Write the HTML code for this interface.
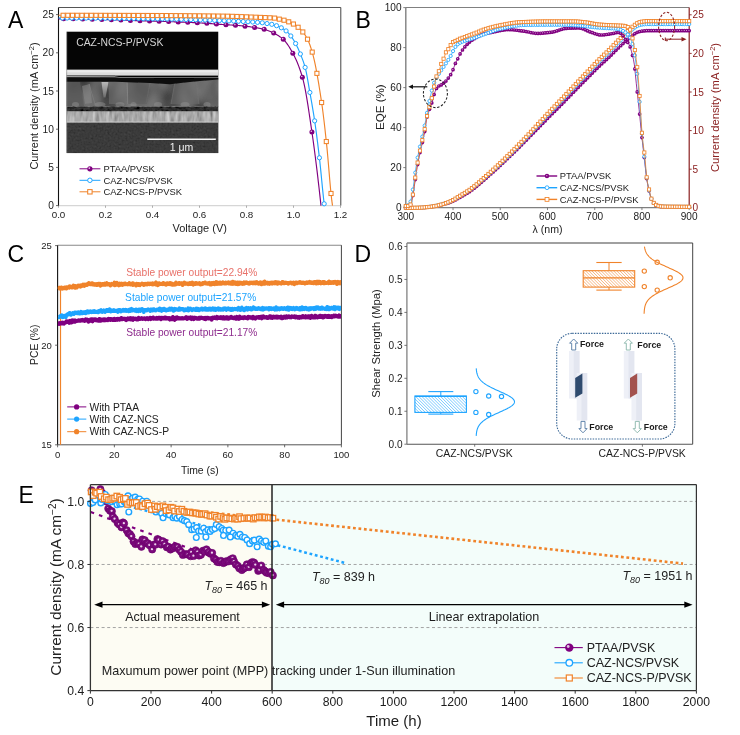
<!DOCTYPE html><html><head><meta charset="utf-8"><style>html,body{margin:0;padding:0;background:#fff;} svg{display:block;} text{font-family:'Liberation Sans', Arial, sans-serif;}</style></head><body>
<svg width="740" height="735" viewBox="0 0 740 735">
<rect width="740" height="735" fill="#fff"/>
<text x="8" y="27.7" font-size="23" text-anchor="start" fill="#000" >A</text>
<text x="355.5" y="27.7" font-size="23" text-anchor="start" fill="#000" >B</text>
<text x="7.5" y="261.5" font-size="23" text-anchor="start" fill="#000" >C</text>
<text x="354.5" y="261.5" font-size="23" text-anchor="start" fill="#000" >D</text>
<text x="18.5" y="503" font-size="23" text-anchor="start" fill="#000" >E</text>
<defs><filter id="semn" x="0" y="0" width="100%" height="100%">
 <feTurbulence type="fractalNoise" baseFrequency="0.5 0.5" numOctaves="2" seed="3" result="t"/>
 <feColorMatrix type="matrix" values="0.2667 0.2667 0.2667 0 0.1000  0.2667 0.2667 0.2667 0 0.1000  0.2667 0.2667 0.2667 0 0.1000  0 0 0 0 1" in="t" result="g"/>
 <feBlend in="g" in2="SourceGraphic" mode="overlay" result="o"/>
 <feComposite in="o" in2="SourceGraphic" operator="in"/>
</filter>
<filter id="semv" x="0" y="0" width="100%" height="100%">
 <feTurbulence type="fractalNoise" baseFrequency="0.3 0.08" numOctaves="2" seed="9" result="t"/>
 <feColorMatrix type="matrix" values="0.3333 0.3333 0.3333 0 0.0000  0.3333 0.3333 0.3333 0 0.0000  0.3333 0.3333 0.3333 0 0.0000  0 0 0 0 1" in="t" result="g"/>
 <feBlend in="g" in2="SourceGraphic" mode="overlay" result="o"/>
 <feComposite in="o" in2="SourceGraphic" operator="in"/>
</filter>
<filter id="semg" x="0" y="0" width="100%" height="100%">
 <feTurbulence type="fractalNoise" baseFrequency="0.05 0.03" numOctaves="2" seed="4" result="t"/>
 <feColorMatrix type="matrix" values="0.6000 0.6000 0.6000 0 -0.4000  0.6000 0.6000 0.6000 0 -0.4000  0.6000 0.6000 0.6000 0 -0.4000  0 0 0 0 1" in="t" result="g"/>
 <feBlend in="g" in2="SourceGraphic" mode="overlay" result="o"/>
 <feComposite in="o" in2="SourceGraphic" operator="in"/>
</filter>
<filter id="semd" x="0" y="0" width="100%" height="100%">
 <feTurbulence type="fractalNoise" baseFrequency="0.25 0.4" numOctaves="2" seed="6" result="t"/>
 <feColorMatrix type="matrix" values="0.8333 0.8333 0.8333 0 -0.7500  0.8333 0.8333 0.8333 0 -0.7500  0.8333 0.8333 0.8333 0 -0.7500  0 0 0 0 1" in="t" result="g"/>
 <feBlend in="g" in2="SourceGraphic" mode="overlay" result="o"/>
 <feComposite in="o" in2="SourceGraphic" operator="in"/>
</filter>

<filter id="blur05"><feGaussianBlur stdDeviation="0.6"/></filter>
<linearGradient id="wedge" x1="0" y1="0" x2="0" y2="1"><stop offset="0" stop-color="#b8b8b8"/><stop offset="1" stop-color="#6a6a6a"/></linearGradient>
<clipPath id="semclip"><rect x="66.4" y="31.4" width="152.1" height="121.8"/></clipPath>
</defs>
<g clip-path="url(#semclip)">
<rect x="66.4" y="31.4" width="152.1" height="121.8" fill="#050505"/>
<rect x="66.4" y="79" width="152.1" height="28" fill="#626262" filter="url(#semg)"/>
<g filter="url(#blur05)">
<path d="M66.4,82 L80,82 L84,106 L66.4,106 Z" fill="#5a5a5a" opacity="0.7"/>
<path d="M82,86 L90,84 L92,103 L85,104 Z" fill="#8a8a8a" opacity="0.55"/>
<path d="M101.5,82 L108.5,82 L105.5,97.5 L103.5,97.5 Z" fill="url(#wedge)"/>
<path d="M108.5,82 L127,82 L126,104 L109,104 Z" fill="#6e6e6e" opacity="0.6"/>
<path d="M127,82.5 L128,104" stroke="#8a8a8a" stroke-width="0.7" fill="none"/>
<path d="M89,84 L95,104" stroke="#7e7e7e" stroke-width="0.7" fill="none"/>
<path d="M150,82 L146,104" stroke="#7a7a7a" stroke-width="0.6" fill="none"/>
<path d="M175,82 L171,104" stroke="#777" stroke-width="0.6" fill="none"/>
<path d="M196,82 L199,104" stroke="#777" stroke-width="0.6" fill="none"/>
<path d="M128,82 L150,82 L147,104 L128,104 Z" fill="#5c5c5c" opacity="0.5"/>
<path d="M175,82 L196,82 L199,104 L171,104 Z" fill="#6c6c6c" opacity="0.5"/>
<ellipse cx="75.5" cy="104.5" rx="3.5" ry="2.6" fill="#9a9a9a" opacity="0.4"/>
<ellipse cx="100" cy="104.5" rx="5.5" ry="2.6" fill="#9a9a9a" opacity="0.4"/>
<ellipse cx="120" cy="104.5" rx="4.5" ry="2.6" fill="#9a9a9a" opacity="0.4"/>
<ellipse cx="133.5" cy="104.5" rx="3" ry="2.6" fill="#9a9a9a" opacity="0.4"/>
<ellipse cx="158" cy="104.5" rx="4" ry="2.6" fill="#9a9a9a" opacity="0.4"/>
<ellipse cx="185" cy="104.5" rx="4.5" ry="2.6" fill="#9a9a9a" opacity="0.4"/>
<ellipse cx="207" cy="104.5" rx="3.5" ry="2.6" fill="#9a9a9a" opacity="0.4"/>
</g>
<rect x="66.4" y="69.6" width="152.1" height="6" fill="#dcdcdc"/>
<rect x="66.4" y="70.2" width="152.1" height="2.2" fill="#efefef" opacity="0.8"/>
<path d="M66.4,75.3 L115,75.3 L115,76.6 L66.4,76.6 Z" fill="#6a6a6a"/>
<path d="M66.4,76.2 L115,76.4 L119,77.0 L218.5,77.2 L218.5,77.8 L66.4,77.4 Z" fill="#c8c8c8"/>
<path d="M66.4,77.2 L115,77.4 L120,78.0 L160,78.4 L172,79.0 L190,78.6 L218.5,78.0 L218.5,79.6 L200,81 L185,82.6 L170,84.2 L150,83 L129,82.2 L115,81.8 L66.4,81.8 Z" fill="#0c0c0c" filter="url(#blur05)"/>
<rect x="66.4" y="106.2" width="152.1" height="5.3" fill="#2c2c2c" filter="url(#semd)"/>
<rect x="66.4" y="111.3" width="152.1" height="11" fill="#a9a9a9" filter="url(#semv)"/>
<rect x="66.4" y="121.6" width="152.1" height="1" fill="#cfcfcf"/>
<rect x="66.4" y="122.6" width="152.1" height="30.6" fill="#3a3a3a" filter="url(#semn)"/>
<rect x="66.4" y="31.4" width="0.8" height="121.8" fill="#9a9a9a" opacity="0.6"/>
</g>
<line x1="147.3" y1="139.2" x2="215.8" y2="139.2" stroke="#f4f4f4" stroke-width="1.4" />
<text x="181.6" y="151.4" font-size="10.5" text-anchor="middle" fill="#f0f0f0" >1 &#956;m</text>
<text x="76.2" y="46" font-size="10.4" text-anchor="start" fill="#d4d4d4" >CAZ-NCS-P/PVSK</text>
<line x1="58.5" y1="205.6" x2="340.8" y2="205.6" stroke="#d6d6d6" stroke-width="1.1" />
<line x1="58.5" y1="7.5" x2="340.8" y2="7.5" stroke="#555" stroke-width="1" />
<line x1="340.8" y1="7.5" x2="340.8" y2="205.6" stroke="#444" stroke-width="1" />
<line x1="58.5" y1="7.5" x2="58.5" y2="206.2" stroke="#111" stroke-width="1.1" />
<line x1="56" y1="205.6" x2="58.5" y2="205.6" stroke="#444" stroke-width="0.8" />
<text x="53.9" y="209.2" font-size="10.2" text-anchor="end" fill="#1c1c1c" >0</text>
<line x1="56" y1="167.4" x2="58.5" y2="167.4" stroke="#444" stroke-width="0.8" />
<text x="53.9" y="171" font-size="10.2" text-anchor="end" fill="#1c1c1c" >5</text>
<line x1="56" y1="129.2" x2="58.5" y2="129.2" stroke="#444" stroke-width="0.8" />
<text x="53.9" y="132.8" font-size="10.2" text-anchor="end" fill="#1c1c1c" >10</text>
<line x1="56" y1="91" x2="58.5" y2="91" stroke="#444" stroke-width="0.8" />
<text x="53.9" y="94.6" font-size="10.2" text-anchor="end" fill="#1c1c1c" >15</text>
<line x1="56" y1="52.8" x2="58.5" y2="52.8" stroke="#444" stroke-width="0.8" />
<text x="53.9" y="56.4" font-size="10.2" text-anchor="end" fill="#1c1c1c" >20</text>
<line x1="56" y1="14.6" x2="58.5" y2="14.6" stroke="#444" stroke-width="0.8" />
<text x="53.9" y="18.2" font-size="10.2" text-anchor="end" fill="#1c1c1c" >25</text>
<line x1="58.5" y1="205.6" x2="58.5" y2="207.8" stroke="#999" stroke-width="0.8" />
<text x="58.5" y="218.3" font-size="9.8" text-anchor="middle" fill="#1c1c1c" >0.0</text>
<line x1="105.5" y1="205.6" x2="105.5" y2="207.8" stroke="#999" stroke-width="0.8" />
<text x="105.5" y="218.3" font-size="9.8" text-anchor="middle" fill="#1c1c1c" >0.2</text>
<line x1="152.5" y1="205.6" x2="152.5" y2="207.8" stroke="#999" stroke-width="0.8" />
<text x="152.5" y="218.3" font-size="9.8" text-anchor="middle" fill="#1c1c1c" >0.4</text>
<line x1="199.5" y1="205.6" x2="199.5" y2="207.8" stroke="#999" stroke-width="0.8" />
<text x="199.5" y="218.3" font-size="9.8" text-anchor="middle" fill="#1c1c1c" >0.6</text>
<line x1="246.5" y1="205.6" x2="246.5" y2="207.8" stroke="#999" stroke-width="0.8" />
<text x="246.5" y="218.3" font-size="9.8" text-anchor="middle" fill="#1c1c1c" >0.8</text>
<line x1="293.5" y1="205.6" x2="293.5" y2="207.8" stroke="#999" stroke-width="0.8" />
<text x="293.5" y="218.3" font-size="9.8" text-anchor="middle" fill="#1c1c1c" >1.0</text>
<line x1="340.5" y1="205.6" x2="340.5" y2="207.8" stroke="#999" stroke-width="0.8" />
<text x="340.5" y="218.3" font-size="9.8" text-anchor="middle" fill="#1c1c1c" >1.2</text>
<text x="199.7" y="232" font-size="11" text-anchor="middle" fill="#1c1c1c" >Voltage (V)</text>
<text transform="translate(37.7,106) rotate(-90)" font-size="11" text-anchor="middle" fill="#222">Current density (mA cm<tspan font-size="7.5" dy="-4">&#8722;2</tspan><tspan dy="4">)</tspan></text>
<polyline points="58.5,18.8 59.16,18.8 59.82,18.8 60.47,18.8 61.13,18.8 61.79,18.8 62.45,18.8 63.11,18.8 63.76,18.8 64.42,18.8 65.08,18.8 65.74,18.8 66.39,18.81 67.05,18.81 67.71,18.81 68.37,18.81 69.03,18.82 69.68,18.82 70.34,18.83 71,18.83 71.66,18.84 72.32,18.84 72.97,18.85 73.63,18.86 74.29,18.86 74.95,18.87 75.6,18.88 76.26,18.89 76.92,18.9 77.58,18.91 78.24,18.92 78.89,18.93 79.55,18.94 80.21,18.95 80.87,18.96 81.53,18.97 82.18,18.98 82.84,18.99 83.5,19.01 84.16,19.02 84.82,19.03 85.47,19.05 86.13,19.06 86.79,19.07 87.45,19.09 88.1,19.1 88.76,19.12 89.42,19.13 90.08,19.15 90.74,19.17 91.39,19.18 92.05,19.2 92.71,19.22 93.37,19.23 94.03,19.25 94.68,19.27 95.34,19.28 96,19.3 96.66,19.32 97.32,19.34 97.97,19.36 98.63,19.38 99.29,19.39 99.95,19.41 100.6,19.43 101.26,19.45 101.92,19.47 102.58,19.49 103.24,19.51 103.89,19.53 104.55,19.55 105.21,19.57 105.87,19.59 106.53,19.61 107.18,19.64 107.84,19.66 108.5,19.68 109.16,19.7 109.81,19.72 110.47,19.74 111.13,19.76 111.79,19.79 112.45,19.81 113.1,19.83 113.76,19.85 114.42,19.87 115.08,19.89 115.74,19.92 116.39,19.94 117.05,19.96 117.71,19.98 118.37,20.01 119.03,20.03 119.68,20.05 120.34,20.07 121,20.09 121.66,20.12 122.31,20.14 122.97,20.16 123.63,20.18 124.29,20.21 124.95,20.23 125.6,20.25 126.26,20.27 126.92,20.29 127.58,20.32 128.24,20.34 128.89,20.36 129.55,20.38 130.21,20.4 130.87,20.43 131.52,20.45 132.18,20.47 132.84,20.49 133.5,20.51 134.16,20.53 134.81,20.56 135.47,20.58 136.13,20.6 136.79,20.62 137.45,20.64 138.1,20.66 138.76,20.68 139.42,20.7 140.08,20.72 140.74,20.74 141.39,20.76 142.05,20.78 142.71,20.8 143.37,20.82 144.02,20.84 144.68,20.86 145.34,20.88 146,20.9 146.66,20.92 147.31,20.94 147.97,20.96 148.63,20.98 149.29,21 149.95,21.02 150.6,21.04 151.26,21.06 151.92,21.08 152.58,21.1 153.24,21.12 153.89,21.14 154.55,21.16 155.21,21.18 155.87,21.2 156.52,21.22 157.18,21.24 157.84,21.26 158.5,21.28 159.16,21.3 159.81,21.32 160.47,21.34 161.13,21.37 161.79,21.39 162.45,21.41 163.1,21.43 163.76,21.45 164.42,21.47 165.08,21.49 165.73,21.51 166.39,21.54 167.05,21.56 167.71,21.58 168.37,21.6 169.02,21.62 169.68,21.65 170.34,21.67 171,21.69 171.66,21.72 172.31,21.74 172.97,21.76 173.63,21.79 174.29,21.81 174.95,21.83 175.6,21.86 176.26,21.88 176.92,21.91 177.58,21.93 178.23,21.96 178.89,21.98 179.55,22.01 180.21,22.03 180.87,22.06 181.52,22.08 182.18,22.11 182.84,22.14 183.5,22.16 184.16,22.19 184.81,22.22 185.47,22.24 186.13,22.27 186.79,22.3 187.44,22.33 188.1,22.36 188.76,22.39 189.42,22.41 190.08,22.44 190.73,22.47 191.39,22.5 192.05,22.53 192.71,22.56 193.37,22.59 194.02,22.63 194.68,22.66 195.34,22.69 196,22.72 196.66,22.75 197.31,22.79 197.97,22.82 198.63,22.85 199.29,22.89 199.94,22.92 200.6,22.95 201.26,22.99 201.92,23.02 202.58,23.06 203.23,23.1 203.89,23.13 204.55,23.17 205.21,23.21 205.87,23.24 206.52,23.28 207.18,23.32 207.84,23.36 208.5,23.41 209.16,23.46 209.81,23.51 210.47,23.57 211.13,23.63 211.79,23.69 212.44,23.75 213.1,23.81 213.76,23.87 214.42,23.93 215.08,23.99 215.73,24.04 216.39,24.09 217.05,24.14 217.71,24.18 218.37,24.23 219.02,24.27 219.68,24.31 220.34,24.36 221,24.4 221.65,24.44 222.31,24.48 222.97,24.52 223.63,24.56 224.29,24.6 224.94,24.64 225.6,24.69 226.26,24.73 226.92,24.77 227.58,24.81 228.23,24.85 228.89,24.88 229.55,24.92 230.21,24.96 230.87,25 231.52,25.04 232.18,25.08 232.84,25.12 233.5,25.16 234.15,25.21 234.81,25.25 235.47,25.3 236.13,25.35 236.79,25.39 237.44,25.44 238.1,25.5 238.76,25.55 239.42,25.6 240.08,25.66 240.73,25.71 241.39,25.77 242.05,25.83 242.71,25.89 243.36,25.96 244.02,26.02 244.68,26.09 245.34,26.16 246,26.24 246.65,26.32 247.31,26.4 247.97,26.49 248.63,26.58 249.29,26.67 249.94,26.77 250.6,26.86 251.26,26.96 251.92,27.06 252.58,27.17 253.23,27.27 253.89,27.38 254.55,27.48 255.21,27.59 255.86,27.69 256.52,27.8 257.18,27.9 257.84,28.01 258.5,28.12 259.15,28.23 259.81,28.35 260.47,28.47 261.13,28.6 261.79,28.73 262.44,28.87 263.1,29.02 263.76,29.18 264.42,29.34 265.08,29.53 265.73,29.73 266.39,29.94 267.05,30.17 267.71,30.42 268.36,30.67 269.02,30.94 269.68,31.22 270.34,31.51 271,31.8 271.65,32.11 272.31,32.42 272.97,32.74 273.63,33.06 274.29,33.39 274.94,33.73 275.6,34.08 276.26,34.43 276.92,34.8 277.57,35.19 278.23,35.59 278.89,36.01 279.55,36.45 280.21,36.91 280.86,37.39 281.52,37.9 282.18,38.43 282.84,38.99 283.5,39.59 284.15,40.24 284.81,40.94 285.47,41.71 286.13,42.53 286.79,43.39 287.44,44.31 288.1,45.26 288.76,46.26 289.42,47.3 290.07,48.38 290.73,49.49 291.39,50.63 292.05,51.8 292.71,52.99 293.36,54.22 294.02,55.48 294.68,56.8 295.34,58.16 296,59.58 296.65,61.06 297.31,62.6 297.97,64.22 298.63,65.91 299.28,67.68 299.94,69.54 300.6,71.49 301.26,73.53 301.92,75.68 302.57,77.93 303.23,80.32 303.89,83.02 304.55,86.02 305.21,89.31 305.86,92.85 306.52,96.6 307.18,100.55 307.84,104.66 308.5,108.9 309.15,113.23 309.81,117.65 310.47,122.1 311.13,126.57 311.78,131.02 312.44,135.57 313.1,140.25 313.76,145.06 314.42,149.99 315.07,155.05 315.73,160.22 316.39,165.52 317.05,170.93 317.71,176.44 318.36,182.07 319.02,187.8 319.68,193.64 320.34,199.57 321,205.6" fill="none" stroke="#800080" stroke-width="1.15" />
<circle cx="63.6" cy="18.8" r="2.5" fill="#800080"/><circle cx="63" cy="18.1" r="0.8" fill="#e8c8e8"/>
<circle cx="73.15" cy="18.85" r="2.5" fill="#800080"/><circle cx="72.55" cy="18.15" r="0.8" fill="#e8c8e8"/>
<circle cx="82.7" cy="18.99" r="2.5" fill="#800080"/><circle cx="82.1" cy="18.29" r="0.8" fill="#e8c8e8"/>
<circle cx="92.25" cy="19.2" r="2.5" fill="#800080"/><circle cx="91.65" cy="18.5" r="0.8" fill="#e8c8e8"/>
<circle cx="101.8" cy="19.47" r="2.5" fill="#800080"/><circle cx="101.2" cy="18.77" r="0.8" fill="#e8c8e8"/>
<circle cx="111.35" cy="19.77" r="2.5" fill="#800080"/><circle cx="110.75" cy="19.07" r="0.8" fill="#e8c8e8"/>
<circle cx="120.9" cy="20.09" r="2.5" fill="#800080"/><circle cx="120.3" cy="19.39" r="0.8" fill="#e8c8e8"/>
<circle cx="130.45" cy="20.41" r="2.5" fill="#800080"/><circle cx="129.85" cy="19.71" r="0.8" fill="#e8c8e8"/>
<circle cx="140" cy="20.72" r="2.5" fill="#800080"/><circle cx="139.4" cy="20.02" r="0.8" fill="#e8c8e8"/>
<circle cx="149.55" cy="21.01" r="2.5" fill="#800080"/><circle cx="148.95" cy="20.31" r="0.8" fill="#e8c8e8"/>
<circle cx="159.1" cy="21.3" r="2.5" fill="#800080"/><circle cx="158.5" cy="20.6" r="0.8" fill="#e8c8e8"/>
<circle cx="168.65" cy="21.61" r="2.5" fill="#800080"/><circle cx="168.05" cy="20.91" r="0.8" fill="#e8c8e8"/>
<circle cx="178.2" cy="21.95" r="2.5" fill="#800080"/><circle cx="177.6" cy="21.25" r="0.8" fill="#e8c8e8"/>
<circle cx="187.75" cy="22.34" r="2.5" fill="#800080"/><circle cx="187.15" cy="21.64" r="0.8" fill="#e8c8e8"/>
<circle cx="197.31" cy="22.79" r="2.5" fill="#800080"/><circle cx="196.71" cy="22.09" r="0.8" fill="#e8c8e8"/>
<circle cx="206.86" cy="23.3" r="2.5" fill="#800080"/><circle cx="206.26" cy="22.6" r="0.8" fill="#e8c8e8"/>
<circle cx="216.41" cy="24.09" r="2.5" fill="#800080"/><circle cx="215.81" cy="23.39" r="0.8" fill="#e8c8e8"/>
<circle cx="225.96" cy="24.71" r="2.5" fill="#800080"/><circle cx="225.36" cy="24.01" r="0.8" fill="#e8c8e8"/>
<circle cx="235.51" cy="25.3" r="2.5" fill="#800080"/><circle cx="234.91" cy="24.6" r="0.8" fill="#e8c8e8"/>
<circle cx="245.06" cy="26.13" r="2.5" fill="#800080"/><circle cx="244.46" cy="25.43" r="0.8" fill="#e8c8e8"/>
<circle cx="254.61" cy="27.49" r="2.5" fill="#800080"/><circle cx="254.01" cy="26.79" r="0.8" fill="#e8c8e8"/>
<circle cx="264.16" cy="29.28" r="2.5" fill="#800080"/><circle cx="263.56" cy="28.58" r="0.8" fill="#e8c8e8"/>
<circle cx="273.71" cy="33.1" r="2.5" fill="#800080"/><circle cx="273.11" cy="32.4" r="0.8" fill="#e8c8e8"/>
<circle cx="283.26" cy="39.37" r="2.5" fill="#800080"/><circle cx="282.66" cy="38.67" r="0.8" fill="#e8c8e8"/>
<circle cx="292.81" cy="53.18" r="2.5" fill="#800080"/><circle cx="292.21" cy="52.48" r="0.8" fill="#e8c8e8"/>
<circle cx="302.36" cy="77.18" r="2.5" fill="#800080"/><circle cx="301.76" cy="76.48" r="0.8" fill="#e8c8e8"/>
<circle cx="311.91" cy="131.88" r="2.5" fill="#800080"/><circle cx="311.31" cy="131.18" r="0.8" fill="#e8c8e8"/>
<polyline points="58.5,18.04 59.17,18.04 59.83,18.04 60.5,18.04 61.17,18.04 61.83,18.04 62.5,18.04 63.16,18.04 63.83,18.04 64.5,18.04 65.16,18.04 65.83,18.04 66.5,18.05 67.16,18.05 67.83,18.05 68.5,18.05 69.16,18.05 69.83,18.05 70.5,18.06 71.16,18.06 71.83,18.06 72.49,18.06 73.16,18.06 73.83,18.07 74.49,18.07 75.16,18.07 75.83,18.07 76.49,18.08 77.16,18.08 77.83,18.08 78.49,18.08 79.16,18.09 79.83,18.09 80.49,18.09 81.16,18.1 81.82,18.1 82.49,18.1 83.16,18.11 83.82,18.11 84.49,18.11 85.16,18.12 85.82,18.12 86.49,18.13 87.16,18.13 87.82,18.13 88.49,18.14 89.16,18.14 89.82,18.15 90.49,18.15 91.15,18.16 91.82,18.16 92.49,18.16 93.15,18.17 93.82,18.17 94.49,18.18 95.15,18.18 95.82,18.19 96.49,18.19 97.15,18.2 97.82,18.2 98.49,18.21 99.15,18.22 99.82,18.22 100.48,18.23 101.15,18.23 101.82,18.24 102.48,18.24 103.15,18.25 103.82,18.25 104.48,18.26 105.15,18.27 105.82,18.27 106.48,18.28 107.15,18.28 107.82,18.29 108.48,18.3 109.15,18.3 109.81,18.31 110.48,18.32 111.15,18.32 111.81,18.33 112.48,18.34 113.15,18.34 113.81,18.35 114.48,18.36 115.15,18.36 115.81,18.37 116.48,18.38 117.15,18.38 117.81,18.39 118.48,18.4 119.14,18.4 119.81,18.41 120.48,18.42 121.14,18.42 121.81,18.43 122.48,18.44 123.14,18.45 123.81,18.45 124.48,18.46 125.14,18.47 125.81,18.48 126.48,18.48 127.14,18.49 127.81,18.5 128.47,18.51 129.14,18.51 129.81,18.52 130.47,18.53 131.14,18.54 131.81,18.55 132.47,18.55 133.14,18.56 133.81,18.57 134.47,18.58 135.14,18.59 135.8,18.59 136.47,18.6 137.14,18.61 137.8,18.62 138.47,18.63 139.14,18.63 139.8,18.64 140.47,18.65 141.14,18.66 141.8,18.67 142.47,18.68 143.14,18.68 143.8,18.69 144.47,18.7 145.13,18.71 145.8,18.72 146.47,18.73 147.13,18.73 147.8,18.74 148.47,18.75 149.13,18.76 149.8,18.77 150.47,18.78 151.13,18.78 151.8,18.79 152.47,18.8 153.13,18.81 153.8,18.82 154.46,18.83 155.13,18.84 155.8,18.85 156.46,18.86 157.13,18.87 157.8,18.88 158.46,18.89 159.13,18.9 159.8,18.91 160.46,18.92 161.13,18.93 161.8,18.94 162.46,18.96 163.13,18.97 163.79,18.98 164.46,18.99 165.13,19 165.79,19.02 166.46,19.03 167.13,19.04 167.79,19.06 168.46,19.07 169.13,19.08 169.79,19.1 170.46,19.11 171.13,19.13 171.79,19.14 172.46,19.16 173.12,19.17 173.79,19.19 174.46,19.2 175.12,19.22 175.79,19.23 176.46,19.25 177.12,19.27 177.79,19.28 178.46,19.3 179.12,19.31 179.79,19.33 180.46,19.35 181.12,19.37 181.79,19.38 182.45,19.4 183.12,19.42 183.79,19.44 184.45,19.45 185.12,19.47 185.79,19.49 186.45,19.51 187.12,19.53 187.79,19.55 188.45,19.56 189.12,19.58 189.79,19.6 190.45,19.62 191.12,19.64 191.78,19.66 192.45,19.68 193.12,19.7 193.78,19.72 194.45,19.74 195.12,19.76 195.78,19.78 196.45,19.8 197.12,19.82 197.78,19.84 198.45,19.87 199.12,19.89 199.78,19.91 200.45,19.93 201.11,19.95 201.78,19.97 202.45,19.99 203.11,20.02 203.78,20.04 204.45,20.06 205.11,20.08 205.78,20.1 206.45,20.13 207.11,20.15 207.78,20.17 208.45,20.19 209.11,20.22 209.78,20.24 210.44,20.26 211.11,20.29 211.78,20.31 212.44,20.33 213.11,20.36 213.78,20.38 214.44,20.4 215.11,20.43 215.78,20.45 216.44,20.47 217.11,20.5 217.77,20.52 218.44,20.55 219.11,20.57 219.77,20.59 220.44,20.62 221.11,20.64 221.77,20.67 222.44,20.69 223.11,20.72 223.77,20.74 224.44,20.76 225.11,20.79 225.77,20.81 226.44,20.84 227.1,20.86 227.77,20.89 228.44,20.91 229.1,20.93 229.77,20.96 230.44,20.98 231.1,21.01 231.77,21.03 232.44,21.06 233.1,21.08 233.77,21.11 234.44,21.13 235.1,21.16 235.77,21.18 236.43,21.21 237.1,21.24 237.77,21.27 238.43,21.29 239.1,21.32 239.77,21.35 240.43,21.38 241.1,21.41 241.77,21.44 242.43,21.47 243.1,21.5 243.77,21.53 244.43,21.57 245.1,21.6 245.76,21.63 246.43,21.67 247.1,21.7 247.76,21.74 248.43,21.78 249.1,21.82 249.76,21.86 250.43,21.9 251.1,21.94 251.76,21.98 252.43,22.02 253.1,22.06 253.76,22.11 254.43,22.15 255.09,22.2 255.76,22.25 256.43,22.3 257.09,22.35 257.76,22.4 258.43,22.45 259.09,22.51 259.76,22.56 260.43,22.62 261.09,22.68 261.76,22.74 262.43,22.8 263.09,22.88 263.76,22.97 264.42,23.09 265.09,23.2 265.76,23.32 266.42,23.44 267.09,23.55 267.76,23.66 268.42,23.76 269.09,23.86 269.76,23.96 270.42,24.07 271.09,24.18 271.76,24.32 272.42,24.46 273.09,24.63 273.75,24.81 274.42,25 275.09,25.21 275.75,25.42 276.42,25.65 277.09,25.88 277.75,26.14 278.42,26.41 279.09,26.69 279.75,27 280.42,27.32 281.09,27.65 281.75,28.01 282.42,28.38 283.08,28.78 283.75,29.21 284.42,29.66 285.08,30.14 285.75,30.65 286.42,31.19 287.08,31.78 287.75,32.42 288.42,33.11 289.08,33.84 289.75,34.62 290.41,35.43 291.08,36.28 291.75,37.19 292.41,38.16 293.08,39.19 293.75,40.27 294.41,41.4 295.08,42.57 295.75,43.79 296.41,45.07 297.08,46.43 297.75,47.85 298.41,49.33 299.08,50.87 299.74,52.46 300.41,54.09 301.08,55.73 301.74,57.4 302.41,59.11 303.08,60.92 303.74,62.85 304.41,64.94 305.08,67.23 305.74,69.79 306.41,72.84 307.08,76.29 307.74,80.03 308.41,83.92 309.07,87.84 309.74,91.66 310.41,95.4 311.07,99.15 311.74,102.94 312.41,106.82 313.07,110.8 313.74,114.94 314.41,119.25 315.07,123.78 315.74,128.51 316.41,133.45 317.07,138.56 317.74,143.85 318.4,149.31 319.07,154.91 319.74,160.71 320.4,167.01 321.07,173.68 321.74,180.52 322.4,187.33 323.07,193.93 323.74,200.12 324.4,205.6" fill="none" stroke="#1EA4FF" stroke-width="1.15" />
<circle cx="62.31" cy="18.04" r="2.1" fill="#fff" stroke="#1EA4FF" stroke-width="1.0"/>
<circle cx="67.07" cy="18.05" r="2.1" fill="#fff" stroke="#1EA4FF" stroke-width="1.0"/>
<circle cx="71.83" cy="18.06" r="2.1" fill="#fff" stroke="#1EA4FF" stroke-width="1.0"/>
<circle cx="76.59" cy="18.08" r="2.1" fill="#fff" stroke="#1EA4FF" stroke-width="1.0"/>
<circle cx="81.35" cy="18.1" r="2.1" fill="#fff" stroke="#1EA4FF" stroke-width="1.0"/>
<circle cx="86.11" cy="18.12" r="2.1" fill="#fff" stroke="#1EA4FF" stroke-width="1.0"/>
<circle cx="90.87" cy="18.15" r="2.1" fill="#fff" stroke="#1EA4FF" stroke-width="1.0"/>
<circle cx="95.63" cy="18.19" r="2.1" fill="#fff" stroke="#1EA4FF" stroke-width="1.0"/>
<circle cx="100.4" cy="18.23" r="2.1" fill="#fff" stroke="#1EA4FF" stroke-width="1.0"/>
<circle cx="105.16" cy="18.27" r="2.1" fill="#fff" stroke="#1EA4FF" stroke-width="1.0"/>
<circle cx="109.92" cy="18.31" r="2.1" fill="#fff" stroke="#1EA4FF" stroke-width="1.0"/>
<circle cx="114.68" cy="18.36" r="2.1" fill="#fff" stroke="#1EA4FF" stroke-width="1.0"/>
<circle cx="119.44" cy="18.41" r="2.1" fill="#fff" stroke="#1EA4FF" stroke-width="1.0"/>
<circle cx="124.2" cy="18.46" r="2.1" fill="#fff" stroke="#1EA4FF" stroke-width="1.0"/>
<circle cx="128.96" cy="18.51" r="2.1" fill="#fff" stroke="#1EA4FF" stroke-width="1.0"/>
<circle cx="133.72" cy="18.57" r="2.1" fill="#fff" stroke="#1EA4FF" stroke-width="1.0"/>
<circle cx="138.48" cy="18.63" r="2.1" fill="#fff" stroke="#1EA4FF" stroke-width="1.0"/>
<circle cx="143.25" cy="18.68" r="2.1" fill="#fff" stroke="#1EA4FF" stroke-width="1.0"/>
<circle cx="148.01" cy="18.74" r="2.1" fill="#fff" stroke="#1EA4FF" stroke-width="1.0"/>
<circle cx="152.77" cy="18.81" r="2.1" fill="#fff" stroke="#1EA4FF" stroke-width="1.0"/>
<circle cx="157.53" cy="18.87" r="2.1" fill="#fff" stroke="#1EA4FF" stroke-width="1.0"/>
<circle cx="162.29" cy="18.95" r="2.1" fill="#fff" stroke="#1EA4FF" stroke-width="1.0"/>
<circle cx="167.05" cy="19.04" r="2.1" fill="#fff" stroke="#1EA4FF" stroke-width="1.0"/>
<circle cx="171.81" cy="19.14" r="2.1" fill="#fff" stroke="#1EA4FF" stroke-width="1.0"/>
<circle cx="176.57" cy="19.25" r="2.1" fill="#fff" stroke="#1EA4FF" stroke-width="1.0"/>
<circle cx="181.33" cy="19.37" r="2.1" fill="#fff" stroke="#1EA4FF" stroke-width="1.0"/>
<circle cx="186.1" cy="19.5" r="2.1" fill="#fff" stroke="#1EA4FF" stroke-width="1.0"/>
<circle cx="190.86" cy="19.63" r="2.1" fill="#fff" stroke="#1EA4FF" stroke-width="1.0"/>
<circle cx="195.62" cy="19.78" r="2.1" fill="#fff" stroke="#1EA4FF" stroke-width="1.0"/>
<circle cx="200.38" cy="19.93" r="2.1" fill="#fff" stroke="#1EA4FF" stroke-width="1.0"/>
<circle cx="205.14" cy="20.08" r="2.1" fill="#fff" stroke="#1EA4FF" stroke-width="1.0"/>
<circle cx="209.9" cy="20.24" r="2.1" fill="#fff" stroke="#1EA4FF" stroke-width="1.0"/>
<circle cx="214.66" cy="20.41" r="2.1" fill="#fff" stroke="#1EA4FF" stroke-width="1.0"/>
<circle cx="219.42" cy="20.58" r="2.1" fill="#fff" stroke="#1EA4FF" stroke-width="1.0"/>
<circle cx="224.18" cy="20.76" r="2.1" fill="#fff" stroke="#1EA4FF" stroke-width="1.0"/>
<circle cx="228.95" cy="20.93" r="2.1" fill="#fff" stroke="#1EA4FF" stroke-width="1.0"/>
<circle cx="233.71" cy="21.1" r="2.1" fill="#fff" stroke="#1EA4FF" stroke-width="1.0"/>
<circle cx="238.47" cy="21.29" r="2.1" fill="#fff" stroke="#1EA4FF" stroke-width="1.0"/>
<circle cx="243.23" cy="21.51" r="2.1" fill="#fff" stroke="#1EA4FF" stroke-width="1.0"/>
<circle cx="247.99" cy="21.75" r="2.1" fill="#fff" stroke="#1EA4FF" stroke-width="1.0"/>
<circle cx="252.75" cy="22.04" r="2.1" fill="#fff" stroke="#1EA4FF" stroke-width="1.0"/>
<circle cx="257.51" cy="22.38" r="2.1" fill="#fff" stroke="#1EA4FF" stroke-width="1.0"/>
<circle cx="262.27" cy="22.78" r="2.1" fill="#fff" stroke="#1EA4FF" stroke-width="1.0"/>
<circle cx="267.03" cy="23.55" r="2.1" fill="#fff" stroke="#1EA4FF" stroke-width="1.0"/>
<circle cx="271.8" cy="24.32" r="2.1" fill="#fff" stroke="#1EA4FF" stroke-width="1.0"/>
<circle cx="276.56" cy="25.69" r="2.1" fill="#fff" stroke="#1EA4FF" stroke-width="1.0"/>
<circle cx="281.32" cy="27.78" r="2.1" fill="#fff" stroke="#1EA4FF" stroke-width="1.0"/>
<circle cx="286.08" cy="30.91" r="2.1" fill="#fff" stroke="#1EA4FF" stroke-width="1.0"/>
<circle cx="290.84" cy="35.97" r="2.1" fill="#fff" stroke="#1EA4FF" stroke-width="1.0"/>
<circle cx="295.6" cy="43.52" r="2.1" fill="#fff" stroke="#1EA4FF" stroke-width="1.0"/>
<circle cx="300.36" cy="53.97" r="2.1" fill="#fff" stroke="#1EA4FF" stroke-width="1.0"/>
<circle cx="305.12" cy="67.4" r="2.1" fill="#fff" stroke="#1EA4FF" stroke-width="1.0"/>
<circle cx="309.88" cy="92.46" r="2.1" fill="#fff" stroke="#1EA4FF" stroke-width="1.0"/>
<circle cx="314.65" cy="120.85" r="2.1" fill="#fff" stroke="#1EA4FF" stroke-width="1.0"/>
<circle cx="319.41" cy="157.78" r="2.1" fill="#fff" stroke="#1EA4FF" stroke-width="1.0"/>
<circle cx="324.17" cy="203.8" r="2.1" fill="#fff" stroke="#1EA4FF" stroke-width="1.0"/>
<polyline points="58.5,15.29 59.19,15.29 59.87,15.29 60.56,15.29 61.25,15.29 61.93,15.29 62.62,15.29 63.31,15.29 63.99,15.29 64.68,15.29 65.37,15.29 66.05,15.29 66.74,15.29 67.43,15.29 68.11,15.29 68.8,15.29 69.49,15.29 70.17,15.29 70.86,15.29 71.55,15.29 72.23,15.29 72.92,15.29 73.61,15.3 74.3,15.3 74.98,15.3 75.67,15.3 76.36,15.3 77.04,15.3 77.73,15.3 78.42,15.3 79.1,15.3 79.79,15.3 80.48,15.3 81.16,15.3 81.85,15.31 82.54,15.31 83.22,15.31 83.91,15.31 84.6,15.31 85.28,15.31 85.97,15.31 86.66,15.31 87.34,15.32 88.03,15.32 88.72,15.32 89.4,15.32 90.09,15.32 90.78,15.32 91.46,15.32 92.15,15.32 92.84,15.33 93.52,15.33 94.21,15.33 94.9,15.33 95.58,15.33 96.27,15.33 96.96,15.33 97.64,15.34 98.33,15.34 99.02,15.34 99.7,15.34 100.39,15.34 101.08,15.34 101.76,15.35 102.45,15.35 103.14,15.35 103.82,15.35 104.51,15.35 105.2,15.36 105.89,15.36 106.57,15.36 107.26,15.36 107.95,15.36 108.63,15.36 109.32,15.37 110.01,15.37 110.69,15.37 111.38,15.37 112.07,15.37 112.75,15.38 113.44,15.38 114.13,15.38 114.81,15.38 115.5,15.39 116.19,15.39 116.87,15.39 117.56,15.39 118.25,15.39 118.93,15.4 119.62,15.4 120.31,15.4 120.99,15.4 121.68,15.4 122.37,15.41 123.05,15.41 123.74,15.41 124.43,15.41 125.11,15.42 125.8,15.42 126.49,15.42 127.17,15.42 127.86,15.43 128.55,15.43 129.23,15.43 129.92,15.43 130.61,15.43 131.29,15.44 131.98,15.44 132.67,15.44 133.35,15.44 134.04,15.45 134.73,15.45 135.42,15.45 136.1,15.45 136.79,15.46 137.48,15.46 138.16,15.46 138.85,15.46 139.54,15.47 140.22,15.47 140.91,15.47 141.6,15.47 142.28,15.48 142.97,15.48 143.66,15.48 144.34,15.49 145.03,15.49 145.72,15.49 146.4,15.49 147.09,15.5 147.78,15.5 148.46,15.5 149.15,15.5 149.84,15.51 150.52,15.51 151.21,15.51 151.9,15.51 152.58,15.52 153.27,15.52 153.96,15.52 154.64,15.53 155.33,15.53 156.02,15.53 156.7,15.53 157.39,15.54 158.08,15.54 158.76,15.54 159.45,15.55 160.14,15.55 160.82,15.55 161.51,15.56 162.2,15.56 162.88,15.56 163.57,15.57 164.26,15.57 164.94,15.57 165.63,15.58 166.32,15.58 167.01,15.58 167.69,15.59 168.38,15.59 169.07,15.6 169.75,15.6 170.44,15.6 171.13,15.61 171.81,15.61 172.5,15.62 173.19,15.62 173.87,15.63 174.56,15.63 175.25,15.63 175.93,15.64 176.62,15.64 177.31,15.65 177.99,15.65 178.68,15.66 179.37,15.66 180.05,15.67 180.74,15.67 181.43,15.68 182.11,15.68 182.8,15.69 183.49,15.69 184.17,15.7 184.86,15.7 185.55,15.71 186.23,15.71 186.92,15.72 187.61,15.73 188.29,15.73 188.98,15.74 189.67,15.74 190.35,15.75 191.04,15.76 191.73,15.76 192.41,15.77 193.1,15.77 193.79,15.78 194.47,15.79 195.16,15.79 195.85,15.8 196.54,15.81 197.22,15.81 197.91,15.82 198.6,15.83 199.28,15.83 199.97,15.84 200.66,15.85 201.34,15.86 202.03,15.86 202.72,15.87 203.4,15.88 204.09,15.89 204.78,15.89 205.46,15.9 206.15,15.91 206.84,15.92 207.52,15.92 208.21,15.93 208.9,15.94 209.58,15.95 210.27,15.96 210.96,15.97 211.64,15.97 212.33,15.98 213.02,15.99 213.7,16 214.39,16.01 215.08,16.02 215.76,16.03 216.45,16.04 217.14,16.05 217.82,16.05 218.51,16.06 219.2,16.07 219.88,16.08 220.57,16.09 221.26,16.1 221.94,16.11 222.63,16.12 223.32,16.13 224,16.14 224.69,16.16 225.38,16.17 226.07,16.18 226.75,16.2 227.44,16.21 228.13,16.23 228.81,16.24 229.5,16.26 230.19,16.28 230.87,16.3 231.56,16.31 232.25,16.33 232.93,16.35 233.62,16.37 234.31,16.4 234.99,16.42 235.68,16.44 236.37,16.46 237.05,16.49 237.74,16.51 238.43,16.53 239.11,16.56 239.8,16.58 240.49,16.61 241.17,16.63 241.86,16.66 242.55,16.69 243.23,16.71 243.92,16.74 244.61,16.77 245.29,16.79 245.98,16.82 246.67,16.85 247.35,16.87 248.04,16.9 248.73,16.93 249.41,16.96 250.1,16.99 250.79,17.01 251.47,17.04 252.16,17.07 252.85,17.1 253.53,17.12 254.22,17.15 254.91,17.18 255.59,17.21 256.28,17.24 256.97,17.26 257.66,17.29 258.34,17.32 259.03,17.34 259.72,17.37 260.4,17.4 261.09,17.42 261.78,17.45 262.46,17.48 263.15,17.51 263.84,17.53 264.52,17.56 265.21,17.59 265.9,17.62 266.58,17.65 267.27,17.67 267.96,17.7 268.64,17.73 269.33,17.76 270.02,17.8 270.7,17.83 271.39,17.87 272.08,17.91 272.76,17.95 273.45,18 274.14,18.06 274.82,18.13 275.51,18.23 276.2,18.37 276.88,18.53 277.57,18.71 278.26,18.89 278.94,19.07 279.63,19.23 280.32,19.38 281,19.53 281.69,19.67 282.38,19.83 283.06,19.98 283.75,20.15 284.44,20.34 285.12,20.54 285.81,20.76 286.5,20.99 287.19,21.24 287.87,21.5 288.56,21.76 289.25,22.04 289.93,22.33 290.62,22.64 291.31,22.96 291.99,23.29 292.68,23.65 293.37,24.02 294.05,24.42 294.74,24.84 295.43,25.28 296.11,25.75 296.8,26.25 297.49,26.77 298.17,27.31 298.86,27.89 299.55,28.5 300.23,29.15 300.92,29.84 301.61,30.57 302.29,31.35 302.98,32.18 303.67,33.05 304.35,33.97 305.04,34.96 305.73,36.03 306.41,37.18 307.1,38.43 307.79,39.78 308.47,41.28 309.16,42.94 309.85,44.74 310.53,46.71 311.22,48.82 311.91,51.08 312.59,53.48 313.28,56.08 313.97,58.91 314.65,61.96 315.34,65.21 316.03,68.67 316.71,72.31 317.4,76.12 318.09,80.09 318.78,84.21 319.46,88.47 320.15,92.85 320.84,97.34 321.52,101.93 322.21,106.65 322.9,111.74 323.58,117.2 324.27,122.99 324.96,129.05 325.64,135.32 326.33,141.77 327.02,148.42 327.7,155.81 328.39,163.74 329.08,171.92 329.76,180.02 330.45,187.73 331.14,194.73 331.82,200.7 332.51,205.6" fill="none" stroke="#F0832A" stroke-width="1.15" />
<rect x="61.06" y="13.24" width="4.1" height="4.1" fill="#fff" stroke="#F0832A" stroke-width="1.05"/>
<rect x="65.76" y="13.24" width="4.1" height="4.1" fill="#fff" stroke="#F0832A" stroke-width="1.05"/>
<rect x="70.46" y="13.24" width="4.1" height="4.1" fill="#fff" stroke="#F0832A" stroke-width="1.05"/>
<rect x="75.16" y="13.25" width="4.1" height="4.1" fill="#fff" stroke="#F0832A" stroke-width="1.05"/>
<rect x="79.86" y="13.26" width="4.1" height="4.1" fill="#fff" stroke="#F0832A" stroke-width="1.05"/>
<rect x="84.56" y="13.26" width="4.1" height="4.1" fill="#fff" stroke="#F0832A" stroke-width="1.05"/>
<rect x="89.26" y="13.27" width="4.1" height="4.1" fill="#fff" stroke="#F0832A" stroke-width="1.05"/>
<rect x="93.96" y="13.28" width="4.1" height="4.1" fill="#fff" stroke="#F0832A" stroke-width="1.05"/>
<rect x="98.66" y="13.29" width="4.1" height="4.1" fill="#fff" stroke="#F0832A" stroke-width="1.05"/>
<rect x="103.36" y="13.31" width="4.1" height="4.1" fill="#fff" stroke="#F0832A" stroke-width="1.05"/>
<rect x="108.06" y="13.32" width="4.1" height="4.1" fill="#fff" stroke="#F0832A" stroke-width="1.05"/>
<rect x="112.76" y="13.33" width="4.1" height="4.1" fill="#fff" stroke="#F0832A" stroke-width="1.05"/>
<rect x="117.46" y="13.35" width="4.1" height="4.1" fill="#fff" stroke="#F0832A" stroke-width="1.05"/>
<rect x="122.16" y="13.36" width="4.1" height="4.1" fill="#fff" stroke="#F0832A" stroke-width="1.05"/>
<rect x="126.86" y="13.38" width="4.1" height="4.1" fill="#fff" stroke="#F0832A" stroke-width="1.05"/>
<rect x="131.56" y="13.4" width="4.1" height="4.1" fill="#fff" stroke="#F0832A" stroke-width="1.05"/>
<rect x="136.26" y="13.41" width="4.1" height="4.1" fill="#fff" stroke="#F0832A" stroke-width="1.05"/>
<rect x="140.96" y="13.43" width="4.1" height="4.1" fill="#fff" stroke="#F0832A" stroke-width="1.05"/>
<rect x="145.66" y="13.45" width="4.1" height="4.1" fill="#fff" stroke="#F0832A" stroke-width="1.05"/>
<rect x="150.36" y="13.47" width="4.1" height="4.1" fill="#fff" stroke="#F0832A" stroke-width="1.05"/>
<rect x="155.06" y="13.49" width="4.1" height="4.1" fill="#fff" stroke="#F0832A" stroke-width="1.05"/>
<rect x="159.76" y="13.51" width="4.1" height="4.1" fill="#fff" stroke="#F0832A" stroke-width="1.05"/>
<rect x="164.46" y="13.53" width="4.1" height="4.1" fill="#fff" stroke="#F0832A" stroke-width="1.05"/>
<rect x="169.16" y="13.56" width="4.1" height="4.1" fill="#fff" stroke="#F0832A" stroke-width="1.05"/>
<rect x="173.86" y="13.59" width="4.1" height="4.1" fill="#fff" stroke="#F0832A" stroke-width="1.05"/>
<rect x="178.56" y="13.62" width="4.1" height="4.1" fill="#fff" stroke="#F0832A" stroke-width="1.05"/>
<rect x="183.26" y="13.66" width="4.1" height="4.1" fill="#fff" stroke="#F0832A" stroke-width="1.05"/>
<rect x="187.96" y="13.7" width="4.1" height="4.1" fill="#fff" stroke="#F0832A" stroke-width="1.05"/>
<rect x="192.66" y="13.74" width="4.1" height="4.1" fill="#fff" stroke="#F0832A" stroke-width="1.05"/>
<rect x="197.36" y="13.79" width="4.1" height="4.1" fill="#fff" stroke="#F0832A" stroke-width="1.05"/>
<rect x="202.06" y="13.84" width="4.1" height="4.1" fill="#fff" stroke="#F0832A" stroke-width="1.05"/>
<rect x="206.76" y="13.89" width="4.1" height="4.1" fill="#fff" stroke="#F0832A" stroke-width="1.05"/>
<rect x="211.46" y="13.95" width="4.1" height="4.1" fill="#fff" stroke="#F0832A" stroke-width="1.05"/>
<rect x="216.16" y="14.01" width="4.1" height="4.1" fill="#fff" stroke="#F0832A" stroke-width="1.05"/>
<rect x="220.86" y="14.08" width="4.1" height="4.1" fill="#fff" stroke="#F0832A" stroke-width="1.05"/>
<rect x="225.56" y="14.16" width="4.1" height="4.1" fill="#fff" stroke="#F0832A" stroke-width="1.05"/>
<rect x="230.26" y="14.29" width="4.1" height="4.1" fill="#fff" stroke="#F0832A" stroke-width="1.05"/>
<rect x="234.96" y="14.43" width="4.1" height="4.1" fill="#fff" stroke="#F0832A" stroke-width="1.05"/>
<rect x="239.66" y="14.6" width="4.1" height="4.1" fill="#fff" stroke="#F0832A" stroke-width="1.05"/>
<rect x="244.36" y="14.79" width="4.1" height="4.1" fill="#fff" stroke="#F0832A" stroke-width="1.05"/>
<rect x="249.06" y="14.98" width="4.1" height="4.1" fill="#fff" stroke="#F0832A" stroke-width="1.05"/>
<rect x="253.76" y="15.17" width="4.1" height="4.1" fill="#fff" stroke="#F0832A" stroke-width="1.05"/>
<rect x="258.46" y="15.35" width="4.1" height="4.1" fill="#fff" stroke="#F0832A" stroke-width="1.05"/>
<rect x="263.16" y="15.54" width="4.1" height="4.1" fill="#fff" stroke="#F0832A" stroke-width="1.05"/>
<rect x="267.86" y="15.74" width="4.1" height="4.1" fill="#fff" stroke="#F0832A" stroke-width="1.05"/>
<rect x="272.56" y="16.05" width="4.1" height="4.1" fill="#fff" stroke="#F0832A" stroke-width="1.05"/>
<rect x="277.26" y="17.11" width="4.1" height="4.1" fill="#fff" stroke="#F0832A" stroke-width="1.05"/>
<rect x="281.96" y="18.17" width="4.1" height="4.1" fill="#fff" stroke="#F0832A" stroke-width="1.05"/>
<rect x="286.66" y="19.77" width="4.1" height="4.1" fill="#fff" stroke="#F0832A" stroke-width="1.05"/>
<rect x="291.36" y="22" width="4.1" height="4.1" fill="#fff" stroke="#F0832A" stroke-width="1.05"/>
<rect x="296.06" y="25.21" width="4.1" height="4.1" fill="#fff" stroke="#F0832A" stroke-width="1.05"/>
<rect x="300.76" y="29.91" width="4.1" height="4.1" fill="#fff" stroke="#F0832A" stroke-width="1.05"/>
<rect x="305.46" y="37.16" width="4.1" height="4.1" fill="#fff" stroke="#F0832A" stroke-width="1.05"/>
<rect x="310.16" y="50.05" width="4.1" height="4.1" fill="#fff" stroke="#F0832A" stroke-width="1.05"/>
<rect x="314.86" y="71.3" width="4.1" height="4.1" fill="#fff" stroke="#F0832A" stroke-width="1.05"/>
<rect x="319.56" y="100.45" width="4.1" height="4.1" fill="#fff" stroke="#F0832A" stroke-width="1.05"/>
<rect x="324.26" y="139.5" width="4.1" height="4.1" fill="#fff" stroke="#F0832A" stroke-width="1.05"/>
<rect x="328.96" y="191.42" width="4.1" height="4.1" fill="#fff" stroke="#F0832A" stroke-width="1.05"/>
<line x1="79.5" y1="168.8" x2="100.4" y2="168.8" stroke="#800080" stroke-width="1" />
<circle cx="89.9" cy="168.8" r="2.6" fill="#800080"/><circle cx="89.3" cy="168.1" r="0.9" fill="#e8c8e8"/>
<text x="103.4" y="172.2" font-size="9.4" text-anchor="start" fill="#1c1c1c" >PTAA/PVSK</text>
<line x1="79.5" y1="180.3" x2="100.4" y2="180.3" stroke="#1EA4FF" stroke-width="1" />
<circle cx="89.9" cy="180.3" r="2.25" fill="#fff" stroke="#1EA4FF" stroke-width="1.0"/>
<text x="103.4" y="183.7" font-size="9.4" text-anchor="start" fill="#1c1c1c" >CAZ-NCS/PVSK</text>
<line x1="79.5" y1="191.8" x2="100.4" y2="191.8" stroke="#F0832A" stroke-width="1" />
<rect x="87.7" y="189.6" width="4.4" height="4.4" fill="#fff" stroke="#F0832A" stroke-width="1.05"/>
<text x="103.4" y="195.2" font-size="9.4" text-anchor="start" fill="#1c1c1c" >CAZ-NCS-P/PVSK</text>
<line x1="405.8" y1="207.6" x2="689.2" y2="207.6" stroke="#808080" stroke-width="1.4" />
<line x1="405.8" y1="7.5" x2="689.2" y2="7.5" stroke="#808080" stroke-width="1.2" />
<line x1="405.8" y1="7.5" x2="405.8" y2="207.6" stroke="#808080" stroke-width="1.4" />
<line x1="689.2" y1="7.5" x2="689.2" y2="207.6" stroke="#8B2020" stroke-width="1.2" />
<line x1="403.3" y1="207.6" x2="405.8" y2="207.6" stroke="#666" stroke-width="0.8" />
<text x="401.6" y="211.2" font-size="10.1" text-anchor="end" fill="#1c1c1c" >0</text>
<line x1="403.3" y1="167.6" x2="405.8" y2="167.6" stroke="#666" stroke-width="0.8" />
<text x="401.6" y="171.2" font-size="10.1" text-anchor="end" fill="#1c1c1c" >20</text>
<line x1="403.3" y1="127.6" x2="405.8" y2="127.6" stroke="#666" stroke-width="0.8" />
<text x="401.6" y="131.2" font-size="10.1" text-anchor="end" fill="#1c1c1c" >40</text>
<line x1="403.3" y1="87.6" x2="405.8" y2="87.6" stroke="#666" stroke-width="0.8" />
<text x="401.6" y="91.2" font-size="10.1" text-anchor="end" fill="#1c1c1c" >60</text>
<line x1="403.3" y1="47.6" x2="405.8" y2="47.6" stroke="#666" stroke-width="0.8" />
<text x="401.6" y="51.2" font-size="10.1" text-anchor="end" fill="#1c1c1c" >80</text>
<line x1="403.3" y1="7.6" x2="405.8" y2="7.6" stroke="#666" stroke-width="0.8" />
<text x="401.6" y="11.2" font-size="10.1" text-anchor="end" fill="#1c1c1c" >100</text>
<line x1="689.2" y1="207.8" x2="691.7" y2="207.8" stroke="#8B2020" stroke-width="0.9" />
<text x="692.6" y="211.4" font-size="10.1" text-anchor="start" fill="#8B2020" >0</text>
<line x1="689.2" y1="169.2" x2="691.7" y2="169.2" stroke="#8B2020" stroke-width="0.9" />
<text x="692.6" y="172.8" font-size="10.1" text-anchor="start" fill="#8B2020" >5</text>
<line x1="689.2" y1="130.6" x2="691.7" y2="130.6" stroke="#8B2020" stroke-width="0.9" />
<text x="692.6" y="134.2" font-size="10.1" text-anchor="start" fill="#8B2020" >10</text>
<line x1="689.2" y1="92" x2="691.7" y2="92" stroke="#8B2020" stroke-width="0.9" />
<text x="692.6" y="95.6" font-size="10.1" text-anchor="start" fill="#8B2020" >15</text>
<line x1="689.2" y1="53.4" x2="691.7" y2="53.4" stroke="#8B2020" stroke-width="0.9" />
<text x="692.6" y="57" font-size="10.1" text-anchor="start" fill="#8B2020" >20</text>
<line x1="689.2" y1="14.8" x2="691.7" y2="14.8" stroke="#8B2020" stroke-width="0.9" />
<text x="692.6" y="18.4" font-size="10.1" text-anchor="start" fill="#8B2020" >25</text>
<line x1="405.8" y1="207.6" x2="405.8" y2="210.1" stroke="#666" stroke-width="0.8" />
<text x="405.8" y="220.1" font-size="10.1" text-anchor="middle" fill="#1c1c1c" >300</text>
<line x1="453.03" y1="207.6" x2="453.03" y2="210.1" stroke="#666" stroke-width="0.8" />
<text x="453.03" y="220.1" font-size="10.1" text-anchor="middle" fill="#1c1c1c" >400</text>
<line x1="500.26" y1="207.6" x2="500.26" y2="210.1" stroke="#666" stroke-width="0.8" />
<text x="500.26" y="220.1" font-size="10.1" text-anchor="middle" fill="#1c1c1c" >500</text>
<line x1="547.49" y1="207.6" x2="547.49" y2="210.1" stroke="#666" stroke-width="0.8" />
<text x="547.49" y="220.1" font-size="10.1" text-anchor="middle" fill="#1c1c1c" >600</text>
<line x1="594.72" y1="207.6" x2="594.72" y2="210.1" stroke="#666" stroke-width="0.8" />
<text x="594.72" y="220.1" font-size="10.1" text-anchor="middle" fill="#1c1c1c" >700</text>
<line x1="641.95" y1="207.6" x2="641.95" y2="210.1" stroke="#666" stroke-width="0.8" />
<text x="641.95" y="220.1" font-size="10.1" text-anchor="middle" fill="#1c1c1c" >800</text>
<line x1="689.18" y1="207.6" x2="689.18" y2="210.1" stroke="#666" stroke-width="0.8" />
<text x="689.18" y="220.1" font-size="10.1" text-anchor="middle" fill="#1c1c1c" >900</text>
<text x="547.5" y="233" font-size="10.6" text-anchor="middle" fill="#1c1c1c" >&#955; (nm)</text>
<text transform="translate(383.6,107.2) rotate(-90)" font-size="11.6" text-anchor="middle" fill="#222">EQE (%)</text>
<text transform="translate(719.2,107.5) rotate(-90)" font-size="11.2" text-anchor="middle" fill="#8B2020">Current density (mA cm<tspan font-size="7.5" dy="-4">&#8722;2</tspan><tspan dy="4">)</tspan></text>
<polyline points="405.8,207.8 406.74,207.8 407.69,207.8 408.63,207.8 409.58,207.8 410.52,207.8 411.47,207.8 412.41,207.8 413.36,207.8 414.3,207.79 415.25,207.78 416.19,207.77 417.14,207.76 418.08,207.74 419.02,207.71 419.97,207.67 420.91,207.63 421.86,207.58 422.8,207.52 423.75,207.46 424.69,207.39 425.64,207.31 426.58,207.22 427.53,207.13 428.47,207.03 429.42,206.92 430.36,206.81 431.3,206.69 432.25,206.56 433.19,206.43 434.14,206.28 435.08,206.13 436.03,205.96 436.97,205.78 437.92,205.59 438.86,205.38 439.81,205.17 440.75,204.95 441.69,204.72 442.64,204.49 443.58,204.25 444.53,204 445.47,203.74 446.42,203.47 447.36,203.19 448.31,202.89 449.25,202.58 450.2,202.24 451.14,201.87 452.09,201.47 453.03,201.04 453.97,200.59 454.92,200.12 455.86,199.63 456.81,199.13 457.75,198.61 458.7,198.08 459.64,197.55 460.59,197.02 461.53,196.48 462.48,195.94 463.42,195.39 464.37,194.85 465.31,194.29 466.25,193.73 467.2,193.15 468.14,192.57 469.09,191.96 470.03,191.32 470.98,190.65 471.92,189.96 472.87,189.25 473.81,188.53 474.76,187.79 475.7,187.04 476.64,186.28 477.59,185.5 478.53,184.71 479.48,183.91 480.42,183.1 481.37,182.28 482.31,181.45 483.26,180.63 484.2,179.8 485.15,178.97 486.09,178.14 487.04,177.32 487.98,176.49 488.92,175.66 489.87,174.82 490.81,173.99 491.76,173.15 492.7,172.31 493.65,171.47 494.59,170.62 495.54,169.78 496.48,168.92 497.43,168.06 498.37,167.2 499.32,166.33 500.26,165.45 501.2,164.56 502.15,163.67 503.09,162.77 504.04,161.88 504.98,160.99 505.93,160.09 506.87,159.19 507.82,158.29 508.76,157.39 509.71,156.49 510.65,155.59 511.6,154.68 512.54,153.77 513.48,152.86 514.43,151.94 515.37,151.02 516.32,150.1 517.26,149.17 518.21,148.24 519.15,147.3 520.1,146.36 521.04,145.42 521.99,144.47 522.93,143.52 523.88,142.57 524.82,141.62 525.76,140.66 526.71,139.7 527.65,138.74 528.6,137.77 529.54,136.8 530.49,135.84 531.43,134.87 532.38,133.91 533.32,132.95 534.27,131.99 535.21,131.03 536.15,130.07 537.1,129.11 538.04,128.15 538.99,127.18 539.93,126.22 540.88,125.25 541.82,124.28 542.77,123.31 543.71,122.34 544.66,121.38 545.6,120.42 546.55,119.46 547.49,118.5 548.43,117.55 549.38,116.6 550.32,115.65 551.27,114.71 552.21,113.77 553.16,112.83 554.1,111.89 555.05,110.96 555.99,110.02 556.94,109.09 557.88,108.15 558.83,107.21 559.77,106.26 560.71,105.31 561.66,104.35 562.6,103.39 563.55,102.42 564.49,101.46 565.44,100.49 566.38,99.52 567.33,98.55 568.27,97.58 569.22,96.62 570.16,95.65 571.11,94.68 572.05,93.71 572.99,92.74 573.94,91.77 574.88,90.8 575.83,89.83 576.77,88.86 577.72,87.89 578.66,86.92 579.61,85.95 580.55,84.97 581.5,84 582.44,83.04 583.38,82.07 584.33,81.11 585.27,80.16 586.22,79.21 587.16,78.27 588.11,77.33 589.05,76.39 590,75.45 590.94,74.51 591.89,73.57 592.83,72.63 593.78,71.68 594.72,70.72 595.66,69.77 596.61,68.82 597.55,67.88 598.5,66.96 599.44,66.05 600.39,65.16 601.33,64.28 602.28,63.41 603.22,62.56 604.17,61.72 605.11,60.88 606.06,60.02 607,59.15 607.94,58.26 608.89,57.36 609.83,56.44 610.78,55.52 611.72,54.59 612.67,53.65 613.61,52.7 614.56,51.75 615.5,50.81 616.45,49.87 617.39,48.94 618.34,48.02 619.28,47.1 620.22,46.19 621.17,45.3 622.11,44.42 623.06,43.55 624,42.7 624.95,41.85 625.89,41.01 626.84,40.17 627.78,39.34 628.73,38.52 629.67,37.7 630.61,36.9 631.56,36.12 632.5,35.37 633.45,34.65 634.39,33.97 635.34,33.34 636.28,32.8 637.23,32.35 638.17,31.99 639.12,31.7 640.06,31.47 641.01,31.3 641.95,31.16 642.89,31.05 643.84,30.95 644.78,30.84 645.73,30.75 646.67,30.7 647.62,30.69 648.56,30.69 649.51,30.69 650.45,30.69 651.4,30.69 652.34,30.69 653.29,30.69 654.23,30.69 655.17,30.69 656.12,30.69 657.06,30.69 658.01,30.69 658.95,30.69 659.9,30.69 660.84,30.69 661.79,30.69 662.73,30.69 663.68,30.69 664.62,30.69 665.57,30.69 666.51,30.69 667.45,30.69 668.4,30.69 669.34,30.69 670.29,30.69 671.23,30.69 672.18,30.69 673.12,30.69 674.07,30.69 675.01,30.69 675.96,30.69 676.9,30.69 677.84,30.69 678.79,30.69 679.73,30.69 680.68,30.69 681.62,30.69 682.57,30.69 683.51,30.69 684.46,30.69 685.4,30.69 686.35,30.69 687.29,30.69 688.24,30.69 689.18,30.69" fill="none" stroke="#800080" stroke-width="0.8" />
<circle cx="405.8" cy="207.8" r="1.85" fill="#800080"/><circle cx="405.6" cy="207.5" r="0.55" fill="#d8b0d8"/>
<circle cx="408.16" cy="207.8" r="1.85" fill="#800080"/><circle cx="407.96" cy="207.5" r="0.55" fill="#d8b0d8"/>
<circle cx="410.52" cy="207.8" r="1.85" fill="#800080"/><circle cx="410.32" cy="207.5" r="0.55" fill="#d8b0d8"/>
<circle cx="412.88" cy="207.8" r="1.85" fill="#800080"/><circle cx="412.68" cy="207.5" r="0.55" fill="#d8b0d8"/>
<circle cx="415.25" cy="207.78" r="1.85" fill="#800080"/><circle cx="415.05" cy="207.48" r="0.55" fill="#d8b0d8"/>
<circle cx="417.61" cy="207.75" r="1.85" fill="#800080"/><circle cx="417.41" cy="207.45" r="0.55" fill="#d8b0d8"/>
<circle cx="419.97" cy="207.67" r="1.85" fill="#800080"/><circle cx="419.77" cy="207.37" r="0.55" fill="#d8b0d8"/>
<circle cx="422.33" cy="207.55" r="1.85" fill="#800080"/><circle cx="422.13" cy="207.25" r="0.55" fill="#d8b0d8"/>
<circle cx="424.69" cy="207.39" r="1.85" fill="#800080"/><circle cx="424.49" cy="207.09" r="0.55" fill="#d8b0d8"/>
<circle cx="427.05" cy="207.18" r="1.85" fill="#800080"/><circle cx="426.85" cy="206.88" r="0.55" fill="#d8b0d8"/>
<circle cx="429.42" cy="206.92" r="1.85" fill="#800080"/><circle cx="429.22" cy="206.62" r="0.55" fill="#d8b0d8"/>
<circle cx="431.78" cy="206.63" r="1.85" fill="#800080"/><circle cx="431.58" cy="206.33" r="0.55" fill="#d8b0d8"/>
<circle cx="434.14" cy="206.28" r="1.85" fill="#800080"/><circle cx="433.94" cy="205.98" r="0.55" fill="#d8b0d8"/>
<circle cx="436.5" cy="205.87" r="1.85" fill="#800080"/><circle cx="436.3" cy="205.57" r="0.55" fill="#d8b0d8"/>
<circle cx="438.86" cy="205.38" r="1.85" fill="#800080"/><circle cx="438.66" cy="205.08" r="0.55" fill="#d8b0d8"/>
<circle cx="441.22" cy="204.84" r="1.85" fill="#800080"/><circle cx="441.02" cy="204.54" r="0.55" fill="#d8b0d8"/>
<circle cx="443.58" cy="204.25" r="1.85" fill="#800080"/><circle cx="443.38" cy="203.95" r="0.55" fill="#d8b0d8"/>
<circle cx="445.95" cy="203.61" r="1.85" fill="#800080"/><circle cx="445.75" cy="203.31" r="0.55" fill="#d8b0d8"/>
<circle cx="448.31" cy="202.89" r="1.85" fill="#800080"/><circle cx="448.11" cy="202.59" r="0.55" fill="#d8b0d8"/>
<circle cx="450.67" cy="202.06" r="1.85" fill="#800080"/><circle cx="450.47" cy="201.76" r="0.55" fill="#d8b0d8"/>
<circle cx="453.03" cy="201.04" r="1.85" fill="#800080"/><circle cx="452.83" cy="200.74" r="0.55" fill="#d8b0d8"/>
<circle cx="455.39" cy="199.88" r="1.85" fill="#800080"/><circle cx="455.19" cy="199.58" r="0.55" fill="#d8b0d8"/>
<circle cx="457.75" cy="198.61" r="1.85" fill="#800080"/><circle cx="457.55" cy="198.31" r="0.55" fill="#d8b0d8"/>
<circle cx="460.11" cy="197.29" r="1.85" fill="#800080"/><circle cx="459.91" cy="196.99" r="0.55" fill="#d8b0d8"/>
<circle cx="462.48" cy="195.94" r="1.85" fill="#800080"/><circle cx="462.28" cy="195.64" r="0.55" fill="#d8b0d8"/>
<circle cx="464.84" cy="194.57" r="1.85" fill="#800080"/><circle cx="464.64" cy="194.27" r="0.55" fill="#d8b0d8"/>
<circle cx="467.2" cy="193.15" r="1.85" fill="#800080"/><circle cx="467" cy="192.85" r="0.55" fill="#d8b0d8"/>
<circle cx="469.56" cy="191.64" r="1.85" fill="#800080"/><circle cx="469.36" cy="191.34" r="0.55" fill="#d8b0d8"/>
<circle cx="471.92" cy="189.96" r="1.85" fill="#800080"/><circle cx="471.72" cy="189.66" r="0.55" fill="#d8b0d8"/>
<circle cx="474.28" cy="188.16" r="1.85" fill="#800080"/><circle cx="474.08" cy="187.86" r="0.55" fill="#d8b0d8"/>
<circle cx="476.64" cy="186.28" r="1.85" fill="#800080"/><circle cx="476.44" cy="185.98" r="0.55" fill="#d8b0d8"/>
<circle cx="479.01" cy="184.31" r="1.85" fill="#800080"/><circle cx="478.81" cy="184.01" r="0.55" fill="#d8b0d8"/>
<circle cx="481.37" cy="182.28" r="1.85" fill="#800080"/><circle cx="481.17" cy="181.98" r="0.55" fill="#d8b0d8"/>
<circle cx="483.73" cy="180.21" r="1.85" fill="#800080"/><circle cx="483.53" cy="179.91" r="0.55" fill="#d8b0d8"/>
<circle cx="486.09" cy="178.14" r="1.85" fill="#800080"/><circle cx="485.89" cy="177.84" r="0.55" fill="#d8b0d8"/>
<circle cx="488.45" cy="176.07" r="1.85" fill="#800080"/><circle cx="488.25" cy="175.77" r="0.55" fill="#d8b0d8"/>
<circle cx="490.81" cy="173.99" r="1.85" fill="#800080"/><circle cx="490.61" cy="173.69" r="0.55" fill="#d8b0d8"/>
<circle cx="493.18" cy="171.89" r="1.85" fill="#800080"/><circle cx="492.98" cy="171.59" r="0.55" fill="#d8b0d8"/>
<circle cx="495.54" cy="169.78" r="1.85" fill="#800080"/><circle cx="495.34" cy="169.48" r="0.55" fill="#d8b0d8"/>
<circle cx="497.9" cy="167.63" r="1.85" fill="#800080"/><circle cx="497.7" cy="167.33" r="0.55" fill="#d8b0d8"/>
<circle cx="500.26" cy="165.45" r="1.85" fill="#800080"/><circle cx="500.06" cy="165.15" r="0.55" fill="#d8b0d8"/>
<circle cx="502.62" cy="163.22" r="1.85" fill="#800080"/><circle cx="502.42" cy="162.92" r="0.55" fill="#d8b0d8"/>
<circle cx="504.98" cy="160.99" r="1.85" fill="#800080"/><circle cx="504.78" cy="160.69" r="0.55" fill="#d8b0d8"/>
<circle cx="507.34" cy="158.74" r="1.85" fill="#800080"/><circle cx="507.14" cy="158.44" r="0.55" fill="#d8b0d8"/>
<circle cx="509.71" cy="156.49" r="1.85" fill="#800080"/><circle cx="509.51" cy="156.19" r="0.55" fill="#d8b0d8"/>
<circle cx="512.07" cy="154.23" r="1.85" fill="#800080"/><circle cx="511.87" cy="153.93" r="0.55" fill="#d8b0d8"/>
<circle cx="514.43" cy="151.94" r="1.85" fill="#800080"/><circle cx="514.23" cy="151.64" r="0.55" fill="#d8b0d8"/>
<circle cx="516.79" cy="149.64" r="1.85" fill="#800080"/><circle cx="516.59" cy="149.34" r="0.55" fill="#d8b0d8"/>
<circle cx="519.15" cy="147.3" r="1.85" fill="#800080"/><circle cx="518.95" cy="147" r="0.55" fill="#d8b0d8"/>
<circle cx="521.51" cy="144.95" r="1.85" fill="#800080"/><circle cx="521.31" cy="144.65" r="0.55" fill="#d8b0d8"/>
<circle cx="523.88" cy="142.57" r="1.85" fill="#800080"/><circle cx="523.67" cy="142.27" r="0.55" fill="#d8b0d8"/>
<circle cx="526.24" cy="140.18" r="1.85" fill="#800080"/><circle cx="526.04" cy="139.88" r="0.55" fill="#d8b0d8"/>
<circle cx="528.6" cy="137.77" r="1.85" fill="#800080"/><circle cx="528.4" cy="137.47" r="0.55" fill="#d8b0d8"/>
<circle cx="530.96" cy="135.36" r="1.85" fill="#800080"/><circle cx="530.76" cy="135.06" r="0.55" fill="#d8b0d8"/>
<circle cx="533.32" cy="132.95" r="1.85" fill="#800080"/><circle cx="533.12" cy="132.65" r="0.55" fill="#d8b0d8"/>
<circle cx="535.68" cy="130.55" r="1.85" fill="#800080"/><circle cx="535.48" cy="130.25" r="0.55" fill="#d8b0d8"/>
<circle cx="538.04" cy="128.15" r="1.85" fill="#800080"/><circle cx="537.84" cy="127.85" r="0.55" fill="#d8b0d8"/>
<circle cx="540.41" cy="125.73" r="1.85" fill="#800080"/><circle cx="540.21" cy="125.43" r="0.55" fill="#d8b0d8"/>
<circle cx="542.77" cy="123.31" r="1.85" fill="#800080"/><circle cx="542.57" cy="123.01" r="0.55" fill="#d8b0d8"/>
<circle cx="545.13" cy="120.9" r="1.85" fill="#800080"/><circle cx="544.93" cy="120.6" r="0.55" fill="#d8b0d8"/>
<circle cx="547.49" cy="118.5" r="1.85" fill="#800080"/><circle cx="547.29" cy="118.2" r="0.55" fill="#d8b0d8"/>
<circle cx="549.85" cy="116.12" r="1.85" fill="#800080"/><circle cx="549.65" cy="115.82" r="0.55" fill="#d8b0d8"/>
<circle cx="552.21" cy="113.77" r="1.85" fill="#800080"/><circle cx="552.01" cy="113.47" r="0.55" fill="#d8b0d8"/>
<circle cx="554.57" cy="111.42" r="1.85" fill="#800080"/><circle cx="554.37" cy="111.12" r="0.55" fill="#d8b0d8"/>
<circle cx="556.94" cy="109.09" r="1.85" fill="#800080"/><circle cx="556.74" cy="108.79" r="0.55" fill="#d8b0d8"/>
<circle cx="559.3" cy="106.73" r="1.85" fill="#800080"/><circle cx="559.1" cy="106.43" r="0.55" fill="#d8b0d8"/>
<circle cx="561.66" cy="104.35" r="1.85" fill="#800080"/><circle cx="561.46" cy="104.05" r="0.55" fill="#d8b0d8"/>
<circle cx="564.02" cy="101.94" r="1.85" fill="#800080"/><circle cx="563.82" cy="101.64" r="0.55" fill="#d8b0d8"/>
<circle cx="566.38" cy="99.52" r="1.85" fill="#800080"/><circle cx="566.18" cy="99.22" r="0.55" fill="#d8b0d8"/>
<circle cx="568.74" cy="97.1" r="1.85" fill="#800080"/><circle cx="568.54" cy="96.8" r="0.55" fill="#d8b0d8"/>
<circle cx="571.11" cy="94.68" r="1.85" fill="#800080"/><circle cx="570.9" cy="94.38" r="0.55" fill="#d8b0d8"/>
<circle cx="573.47" cy="92.26" r="1.85" fill="#800080"/><circle cx="573.27" cy="91.96" r="0.55" fill="#d8b0d8"/>
<circle cx="575.83" cy="89.83" r="1.85" fill="#800080"/><circle cx="575.63" cy="89.53" r="0.55" fill="#d8b0d8"/>
<circle cx="578.19" cy="87.4" r="1.85" fill="#800080"/><circle cx="577.99" cy="87.1" r="0.55" fill="#d8b0d8"/>
<circle cx="580.55" cy="84.97" r="1.85" fill="#800080"/><circle cx="580.35" cy="84.67" r="0.55" fill="#d8b0d8"/>
<circle cx="582.91" cy="82.55" r="1.85" fill="#800080"/><circle cx="582.71" cy="82.25" r="0.55" fill="#d8b0d8"/>
<circle cx="585.27" cy="80.16" r="1.85" fill="#800080"/><circle cx="585.07" cy="79.86" r="0.55" fill="#d8b0d8"/>
<circle cx="587.64" cy="77.8" r="1.85" fill="#800080"/><circle cx="587.44" cy="77.5" r="0.55" fill="#d8b0d8"/>
<circle cx="590" cy="75.45" r="1.85" fill="#800080"/><circle cx="589.8" cy="75.15" r="0.55" fill="#d8b0d8"/>
<circle cx="592.36" cy="73.1" r="1.85" fill="#800080"/><circle cx="592.16" cy="72.8" r="0.55" fill="#d8b0d8"/>
<circle cx="594.72" cy="70.72" r="1.85" fill="#800080"/><circle cx="594.52" cy="70.42" r="0.55" fill="#d8b0d8"/>
<circle cx="597.08" cy="68.35" r="1.85" fill="#800080"/><circle cx="596.88" cy="68.05" r="0.55" fill="#d8b0d8"/>
<circle cx="599.44" cy="66.05" r="1.85" fill="#800080"/><circle cx="599.24" cy="65.75" r="0.55" fill="#d8b0d8"/>
<circle cx="601.8" cy="63.85" r="1.85" fill="#800080"/><circle cx="601.6" cy="63.55" r="0.55" fill="#d8b0d8"/>
<circle cx="604.17" cy="61.72" r="1.85" fill="#800080"/><circle cx="603.97" cy="61.42" r="0.55" fill="#d8b0d8"/>
<circle cx="606.53" cy="59.59" r="1.85" fill="#800080"/><circle cx="606.33" cy="59.29" r="0.55" fill="#d8b0d8"/>
<circle cx="608.89" cy="57.36" r="1.85" fill="#800080"/><circle cx="608.69" cy="57.06" r="0.55" fill="#d8b0d8"/>
<circle cx="611.25" cy="55.06" r="1.85" fill="#800080"/><circle cx="611.05" cy="54.76" r="0.55" fill="#d8b0d8"/>
<circle cx="613.61" cy="52.7" r="1.85" fill="#800080"/><circle cx="613.41" cy="52.4" r="0.55" fill="#d8b0d8"/>
<circle cx="615.97" cy="50.34" r="1.85" fill="#800080"/><circle cx="615.77" cy="50.04" r="0.55" fill="#d8b0d8"/>
<circle cx="618.34" cy="48.02" r="1.85" fill="#800080"/><circle cx="618.13" cy="47.72" r="0.55" fill="#d8b0d8"/>
<circle cx="620.7" cy="45.74" r="1.85" fill="#800080"/><circle cx="620.5" cy="45.44" r="0.55" fill="#d8b0d8"/>
<circle cx="623.06" cy="43.55" r="1.85" fill="#800080"/><circle cx="622.86" cy="43.25" r="0.55" fill="#d8b0d8"/>
<circle cx="625.42" cy="41.43" r="1.85" fill="#800080"/><circle cx="625.22" cy="41.13" r="0.55" fill="#d8b0d8"/>
<circle cx="627.78" cy="39.34" r="1.85" fill="#800080"/><circle cx="627.58" cy="39.04" r="0.55" fill="#d8b0d8"/>
<circle cx="630.14" cy="37.3" r="1.85" fill="#800080"/><circle cx="629.94" cy="37" r="0.55" fill="#d8b0d8"/>
<circle cx="632.5" cy="35.37" r="1.85" fill="#800080"/><circle cx="632.3" cy="35.07" r="0.55" fill="#d8b0d8"/>
<circle cx="634.87" cy="33.64" r="1.85" fill="#800080"/><circle cx="634.67" cy="33.34" r="0.55" fill="#d8b0d8"/>
<circle cx="637.23" cy="32.35" r="1.85" fill="#800080"/><circle cx="637.03" cy="32.05" r="0.55" fill="#d8b0d8"/>
<circle cx="639.59" cy="31.58" r="1.85" fill="#800080"/><circle cx="639.39" cy="31.28" r="0.55" fill="#d8b0d8"/>
<circle cx="641.95" cy="31.16" r="1.85" fill="#800080"/><circle cx="641.75" cy="30.86" r="0.55" fill="#d8b0d8"/>
<circle cx="644.31" cy="30.89" r="1.85" fill="#800080"/><circle cx="644.11" cy="30.59" r="0.55" fill="#d8b0d8"/>
<circle cx="646.67" cy="30.7" r="1.85" fill="#800080"/><circle cx="646.47" cy="30.4" r="0.55" fill="#d8b0d8"/>
<circle cx="649.03" cy="30.69" r="1.85" fill="#800080"/><circle cx="648.83" cy="30.39" r="0.55" fill="#d8b0d8"/>
<circle cx="651.4" cy="30.69" r="1.85" fill="#800080"/><circle cx="651.2" cy="30.39" r="0.55" fill="#d8b0d8"/>
<circle cx="653.76" cy="30.69" r="1.85" fill="#800080"/><circle cx="653.56" cy="30.39" r="0.55" fill="#d8b0d8"/>
<circle cx="656.12" cy="30.69" r="1.85" fill="#800080"/><circle cx="655.92" cy="30.39" r="0.55" fill="#d8b0d8"/>
<circle cx="658.48" cy="30.69" r="1.85" fill="#800080"/><circle cx="658.28" cy="30.39" r="0.55" fill="#d8b0d8"/>
<circle cx="660.84" cy="30.69" r="1.85" fill="#800080"/><circle cx="660.64" cy="30.39" r="0.55" fill="#d8b0d8"/>
<circle cx="663.2" cy="30.69" r="1.85" fill="#800080"/><circle cx="663" cy="30.39" r="0.55" fill="#d8b0d8"/>
<circle cx="665.57" cy="30.69" r="1.85" fill="#800080"/><circle cx="665.37" cy="30.39" r="0.55" fill="#d8b0d8"/>
<circle cx="667.93" cy="30.69" r="1.85" fill="#800080"/><circle cx="667.73" cy="30.39" r="0.55" fill="#d8b0d8"/>
<circle cx="670.29" cy="30.69" r="1.85" fill="#800080"/><circle cx="670.09" cy="30.39" r="0.55" fill="#d8b0d8"/>
<circle cx="672.65" cy="30.69" r="1.85" fill="#800080"/><circle cx="672.45" cy="30.39" r="0.55" fill="#d8b0d8"/>
<circle cx="675.01" cy="30.69" r="1.85" fill="#800080"/><circle cx="674.81" cy="30.39" r="0.55" fill="#d8b0d8"/>
<circle cx="677.37" cy="30.69" r="1.85" fill="#800080"/><circle cx="677.17" cy="30.39" r="0.55" fill="#d8b0d8"/>
<circle cx="679.73" cy="30.69" r="1.85" fill="#800080"/><circle cx="679.53" cy="30.39" r="0.55" fill="#d8b0d8"/>
<circle cx="682.1" cy="30.69" r="1.85" fill="#800080"/><circle cx="681.9" cy="30.39" r="0.55" fill="#d8b0d8"/>
<circle cx="684.46" cy="30.69" r="1.85" fill="#800080"/><circle cx="684.26" cy="30.39" r="0.55" fill="#d8b0d8"/>
<circle cx="686.82" cy="30.69" r="1.85" fill="#800080"/><circle cx="686.62" cy="30.39" r="0.55" fill="#d8b0d8"/>
<circle cx="689.18" cy="30.69" r="1.85" fill="#800080"/><circle cx="688.98" cy="30.39" r="0.55" fill="#d8b0d8"/>
<polyline points="405.8,207.8 406.74,207.8 407.69,207.8 408.63,207.8 409.58,207.8 410.52,207.8 411.47,207.8 412.41,207.8 413.36,207.79 414.3,207.79 415.25,207.78 416.19,207.76 417.14,207.75 418.08,207.72 419.02,207.69 419.97,207.65 420.91,207.6 421.86,207.54 422.8,207.48 423.75,207.41 424.69,207.34 425.64,207.25 426.58,207.16 427.53,207.06 428.47,206.96 429.42,206.84 430.36,206.72 431.3,206.58 432.25,206.44 433.19,206.29 434.14,206.13 435.08,205.96 436.03,205.78 436.97,205.58 437.92,205.37 438.86,205.14 439.81,204.91 440.75,204.66 441.69,204.41 442.64,204.15 443.58,203.88 444.53,203.59 445.47,203.3 446.42,202.99 447.36,202.66 448.31,202.33 449.25,201.97 450.2,201.58 451.14,201.15 452.09,200.7 453.03,200.21 453.97,199.7 454.92,199.17 455.86,198.62 456.81,198.07 457.75,197.49 458.7,196.92 459.64,196.34 460.59,195.77 461.53,195.2 462.48,194.63 463.42,194.06 464.37,193.49 465.31,192.92 466.25,192.34 467.2,191.76 468.14,191.16 469.09,190.54 470.03,189.9 470.98,189.23 471.92,188.53 472.87,187.82 473.81,187.09 474.76,186.35 475.7,185.59 476.64,184.82 477.59,184.04 478.53,183.25 479.48,182.45 480.42,181.64 481.37,180.83 482.31,180.01 483.26,179.19 484.2,178.36 485.15,177.54 486.09,176.71 487.04,175.89 487.98,175.06 488.92,174.23 489.87,173.39 490.81,172.55 491.76,171.71 492.7,170.87 493.65,170.02 494.59,169.17 495.54,168.31 496.48,167.45 497.43,166.59 498.37,165.71 499.32,164.83 500.26,163.94 501.2,163.04 502.15,162.14 503.09,161.24 504.04,160.33 504.98,159.42 505.93,158.51 506.87,157.6 507.82,156.69 508.76,155.78 509.71,154.86 510.65,153.94 511.6,153.02 512.54,152.09 513.48,151.16 514.43,150.22 515.37,149.27 516.32,148.32 517.26,147.37 518.21,146.41 519.15,145.45 520.1,144.48 521.04,143.5 521.99,142.52 522.93,141.54 523.88,140.55 524.82,139.56 525.76,138.56 526.71,137.56 527.65,136.56 528.6,135.56 529.54,134.55 530.49,133.54 531.43,132.53 532.38,131.52 533.32,130.51 534.27,129.5 535.21,128.49 536.15,127.48 537.1,126.47 538.04,125.47 538.99,124.45 539.93,123.44 540.88,122.42 541.82,121.4 542.77,120.38 543.71,119.37 544.66,118.35 545.6,117.35 546.55,116.34 547.49,115.34 548.43,114.34 549.38,113.34 550.32,112.35 551.27,111.36 552.21,110.38 553.16,109.4 554.1,108.42 555.05,107.45 555.99,106.48 556.94,105.51 557.88,104.53 558.83,103.56 559.77,102.58 560.71,101.6 561.66,100.62 562.6,99.63 563.55,98.64 564.49,97.65 565.44,96.66 566.38,95.67 567.33,94.68 568.27,93.7 569.22,92.71 570.16,91.72 571.11,90.74 572.05,89.75 572.99,88.76 573.94,87.78 574.88,86.79 575.83,85.8 576.77,84.81 577.72,83.83 578.66,82.84 579.61,81.86 580.55,80.87 581.5,79.89 582.44,78.9 583.38,77.92 584.33,76.94 585.27,75.97 586.22,75 587.16,74.03 588.11,73.06 589.05,72.1 590,71.13 590.94,70.16 591.89,69.19 592.83,68.21 593.78,67.23 594.72,66.24 595.66,65.25 596.61,64.26 597.55,63.28 598.5,62.32 599.44,61.37 600.39,60.44 601.33,59.52 602.28,58.62 603.22,57.73 604.17,56.85 605.11,55.97 606.06,55.08 607,54.18 607.94,53.25 608.89,52.32 609.83,51.37 610.78,50.41 611.72,49.45 612.67,48.48 613.61,47.5 614.56,46.52 615.5,45.56 616.45,44.6 617.39,43.65 618.34,42.7 619.28,41.76 620.22,40.84 621.17,39.92 622.11,39.02 623.06,38.13 624,37.25 624.95,36.37 625.89,35.49 626.84,34.61 627.78,33.74 628.73,32.86 629.67,32 630.61,31.15 631.56,30.32 632.5,29.5 633.45,28.72 634.39,27.97 635.34,27.26 636.28,26.63 637.23,26.09 638.17,25.64 639.12,25.28 640.06,24.99 641.01,24.78 641.95,24.62 642.89,24.5 643.84,24.39 644.78,24.29 645.73,24.2 646.67,24.15 647.62,24.14 648.56,24.14 649.51,24.14 650.45,24.14 651.4,24.14 652.34,24.14 653.29,24.14 654.23,24.14 655.17,24.14 656.12,24.14 657.06,24.14 658.01,24.14 658.95,24.14 659.9,24.14 660.84,24.14 661.79,24.14 662.73,24.14 663.68,24.14 664.62,24.14 665.57,24.14 666.51,24.14 667.45,24.14 668.4,24.14 669.34,24.14 670.29,24.14 671.23,24.14 672.18,24.14 673.12,24.14 674.07,24.14 675.01,24.14 675.96,24.14 676.9,24.14 677.84,24.14 678.79,24.14 679.73,24.14 680.68,24.14 681.62,24.14 682.57,24.14 683.51,24.14 684.46,24.14 685.4,24.14 686.35,24.14 687.29,24.14 688.24,24.14 689.18,24.14" fill="none" stroke="#1EA4FF" stroke-width="0.8" />
<circle cx="405.8" cy="207.8" r="1.6" fill="#fff" stroke="#1EA4FF" stroke-width="0.85"/>
<circle cx="408.16" cy="207.8" r="1.6" fill="#fff" stroke="#1EA4FF" stroke-width="0.85"/>
<circle cx="410.52" cy="207.8" r="1.6" fill="#fff" stroke="#1EA4FF" stroke-width="0.85"/>
<circle cx="412.88" cy="207.79" r="1.6" fill="#fff" stroke="#1EA4FF" stroke-width="0.85"/>
<circle cx="415.25" cy="207.78" r="1.6" fill="#fff" stroke="#1EA4FF" stroke-width="0.85"/>
<circle cx="417.61" cy="207.73" r="1.6" fill="#fff" stroke="#1EA4FF" stroke-width="0.85"/>
<circle cx="419.97" cy="207.65" r="1.6" fill="#fff" stroke="#1EA4FF" stroke-width="0.85"/>
<circle cx="422.33" cy="207.51" r="1.6" fill="#fff" stroke="#1EA4FF" stroke-width="0.85"/>
<circle cx="424.69" cy="207.34" r="1.6" fill="#fff" stroke="#1EA4FF" stroke-width="0.85"/>
<circle cx="427.05" cy="207.11" r="1.6" fill="#fff" stroke="#1EA4FF" stroke-width="0.85"/>
<circle cx="429.42" cy="206.84" r="1.6" fill="#fff" stroke="#1EA4FF" stroke-width="0.85"/>
<circle cx="431.78" cy="206.52" r="1.6" fill="#fff" stroke="#1EA4FF" stroke-width="0.85"/>
<circle cx="434.14" cy="206.13" r="1.6" fill="#fff" stroke="#1EA4FF" stroke-width="0.85"/>
<circle cx="436.5" cy="205.68" r="1.6" fill="#fff" stroke="#1EA4FF" stroke-width="0.85"/>
<circle cx="438.86" cy="205.14" r="1.6" fill="#fff" stroke="#1EA4FF" stroke-width="0.85"/>
<circle cx="441.22" cy="204.54" r="1.6" fill="#fff" stroke="#1EA4FF" stroke-width="0.85"/>
<circle cx="443.58" cy="203.88" r="1.6" fill="#fff" stroke="#1EA4FF" stroke-width="0.85"/>
<circle cx="445.95" cy="203.14" r="1.6" fill="#fff" stroke="#1EA4FF" stroke-width="0.85"/>
<circle cx="448.31" cy="202.33" r="1.6" fill="#fff" stroke="#1EA4FF" stroke-width="0.85"/>
<circle cx="450.67" cy="201.37" r="1.6" fill="#fff" stroke="#1EA4FF" stroke-width="0.85"/>
<circle cx="453.03" cy="200.21" r="1.6" fill="#fff" stroke="#1EA4FF" stroke-width="0.85"/>
<circle cx="455.39" cy="198.9" r="1.6" fill="#fff" stroke="#1EA4FF" stroke-width="0.85"/>
<circle cx="457.75" cy="197.49" r="1.6" fill="#fff" stroke="#1EA4FF" stroke-width="0.85"/>
<circle cx="460.11" cy="196.05" r="1.6" fill="#fff" stroke="#1EA4FF" stroke-width="0.85"/>
<circle cx="462.48" cy="194.63" r="1.6" fill="#fff" stroke="#1EA4FF" stroke-width="0.85"/>
<circle cx="464.84" cy="193.21" r="1.6" fill="#fff" stroke="#1EA4FF" stroke-width="0.85"/>
<circle cx="467.2" cy="191.76" r="1.6" fill="#fff" stroke="#1EA4FF" stroke-width="0.85"/>
<circle cx="469.56" cy="190.22" r="1.6" fill="#fff" stroke="#1EA4FF" stroke-width="0.85"/>
<circle cx="471.92" cy="188.53" r="1.6" fill="#fff" stroke="#1EA4FF" stroke-width="0.85"/>
<circle cx="474.28" cy="186.72" r="1.6" fill="#fff" stroke="#1EA4FF" stroke-width="0.85"/>
<circle cx="476.64" cy="184.82" r="1.6" fill="#fff" stroke="#1EA4FF" stroke-width="0.85"/>
<circle cx="479.01" cy="182.85" r="1.6" fill="#fff" stroke="#1EA4FF" stroke-width="0.85"/>
<circle cx="481.37" cy="180.83" r="1.6" fill="#fff" stroke="#1EA4FF" stroke-width="0.85"/>
<circle cx="483.73" cy="178.77" r="1.6" fill="#fff" stroke="#1EA4FF" stroke-width="0.85"/>
<circle cx="486.09" cy="176.71" r="1.6" fill="#fff" stroke="#1EA4FF" stroke-width="0.85"/>
<circle cx="488.45" cy="174.64" r="1.6" fill="#fff" stroke="#1EA4FF" stroke-width="0.85"/>
<circle cx="490.81" cy="172.55" r="1.6" fill="#fff" stroke="#1EA4FF" stroke-width="0.85"/>
<circle cx="493.18" cy="170.44" r="1.6" fill="#fff" stroke="#1EA4FF" stroke-width="0.85"/>
<circle cx="495.54" cy="168.31" r="1.6" fill="#fff" stroke="#1EA4FF" stroke-width="0.85"/>
<circle cx="497.9" cy="166.15" r="1.6" fill="#fff" stroke="#1EA4FF" stroke-width="0.85"/>
<circle cx="500.26" cy="163.94" r="1.6" fill="#fff" stroke="#1EA4FF" stroke-width="0.85"/>
<circle cx="502.62" cy="161.69" r="1.6" fill="#fff" stroke="#1EA4FF" stroke-width="0.85"/>
<circle cx="504.98" cy="159.42" r="1.6" fill="#fff" stroke="#1EA4FF" stroke-width="0.85"/>
<circle cx="507.34" cy="157.15" r="1.6" fill="#fff" stroke="#1EA4FF" stroke-width="0.85"/>
<circle cx="509.71" cy="154.86" r="1.6" fill="#fff" stroke="#1EA4FF" stroke-width="0.85"/>
<circle cx="512.07" cy="152.56" r="1.6" fill="#fff" stroke="#1EA4FF" stroke-width="0.85"/>
<circle cx="514.43" cy="150.22" r="1.6" fill="#fff" stroke="#1EA4FF" stroke-width="0.85"/>
<circle cx="516.79" cy="147.85" r="1.6" fill="#fff" stroke="#1EA4FF" stroke-width="0.85"/>
<circle cx="519.15" cy="145.45" r="1.6" fill="#fff" stroke="#1EA4FF" stroke-width="0.85"/>
<circle cx="521.51" cy="143.01" r="1.6" fill="#fff" stroke="#1EA4FF" stroke-width="0.85"/>
<circle cx="523.88" cy="140.55" r="1.6" fill="#fff" stroke="#1EA4FF" stroke-width="0.85"/>
<circle cx="526.24" cy="138.06" r="1.6" fill="#fff" stroke="#1EA4FF" stroke-width="0.85"/>
<circle cx="528.6" cy="135.56" r="1.6" fill="#fff" stroke="#1EA4FF" stroke-width="0.85"/>
<circle cx="530.96" cy="133.03" r="1.6" fill="#fff" stroke="#1EA4FF" stroke-width="0.85"/>
<circle cx="533.32" cy="130.51" r="1.6" fill="#fff" stroke="#1EA4FF" stroke-width="0.85"/>
<circle cx="535.68" cy="127.99" r="1.6" fill="#fff" stroke="#1EA4FF" stroke-width="0.85"/>
<circle cx="538.04" cy="125.47" r="1.6" fill="#fff" stroke="#1EA4FF" stroke-width="0.85"/>
<circle cx="540.41" cy="122.93" r="1.6" fill="#fff" stroke="#1EA4FF" stroke-width="0.85"/>
<circle cx="542.77" cy="120.38" r="1.6" fill="#fff" stroke="#1EA4FF" stroke-width="0.85"/>
<circle cx="545.13" cy="117.85" r="1.6" fill="#fff" stroke="#1EA4FF" stroke-width="0.85"/>
<circle cx="547.49" cy="115.34" r="1.6" fill="#fff" stroke="#1EA4FF" stroke-width="0.85"/>
<circle cx="549.85" cy="112.84" r="1.6" fill="#fff" stroke="#1EA4FF" stroke-width="0.85"/>
<circle cx="552.21" cy="110.38" r="1.6" fill="#fff" stroke="#1EA4FF" stroke-width="0.85"/>
<circle cx="554.57" cy="107.94" r="1.6" fill="#fff" stroke="#1EA4FF" stroke-width="0.85"/>
<circle cx="556.94" cy="105.51" r="1.6" fill="#fff" stroke="#1EA4FF" stroke-width="0.85"/>
<circle cx="559.3" cy="103.07" r="1.6" fill="#fff" stroke="#1EA4FF" stroke-width="0.85"/>
<circle cx="561.66" cy="100.62" r="1.6" fill="#fff" stroke="#1EA4FF" stroke-width="0.85"/>
<circle cx="564.02" cy="98.15" r="1.6" fill="#fff" stroke="#1EA4FF" stroke-width="0.85"/>
<circle cx="566.38" cy="95.67" r="1.6" fill="#fff" stroke="#1EA4FF" stroke-width="0.85"/>
<circle cx="568.74" cy="93.2" r="1.6" fill="#fff" stroke="#1EA4FF" stroke-width="0.85"/>
<circle cx="571.11" cy="90.74" r="1.6" fill="#fff" stroke="#1EA4FF" stroke-width="0.85"/>
<circle cx="573.47" cy="88.27" r="1.6" fill="#fff" stroke="#1EA4FF" stroke-width="0.85"/>
<circle cx="575.83" cy="85.8" r="1.6" fill="#fff" stroke="#1EA4FF" stroke-width="0.85"/>
<circle cx="578.19" cy="83.34" r="1.6" fill="#fff" stroke="#1EA4FF" stroke-width="0.85"/>
<circle cx="580.55" cy="80.87" r="1.6" fill="#fff" stroke="#1EA4FF" stroke-width="0.85"/>
<circle cx="582.91" cy="78.41" r="1.6" fill="#fff" stroke="#1EA4FF" stroke-width="0.85"/>
<circle cx="585.27" cy="75.97" r="1.6" fill="#fff" stroke="#1EA4FF" stroke-width="0.85"/>
<circle cx="587.64" cy="73.55" r="1.6" fill="#fff" stroke="#1EA4FF" stroke-width="0.85"/>
<circle cx="590" cy="71.13" r="1.6" fill="#fff" stroke="#1EA4FF" stroke-width="0.85"/>
<circle cx="592.36" cy="68.7" r="1.6" fill="#fff" stroke="#1EA4FF" stroke-width="0.85"/>
<circle cx="594.72" cy="66.24" r="1.6" fill="#fff" stroke="#1EA4FF" stroke-width="0.85"/>
<circle cx="597.08" cy="63.77" r="1.6" fill="#fff" stroke="#1EA4FF" stroke-width="0.85"/>
<circle cx="599.44" cy="61.37" r="1.6" fill="#fff" stroke="#1EA4FF" stroke-width="0.85"/>
<circle cx="601.8" cy="59.07" r="1.6" fill="#fff" stroke="#1EA4FF" stroke-width="0.85"/>
<circle cx="604.17" cy="56.85" r="1.6" fill="#fff" stroke="#1EA4FF" stroke-width="0.85"/>
<circle cx="606.53" cy="54.63" r="1.6" fill="#fff" stroke="#1EA4FF" stroke-width="0.85"/>
<circle cx="608.89" cy="52.32" r="1.6" fill="#fff" stroke="#1EA4FF" stroke-width="0.85"/>
<circle cx="611.25" cy="49.93" r="1.6" fill="#fff" stroke="#1EA4FF" stroke-width="0.85"/>
<circle cx="613.61" cy="47.5" r="1.6" fill="#fff" stroke="#1EA4FF" stroke-width="0.85"/>
<circle cx="615.97" cy="45.08" r="1.6" fill="#fff" stroke="#1EA4FF" stroke-width="0.85"/>
<circle cx="618.34" cy="42.7" r="1.6" fill="#fff" stroke="#1EA4FF" stroke-width="0.85"/>
<circle cx="620.7" cy="40.38" r="1.6" fill="#fff" stroke="#1EA4FF" stroke-width="0.85"/>
<circle cx="623.06" cy="38.13" r="1.6" fill="#fff" stroke="#1EA4FF" stroke-width="0.85"/>
<circle cx="625.42" cy="35.93" r="1.6" fill="#fff" stroke="#1EA4FF" stroke-width="0.85"/>
<circle cx="627.78" cy="33.74" r="1.6" fill="#fff" stroke="#1EA4FF" stroke-width="0.85"/>
<circle cx="630.14" cy="31.57" r="1.6" fill="#fff" stroke="#1EA4FF" stroke-width="0.85"/>
<circle cx="632.5" cy="29.5" r="1.6" fill="#fff" stroke="#1EA4FF" stroke-width="0.85"/>
<circle cx="634.87" cy="27.61" r="1.6" fill="#fff" stroke="#1EA4FF" stroke-width="0.85"/>
<circle cx="637.23" cy="26.09" r="1.6" fill="#fff" stroke="#1EA4FF" stroke-width="0.85"/>
<circle cx="639.59" cy="25.12" r="1.6" fill="#fff" stroke="#1EA4FF" stroke-width="0.85"/>
<circle cx="641.95" cy="24.62" r="1.6" fill="#fff" stroke="#1EA4FF" stroke-width="0.85"/>
<circle cx="644.31" cy="24.34" r="1.6" fill="#fff" stroke="#1EA4FF" stroke-width="0.85"/>
<circle cx="646.67" cy="24.15" r="1.6" fill="#fff" stroke="#1EA4FF" stroke-width="0.85"/>
<circle cx="649.03" cy="24.14" r="1.6" fill="#fff" stroke="#1EA4FF" stroke-width="0.85"/>
<circle cx="651.4" cy="24.14" r="1.6" fill="#fff" stroke="#1EA4FF" stroke-width="0.85"/>
<circle cx="653.76" cy="24.14" r="1.6" fill="#fff" stroke="#1EA4FF" stroke-width="0.85"/>
<circle cx="656.12" cy="24.14" r="1.6" fill="#fff" stroke="#1EA4FF" stroke-width="0.85"/>
<circle cx="658.48" cy="24.14" r="1.6" fill="#fff" stroke="#1EA4FF" stroke-width="0.85"/>
<circle cx="660.84" cy="24.14" r="1.6" fill="#fff" stroke="#1EA4FF" stroke-width="0.85"/>
<circle cx="663.2" cy="24.14" r="1.6" fill="#fff" stroke="#1EA4FF" stroke-width="0.85"/>
<circle cx="665.57" cy="24.14" r="1.6" fill="#fff" stroke="#1EA4FF" stroke-width="0.85"/>
<circle cx="667.93" cy="24.14" r="1.6" fill="#fff" stroke="#1EA4FF" stroke-width="0.85"/>
<circle cx="670.29" cy="24.14" r="1.6" fill="#fff" stroke="#1EA4FF" stroke-width="0.85"/>
<circle cx="672.65" cy="24.14" r="1.6" fill="#fff" stroke="#1EA4FF" stroke-width="0.85"/>
<circle cx="675.01" cy="24.14" r="1.6" fill="#fff" stroke="#1EA4FF" stroke-width="0.85"/>
<circle cx="677.37" cy="24.14" r="1.6" fill="#fff" stroke="#1EA4FF" stroke-width="0.85"/>
<circle cx="679.73" cy="24.14" r="1.6" fill="#fff" stroke="#1EA4FF" stroke-width="0.85"/>
<circle cx="682.1" cy="24.14" r="1.6" fill="#fff" stroke="#1EA4FF" stroke-width="0.85"/>
<circle cx="684.46" cy="24.14" r="1.6" fill="#fff" stroke="#1EA4FF" stroke-width="0.85"/>
<circle cx="686.82" cy="24.14" r="1.6" fill="#fff" stroke="#1EA4FF" stroke-width="0.85"/>
<circle cx="689.18" cy="24.14" r="1.6" fill="#fff" stroke="#1EA4FF" stroke-width="0.85"/>
<polyline points="405.8,207.8 406.74,207.8 407.69,207.8 408.63,207.8 409.58,207.8 410.52,207.8 411.47,207.8 412.41,207.8 413.36,207.79 414.3,207.79 415.25,207.78 416.19,207.77 417.14,207.76 418.08,207.73 419.02,207.7 419.97,207.66 420.91,207.62 421.86,207.57 422.8,207.51 423.75,207.44 424.69,207.37 425.64,207.29 426.58,207.21 427.53,207.11 428.47,207.01 429.42,206.9 430.36,206.79 431.3,206.66 432.25,206.53 433.19,206.39 434.14,206.24 435.08,206.07 436.03,205.89 436.97,205.69 437.92,205.48 438.86,205.25 439.81,205.01 440.75,204.76 441.69,204.49 442.64,204.22 443.58,203.93 444.53,203.64 445.47,203.32 446.42,202.99 447.36,202.64 448.31,202.28 449.25,201.9 450.2,201.49 451.14,201.04 452.09,200.55 453.03,200.04 453.97,199.5 454.92,198.95 455.86,198.39 456.81,197.82 457.75,197.23 458.7,196.64 459.64,196.06 460.59,195.47 461.53,194.89 462.48,194.32 463.42,193.74 464.37,193.16 465.31,192.58 466.25,192 467.2,191.4 468.14,190.79 469.09,190.17 470.03,189.51 470.98,188.83 471.92,188.11 472.87,187.39 473.81,186.65 474.76,185.89 475.7,185.12 476.64,184.34 477.59,183.54 478.53,182.74 479.48,181.92 480.42,181.09 481.37,180.26 482.31,179.42 483.26,178.58 484.2,177.74 485.15,176.9 486.09,176.06 487.04,175.22 487.98,174.37 488.92,173.52 489.87,172.67 490.81,171.82 491.76,170.96 492.7,170.1 493.65,169.24 494.59,168.38 495.54,167.51 496.48,166.63 497.43,165.76 498.37,164.87 499.32,163.98 500.26,163.07 501.2,162.16 502.15,161.25 503.09,160.33 504.04,159.41 504.98,158.5 505.93,157.58 506.87,156.65 507.82,155.73 508.76,154.8 509.71,153.88 510.65,152.95 511.6,152.01 512.54,151.07 513.48,150.13 514.43,149.18 515.37,148.22 516.32,147.26 517.26,146.3 518.21,145.33 519.15,144.35 520.1,143.37 521.04,142.39 521.99,141.4 522.93,140.4 523.88,139.4 524.82,138.4 525.76,137.4 526.71,136.39 527.65,135.38 528.6,134.36 529.54,133.34 530.49,132.32 531.43,131.3 532.38,130.28 533.32,129.26 534.27,128.24 535.21,127.22 536.15,126.2 537.1,125.18 538.04,124.15 538.99,123.13 539.93,122.1 540.88,121.07 541.82,120.04 542.77,119.01 543.71,117.98 544.66,116.96 545.6,115.94 546.55,114.92 547.49,113.9 548.43,112.89 549.38,111.88 550.32,110.88 551.27,109.88 552.21,108.89 553.16,107.9 554.1,106.91 555.05,105.92 555.99,104.94 556.94,103.95 557.88,102.97 558.83,101.99 559.77,101 560.71,100 561.66,99.01 562.6,98.01 563.55,97.01 564.49,96 565.44,95 566.38,94 567.33,93 568.27,92 569.22,91 570.16,90 571.11,89 572.05,88 572.99,87 573.94,86 574.88,85 575.83,83.99 576.77,82.99 577.72,81.99 578.66,80.99 579.61,79.99 580.55,78.99 581.5,77.99 582.44,76.99 583.38,75.99 584.33,75 585.27,74.01 586.22,73.03 587.16,72.04 588.11,71.06 589.05,70.08 590,69.1 590.94,68.12 591.89,67.13 592.83,66.14 593.78,65.15 594.72,64.14 595.66,63.14 596.61,62.14 597.55,61.15 598.5,60.18 599.44,59.22 600.39,58.28 601.33,57.35 602.28,56.44 603.22,55.53 604.17,54.65 605.11,53.76 606.06,52.86 607,51.95 607.94,51.01 608.89,50.07 609.83,49.11 610.78,48.14 611.72,47.17 612.67,46.19 613.61,45.2 614.56,44.21 615.5,43.23 616.45,42.26 617.39,41.3 618.34,40.34 619.28,39.39 620.22,38.45 621.17,37.52 622.11,36.6 623.06,35.69 624,34.79 624.95,33.88 625.89,32.97 626.84,32.07 627.78,31.16 628.73,30.25 629.67,29.35 630.61,28.47 631.56,27.6 632.5,26.76 633.45,25.95 634.39,25.18 635.34,24.46 636.28,23.8 637.23,23.23 638.17,22.75 639.12,22.36 640.06,22.05 641.01,21.82 641.95,21.66 642.89,21.54 643.84,21.43 644.78,21.3 645.73,21.19 646.67,21.14 647.62,21.13 648.56,21.13 649.51,21.13 650.45,21.13 651.4,21.13 652.34,21.13 653.29,21.13 654.23,21.13 655.17,21.13 656.12,21.13 657.06,21.13 658.01,21.13 658.95,21.13 659.9,21.13 660.84,21.13 661.79,21.13 662.73,21.13 663.68,21.13 664.62,21.13 665.57,21.13 666.51,21.13 667.45,21.13 668.4,21.13 669.34,21.13 670.29,21.13 671.23,21.13 672.18,21.13 673.12,21.13 674.07,21.13 675.01,21.13 675.96,21.13 676.9,21.13 677.84,21.13 678.79,21.13 679.73,21.13 680.68,21.13 681.62,21.13 682.57,21.13 683.51,21.13 684.46,21.13 685.4,21.13 686.35,21.13 687.29,21.13 688.24,21.13 689.18,21.13" fill="none" stroke="#F0832A" stroke-width="0.8" />
<rect x="404.2" y="206.2" width="3.2" height="3.2" fill="#fff" stroke="#F0832A" stroke-width="0.85"/>
<rect x="406.56" y="206.2" width="3.2" height="3.2" fill="#fff" stroke="#F0832A" stroke-width="0.85"/>
<rect x="408.92" y="206.2" width="3.2" height="3.2" fill="#fff" stroke="#F0832A" stroke-width="0.85"/>
<rect x="411.28" y="206.2" width="3.2" height="3.2" fill="#fff" stroke="#F0832A" stroke-width="0.85"/>
<rect x="413.65" y="206.18" width="3.2" height="3.2" fill="#fff" stroke="#F0832A" stroke-width="0.85"/>
<rect x="416.01" y="206.14" width="3.2" height="3.2" fill="#fff" stroke="#F0832A" stroke-width="0.85"/>
<rect x="418.37" y="206.06" width="3.2" height="3.2" fill="#fff" stroke="#F0832A" stroke-width="0.85"/>
<rect x="420.73" y="205.94" width="3.2" height="3.2" fill="#fff" stroke="#F0832A" stroke-width="0.85"/>
<rect x="423.09" y="205.77" width="3.2" height="3.2" fill="#fff" stroke="#F0832A" stroke-width="0.85"/>
<rect x="425.45" y="205.56" width="3.2" height="3.2" fill="#fff" stroke="#F0832A" stroke-width="0.85"/>
<rect x="427.81" y="205.3" width="3.2" height="3.2" fill="#fff" stroke="#F0832A" stroke-width="0.85"/>
<rect x="430.18" y="205" width="3.2" height="3.2" fill="#fff" stroke="#F0832A" stroke-width="0.85"/>
<rect x="432.54" y="204.64" width="3.2" height="3.2" fill="#fff" stroke="#F0832A" stroke-width="0.85"/>
<rect x="434.9" y="204.19" width="3.2" height="3.2" fill="#fff" stroke="#F0832A" stroke-width="0.85"/>
<rect x="437.26" y="203.65" width="3.2" height="3.2" fill="#fff" stroke="#F0832A" stroke-width="0.85"/>
<rect x="439.62" y="203.03" width="3.2" height="3.2" fill="#fff" stroke="#F0832A" stroke-width="0.85"/>
<rect x="441.98" y="202.33" width="3.2" height="3.2" fill="#fff" stroke="#F0832A" stroke-width="0.85"/>
<rect x="444.35" y="201.56" width="3.2" height="3.2" fill="#fff" stroke="#F0832A" stroke-width="0.85"/>
<rect x="446.71" y="200.68" width="3.2" height="3.2" fill="#fff" stroke="#F0832A" stroke-width="0.85"/>
<rect x="449.07" y="199.66" width="3.2" height="3.2" fill="#fff" stroke="#F0832A" stroke-width="0.85"/>
<rect x="451.43" y="198.44" width="3.2" height="3.2" fill="#fff" stroke="#F0832A" stroke-width="0.85"/>
<rect x="453.79" y="197.07" width="3.2" height="3.2" fill="#fff" stroke="#F0832A" stroke-width="0.85"/>
<rect x="456.15" y="195.63" width="3.2" height="3.2" fill="#fff" stroke="#F0832A" stroke-width="0.85"/>
<rect x="458.51" y="194.17" width="3.2" height="3.2" fill="#fff" stroke="#F0832A" stroke-width="0.85"/>
<rect x="460.88" y="192.72" width="3.2" height="3.2" fill="#fff" stroke="#F0832A" stroke-width="0.85"/>
<rect x="463.24" y="191.27" width="3.2" height="3.2" fill="#fff" stroke="#F0832A" stroke-width="0.85"/>
<rect x="465.6" y="189.8" width="3.2" height="3.2" fill="#fff" stroke="#F0832A" stroke-width="0.85"/>
<rect x="467.96" y="188.24" width="3.2" height="3.2" fill="#fff" stroke="#F0832A" stroke-width="0.85"/>
<rect x="470.32" y="186.51" width="3.2" height="3.2" fill="#fff" stroke="#F0832A" stroke-width="0.85"/>
<rect x="472.68" y="184.67" width="3.2" height="3.2" fill="#fff" stroke="#F0832A" stroke-width="0.85"/>
<rect x="475.04" y="182.74" width="3.2" height="3.2" fill="#fff" stroke="#F0832A" stroke-width="0.85"/>
<rect x="477.41" y="180.73" width="3.2" height="3.2" fill="#fff" stroke="#F0832A" stroke-width="0.85"/>
<rect x="479.77" y="178.66" width="3.2" height="3.2" fill="#fff" stroke="#F0832A" stroke-width="0.85"/>
<rect x="482.13" y="176.56" width="3.2" height="3.2" fill="#fff" stroke="#F0832A" stroke-width="0.85"/>
<rect x="484.49" y="174.46" width="3.2" height="3.2" fill="#fff" stroke="#F0832A" stroke-width="0.85"/>
<rect x="486.85" y="172.35" width="3.2" height="3.2" fill="#fff" stroke="#F0832A" stroke-width="0.85"/>
<rect x="489.21" y="170.22" width="3.2" height="3.2" fill="#fff" stroke="#F0832A" stroke-width="0.85"/>
<rect x="491.58" y="168.07" width="3.2" height="3.2" fill="#fff" stroke="#F0832A" stroke-width="0.85"/>
<rect x="493.94" y="165.91" width="3.2" height="3.2" fill="#fff" stroke="#F0832A" stroke-width="0.85"/>
<rect x="496.3" y="163.71" width="3.2" height="3.2" fill="#fff" stroke="#F0832A" stroke-width="0.85"/>
<rect x="498.66" y="161.47" width="3.2" height="3.2" fill="#fff" stroke="#F0832A" stroke-width="0.85"/>
<rect x="501.02" y="159.19" width="3.2" height="3.2" fill="#fff" stroke="#F0832A" stroke-width="0.85"/>
<rect x="503.38" y="156.9" width="3.2" height="3.2" fill="#fff" stroke="#F0832A" stroke-width="0.85"/>
<rect x="505.74" y="154.59" width="3.2" height="3.2" fill="#fff" stroke="#F0832A" stroke-width="0.85"/>
<rect x="508.11" y="152.28" width="3.2" height="3.2" fill="#fff" stroke="#F0832A" stroke-width="0.85"/>
<rect x="510.47" y="149.94" width="3.2" height="3.2" fill="#fff" stroke="#F0832A" stroke-width="0.85"/>
<rect x="512.83" y="147.58" width="3.2" height="3.2" fill="#fff" stroke="#F0832A" stroke-width="0.85"/>
<rect x="515.19" y="145.18" width="3.2" height="3.2" fill="#fff" stroke="#F0832A" stroke-width="0.85"/>
<rect x="517.55" y="142.75" width="3.2" height="3.2" fill="#fff" stroke="#F0832A" stroke-width="0.85"/>
<rect x="519.91" y="140.29" width="3.2" height="3.2" fill="#fff" stroke="#F0832A" stroke-width="0.85"/>
<rect x="522.27" y="137.8" width="3.2" height="3.2" fill="#fff" stroke="#F0832A" stroke-width="0.85"/>
<rect x="524.64" y="135.29" width="3.2" height="3.2" fill="#fff" stroke="#F0832A" stroke-width="0.85"/>
<rect x="527" y="132.76" width="3.2" height="3.2" fill="#fff" stroke="#F0832A" stroke-width="0.85"/>
<rect x="529.36" y="130.21" width="3.2" height="3.2" fill="#fff" stroke="#F0832A" stroke-width="0.85"/>
<rect x="531.72" y="127.66" width="3.2" height="3.2" fill="#fff" stroke="#F0832A" stroke-width="0.85"/>
<rect x="534.08" y="125.11" width="3.2" height="3.2" fill="#fff" stroke="#F0832A" stroke-width="0.85"/>
<rect x="536.44" y="122.55" width="3.2" height="3.2" fill="#fff" stroke="#F0832A" stroke-width="0.85"/>
<rect x="538.81" y="119.99" width="3.2" height="3.2" fill="#fff" stroke="#F0832A" stroke-width="0.85"/>
<rect x="541.17" y="117.41" width="3.2" height="3.2" fill="#fff" stroke="#F0832A" stroke-width="0.85"/>
<rect x="543.53" y="114.85" width="3.2" height="3.2" fill="#fff" stroke="#F0832A" stroke-width="0.85"/>
<rect x="545.89" y="112.3" width="3.2" height="3.2" fill="#fff" stroke="#F0832A" stroke-width="0.85"/>
<rect x="548.25" y="109.78" width="3.2" height="3.2" fill="#fff" stroke="#F0832A" stroke-width="0.85"/>
<rect x="550.61" y="107.29" width="3.2" height="3.2" fill="#fff" stroke="#F0832A" stroke-width="0.85"/>
<rect x="552.97" y="104.81" width="3.2" height="3.2" fill="#fff" stroke="#F0832A" stroke-width="0.85"/>
<rect x="555.34" y="102.35" width="3.2" height="3.2" fill="#fff" stroke="#F0832A" stroke-width="0.85"/>
<rect x="557.7" y="99.89" width="3.2" height="3.2" fill="#fff" stroke="#F0832A" stroke-width="0.85"/>
<rect x="560.06" y="97.41" width="3.2" height="3.2" fill="#fff" stroke="#F0832A" stroke-width="0.85"/>
<rect x="562.42" y="94.91" width="3.2" height="3.2" fill="#fff" stroke="#F0832A" stroke-width="0.85"/>
<rect x="564.78" y="92.4" width="3.2" height="3.2" fill="#fff" stroke="#F0832A" stroke-width="0.85"/>
<rect x="567.14" y="89.9" width="3.2" height="3.2" fill="#fff" stroke="#F0832A" stroke-width="0.85"/>
<rect x="569.5" y="87.4" width="3.2" height="3.2" fill="#fff" stroke="#F0832A" stroke-width="0.85"/>
<rect x="571.87" y="84.9" width="3.2" height="3.2" fill="#fff" stroke="#F0832A" stroke-width="0.85"/>
<rect x="574.23" y="82.39" width="3.2" height="3.2" fill="#fff" stroke="#F0832A" stroke-width="0.85"/>
<rect x="576.59" y="79.89" width="3.2" height="3.2" fill="#fff" stroke="#F0832A" stroke-width="0.85"/>
<rect x="578.95" y="77.39" width="3.2" height="3.2" fill="#fff" stroke="#F0832A" stroke-width="0.85"/>
<rect x="581.31" y="74.89" width="3.2" height="3.2" fill="#fff" stroke="#F0832A" stroke-width="0.85"/>
<rect x="583.67" y="72.41" width="3.2" height="3.2" fill="#fff" stroke="#F0832A" stroke-width="0.85"/>
<rect x="586.04" y="69.95" width="3.2" height="3.2" fill="#fff" stroke="#F0832A" stroke-width="0.85"/>
<rect x="588.4" y="67.5" width="3.2" height="3.2" fill="#fff" stroke="#F0832A" stroke-width="0.85"/>
<rect x="590.76" y="65.04" width="3.2" height="3.2" fill="#fff" stroke="#F0832A" stroke-width="0.85"/>
<rect x="593.12" y="62.54" width="3.2" height="3.2" fill="#fff" stroke="#F0832A" stroke-width="0.85"/>
<rect x="595.48" y="60.05" width="3.2" height="3.2" fill="#fff" stroke="#F0832A" stroke-width="0.85"/>
<rect x="597.84" y="57.62" width="3.2" height="3.2" fill="#fff" stroke="#F0832A" stroke-width="0.85"/>
<rect x="600.2" y="55.29" width="3.2" height="3.2" fill="#fff" stroke="#F0832A" stroke-width="0.85"/>
<rect x="602.57" y="53.05" width="3.2" height="3.2" fill="#fff" stroke="#F0832A" stroke-width="0.85"/>
<rect x="604.93" y="50.81" width="3.2" height="3.2" fill="#fff" stroke="#F0832A" stroke-width="0.85"/>
<rect x="607.29" y="48.47" width="3.2" height="3.2" fill="#fff" stroke="#F0832A" stroke-width="0.85"/>
<rect x="609.65" y="46.06" width="3.2" height="3.2" fill="#fff" stroke="#F0832A" stroke-width="0.85"/>
<rect x="612.01" y="43.6" width="3.2" height="3.2" fill="#fff" stroke="#F0832A" stroke-width="0.85"/>
<rect x="614.37" y="41.15" width="3.2" height="3.2" fill="#fff" stroke="#F0832A" stroke-width="0.85"/>
<rect x="616.74" y="38.74" width="3.2" height="3.2" fill="#fff" stroke="#F0832A" stroke-width="0.85"/>
<rect x="619.1" y="36.38" width="3.2" height="3.2" fill="#fff" stroke="#F0832A" stroke-width="0.85"/>
<rect x="621.46" y="34.09" width="3.2" height="3.2" fill="#fff" stroke="#F0832A" stroke-width="0.85"/>
<rect x="623.82" y="31.83" width="3.2" height="3.2" fill="#fff" stroke="#F0832A" stroke-width="0.85"/>
<rect x="626.18" y="29.56" width="3.2" height="3.2" fill="#fff" stroke="#F0832A" stroke-width="0.85"/>
<rect x="628.54" y="27.31" width="3.2" height="3.2" fill="#fff" stroke="#F0832A" stroke-width="0.85"/>
<rect x="630.9" y="25.16" width="3.2" height="3.2" fill="#fff" stroke="#F0832A" stroke-width="0.85"/>
<rect x="633.27" y="23.21" width="3.2" height="3.2" fill="#fff" stroke="#F0832A" stroke-width="0.85"/>
<rect x="635.63" y="21.63" width="3.2" height="3.2" fill="#fff" stroke="#F0832A" stroke-width="0.85"/>
<rect x="637.99" y="20.59" width="3.2" height="3.2" fill="#fff" stroke="#F0832A" stroke-width="0.85"/>
<rect x="640.35" y="20.06" width="3.2" height="3.2" fill="#fff" stroke="#F0832A" stroke-width="0.85"/>
<rect x="642.71" y="19.77" width="3.2" height="3.2" fill="#fff" stroke="#F0832A" stroke-width="0.85"/>
<rect x="645.07" y="19.54" width="3.2" height="3.2" fill="#fff" stroke="#F0832A" stroke-width="0.85"/>
<rect x="647.43" y="19.53" width="3.2" height="3.2" fill="#fff" stroke="#F0832A" stroke-width="0.85"/>
<rect x="649.8" y="19.53" width="3.2" height="3.2" fill="#fff" stroke="#F0832A" stroke-width="0.85"/>
<rect x="652.16" y="19.53" width="3.2" height="3.2" fill="#fff" stroke="#F0832A" stroke-width="0.85"/>
<rect x="654.52" y="19.53" width="3.2" height="3.2" fill="#fff" stroke="#F0832A" stroke-width="0.85"/>
<rect x="656.88" y="19.53" width="3.2" height="3.2" fill="#fff" stroke="#F0832A" stroke-width="0.85"/>
<rect x="659.24" y="19.53" width="3.2" height="3.2" fill="#fff" stroke="#F0832A" stroke-width="0.85"/>
<rect x="661.6" y="19.53" width="3.2" height="3.2" fill="#fff" stroke="#F0832A" stroke-width="0.85"/>
<rect x="663.97" y="19.53" width="3.2" height="3.2" fill="#fff" stroke="#F0832A" stroke-width="0.85"/>
<rect x="666.33" y="19.53" width="3.2" height="3.2" fill="#fff" stroke="#F0832A" stroke-width="0.85"/>
<rect x="668.69" y="19.53" width="3.2" height="3.2" fill="#fff" stroke="#F0832A" stroke-width="0.85"/>
<rect x="671.05" y="19.53" width="3.2" height="3.2" fill="#fff" stroke="#F0832A" stroke-width="0.85"/>
<rect x="673.41" y="19.53" width="3.2" height="3.2" fill="#fff" stroke="#F0832A" stroke-width="0.85"/>
<rect x="675.77" y="19.53" width="3.2" height="3.2" fill="#fff" stroke="#F0832A" stroke-width="0.85"/>
<rect x="678.13" y="19.53" width="3.2" height="3.2" fill="#fff" stroke="#F0832A" stroke-width="0.85"/>
<rect x="680.5" y="19.53" width="3.2" height="3.2" fill="#fff" stroke="#F0832A" stroke-width="0.85"/>
<rect x="682.86" y="19.53" width="3.2" height="3.2" fill="#fff" stroke="#F0832A" stroke-width="0.85"/>
<rect x="685.22" y="19.53" width="3.2" height="3.2" fill="#fff" stroke="#F0832A" stroke-width="0.85"/>
<rect x="687.58" y="19.53" width="3.2" height="3.2" fill="#fff" stroke="#F0832A" stroke-width="0.85"/>
<polyline points="405.8,206.4 406.74,206.32 407.69,206.12 408.63,205.85 409.58,205.38 410.52,204.6 411.47,202.19 412.41,197.93 413.36,192.96 414.3,186.36 415.25,179.6 416.19,173.37 417.14,167.37 418.08,161.99 419.02,157.11 419.97,152.6 420.91,148.51 421.86,144.63 422.8,140.52 423.75,136.3 424.69,131.6 425.64,125.37 426.58,119.15 427.53,115.16 428.47,112.01 429.42,109.33 430.36,106.85 431.3,104.32 432.25,101.44 433.19,97.99 434.14,94.48 435.08,91.73 436.03,89.49 436.97,87.68 437.92,86.6 438.86,85.98 439.81,85.54 440.75,85.12 441.69,84.6 442.64,83.94 443.58,83.22 444.53,82.41 445.47,81.53 446.42,80.53 447.36,79.34 448.31,78.06 449.25,76.76 450.2,75.4 451.14,73.86 452.09,71.95 453.03,69.7 453.97,67.21 454.92,64.53 455.86,62.38 456.81,60.58 457.75,58.84 458.7,56.93 459.64,54.91 460.59,53.02 461.53,51.43 462.48,50.02 463.42,48.72 464.37,47.51 465.31,46.36 466.25,45.29 467.2,44.31 468.14,43.39 469.09,42.51 470.03,41.69 470.98,40.93 471.92,40.23 472.87,39.6 473.81,39.01 474.76,38.45 475.7,37.92 476.64,37.4 477.59,36.89 478.53,36.37 479.48,35.82 480.42,35.24 481.37,34.67 482.31,34.17 483.26,33.78 484.2,33.54 485.15,33.39 486.09,33.28 487.04,33.18 487.98,33.07 488.92,32.92 489.87,32.76 490.81,32.58 491.76,32.38 492.7,32.17 493.65,31.96 494.59,31.75 495.54,31.54 496.48,31.33 497.43,31.13 498.37,30.94 499.32,30.76 500.26,30.6 501.2,30.44 502.15,30.28 503.09,30.11 504.04,29.95 504.98,29.81 505.93,29.7 506.87,29.63 507.82,29.6 508.76,29.61 509.71,29.63 510.65,29.68 511.6,29.73 512.54,29.8 513.48,29.88 514.43,29.98 515.37,30.08 516.32,30.19 517.26,30.3 518.21,30.43 519.15,30.55 520.1,30.68 521.04,30.82 521.99,30.95 522.93,31.08 523.88,31.21 524.82,31.34 525.76,31.47 526.71,31.62 527.65,31.8 528.6,32.01 529.54,32.22 530.49,32.43 531.43,32.64 532.38,32.84 533.32,33.02 534.27,33.18 535.21,33.3 536.15,33.37 537.1,33.4 538.04,33.39 538.99,33.37 539.93,33.34 540.88,33.29 541.82,33.23 542.77,33.17 543.71,33.09 544.66,33.01 545.6,32.91 546.55,32.82 547.49,32.71 548.43,32.6 549.38,32.49 550.32,32.38 551.27,32.26 552.21,32.13 553.16,31.96 554.1,31.75 555.05,31.49 555.99,31.21 556.94,30.9 557.88,30.58 558.83,30.26 559.77,29.93 560.71,29.62 561.66,29.33 562.6,29.06 563.55,28.82 564.49,28.63 565.44,28.49 566.38,28.4 567.33,28.35 568.27,28.3 569.22,28.25 570.16,28.21 571.11,28.17 572.05,28.13 572.99,28.1 573.94,28.07 574.88,28.04 575.83,28.03 576.77,28.01 577.72,28 578.66,28 579.61,28.05 580.55,28.19 581.5,28.41 582.44,28.7 583.38,29.04 584.33,29.42 585.27,29.84 586.22,30.26 587.16,30.69 588.11,31.12 589.05,31.52 590,31.88 590.94,32.2 591.89,32.51 592.83,32.85 593.78,33.2 594.72,33.56 595.66,33.9 596.61,34.22 597.55,34.5 598.5,34.73 599.44,34.9 600.39,34.99 601.33,35 602.28,34.96 603.22,34.9 604.17,34.81 605.11,34.71 606.06,34.58 607,34.44 607.94,34.29 608.89,34.14 609.83,33.98 610.78,33.82 611.72,33.67 612.67,33.52 613.61,33.33 614.56,33.1 615.5,32.88 616.45,32.67 617.39,32.51 618.34,32.41 619.28,32.47 620.22,32.95 621.17,33.72 622.11,34.6 623.06,35.76 624,37.29 624.95,38.88 625.89,40.24 626.84,41.37 627.78,42.49 628.73,43.83 629.67,45.62 630.61,48.38 631.56,51.81 632.5,55.42 633.45,59.39 634.39,64.82 635.34,73.71 636.28,83.28 637.23,91.93 638.17,100.53 639.12,109.42 640.06,118.9 641.01,128.51 641.95,137.6 642.89,145.77 643.84,153.59 644.78,161.91 645.73,170.95 646.67,178.6 647.62,184.19 648.56,188.79 649.51,192.69 650.45,196.09 651.4,198.8 652.34,200.88 653.29,202.55 654.23,203.77 655.17,204.76 656.12,205.4 657.06,205.78 658.01,206.09 658.95,206.34 659.9,206.51 660.84,206.6 661.79,206.64 662.73,206.67 663.68,206.7 664.62,206.72 665.57,206.74 666.51,206.76 667.45,206.77 668.4,206.78 669.34,206.79 670.29,206.8 671.23,206.81 672.18,206.82 673.12,206.82 674.07,206.83 675.01,206.84 675.96,206.85 676.9,206.85 677.84,206.86 678.79,206.87 679.73,206.87 680.68,206.88 681.62,206.88 682.57,206.89 683.51,206.89 684.46,206.89 685.4,206.9 686.35,206.9 687.29,206.9 688.24,206.9 689.18,206.9" fill="none" stroke="#800080" stroke-width="0.8" />
<circle cx="405.8" cy="206.4" r="1.85" fill="#800080"/><circle cx="405.6" cy="206.1" r="0.55" fill="#d8b0d8"/>
<circle cx="408.16" cy="206" r="1.85" fill="#800080"/><circle cx="407.96" cy="205.7" r="0.55" fill="#d8b0d8"/>
<circle cx="410.52" cy="204.6" r="1.85" fill="#800080"/><circle cx="410.32" cy="204.3" r="0.55" fill="#d8b0d8"/>
<circle cx="412.88" cy="195.6" r="1.85" fill="#800080"/><circle cx="412.68" cy="195.3" r="0.55" fill="#d8b0d8"/>
<circle cx="415.25" cy="179.6" r="1.85" fill="#800080"/><circle cx="415.05" cy="179.3" r="0.55" fill="#d8b0d8"/>
<circle cx="417.61" cy="164.6" r="1.85" fill="#800080"/><circle cx="417.41" cy="164.3" r="0.55" fill="#d8b0d8"/>
<circle cx="419.97" cy="152.6" r="1.85" fill="#800080"/><circle cx="419.77" cy="152.3" r="0.55" fill="#d8b0d8"/>
<circle cx="422.33" cy="142.6" r="1.85" fill="#800080"/><circle cx="422.13" cy="142.3" r="0.55" fill="#d8b0d8"/>
<circle cx="424.69" cy="131.6" r="1.85" fill="#800080"/><circle cx="424.49" cy="131.3" r="0.55" fill="#d8b0d8"/>
<circle cx="427.05" cy="117" r="1.85" fill="#800080"/><circle cx="426.85" cy="116.7" r="0.55" fill="#d8b0d8"/>
<circle cx="429.42" cy="109.33" r="1.85" fill="#800080"/><circle cx="429.22" cy="109.03" r="0.55" fill="#d8b0d8"/>
<circle cx="431.78" cy="102.94" r="1.85" fill="#800080"/><circle cx="431.58" cy="102.64" r="0.55" fill="#d8b0d8"/>
<circle cx="434.14" cy="94.48" r="1.85" fill="#800080"/><circle cx="433.94" cy="94.18" r="0.55" fill="#d8b0d8"/>
<circle cx="436.5" cy="88.51" r="1.85" fill="#800080"/><circle cx="436.3" cy="88.21" r="0.55" fill="#d8b0d8"/>
<circle cx="438.86" cy="85.98" r="1.85" fill="#800080"/><circle cx="438.66" cy="85.68" r="0.55" fill="#d8b0d8"/>
<circle cx="441.22" cy="84.88" r="1.85" fill="#800080"/><circle cx="441.02" cy="84.58" r="0.55" fill="#d8b0d8"/>
<circle cx="443.58" cy="83.22" r="1.85" fill="#800080"/><circle cx="443.38" cy="82.92" r="0.55" fill="#d8b0d8"/>
<circle cx="445.95" cy="81.05" r="1.85" fill="#800080"/><circle cx="445.75" cy="80.75" r="0.55" fill="#d8b0d8"/>
<circle cx="448.31" cy="78.06" r="1.85" fill="#800080"/><circle cx="448.11" cy="77.76" r="0.55" fill="#d8b0d8"/>
<circle cx="450.67" cy="74.66" r="1.85" fill="#800080"/><circle cx="450.47" cy="74.36" r="0.55" fill="#d8b0d8"/>
<circle cx="453.03" cy="69.7" r="1.85" fill="#800080"/><circle cx="452.83" cy="69.4" r="0.55" fill="#d8b0d8"/>
<circle cx="455.39" cy="63.39" r="1.85" fill="#800080"/><circle cx="455.19" cy="63.09" r="0.55" fill="#d8b0d8"/>
<circle cx="457.75" cy="58.84" r="1.85" fill="#800080"/><circle cx="457.55" cy="58.54" r="0.55" fill="#d8b0d8"/>
<circle cx="460.11" cy="53.93" r="1.85" fill="#800080"/><circle cx="459.91" cy="53.63" r="0.55" fill="#d8b0d8"/>
<circle cx="462.48" cy="50.02" r="1.85" fill="#800080"/><circle cx="462.28" cy="49.72" r="0.55" fill="#d8b0d8"/>
<circle cx="464.84" cy="46.92" r="1.85" fill="#800080"/><circle cx="464.64" cy="46.62" r="0.55" fill="#d8b0d8"/>
<circle cx="467.2" cy="44.31" r="1.85" fill="#800080"/><circle cx="467" cy="44.01" r="0.55" fill="#d8b0d8"/>
<circle cx="469.56" cy="42.09" r="1.85" fill="#800080"/><circle cx="469.36" cy="41.79" r="0.55" fill="#d8b0d8"/>
<circle cx="471.92" cy="40.23" r="1.85" fill="#800080"/><circle cx="471.72" cy="39.93" r="0.55" fill="#d8b0d8"/>
<circle cx="474.28" cy="38.72" r="1.85" fill="#800080"/><circle cx="474.08" cy="38.42" r="0.55" fill="#d8b0d8"/>
<circle cx="476.64" cy="37.4" r="1.85" fill="#800080"/><circle cx="476.44" cy="37.1" r="0.55" fill="#d8b0d8"/>
<circle cx="479.01" cy="36.1" r="1.85" fill="#800080"/><circle cx="478.81" cy="35.8" r="0.55" fill="#d8b0d8"/>
<circle cx="481.37" cy="34.67" r="1.85" fill="#800080"/><circle cx="481.17" cy="34.37" r="0.55" fill="#d8b0d8"/>
<circle cx="483.73" cy="33.64" r="1.85" fill="#800080"/><circle cx="483.53" cy="33.34" r="0.55" fill="#d8b0d8"/>
<circle cx="486.09" cy="33.28" r="1.85" fill="#800080"/><circle cx="485.89" cy="32.98" r="0.55" fill="#d8b0d8"/>
<circle cx="488.45" cy="33" r="1.85" fill="#800080"/><circle cx="488.25" cy="32.7" r="0.55" fill="#d8b0d8"/>
<circle cx="490.81" cy="32.58" r="1.85" fill="#800080"/><circle cx="490.61" cy="32.28" r="0.55" fill="#d8b0d8"/>
<circle cx="493.18" cy="32.07" r="1.85" fill="#800080"/><circle cx="492.98" cy="31.77" r="0.55" fill="#d8b0d8"/>
<circle cx="495.54" cy="31.54" r="1.85" fill="#800080"/><circle cx="495.34" cy="31.24" r="0.55" fill="#d8b0d8"/>
<circle cx="497.9" cy="31.03" r="1.85" fill="#800080"/><circle cx="497.7" cy="30.73" r="0.55" fill="#d8b0d8"/>
<circle cx="500.26" cy="30.6" r="1.85" fill="#800080"/><circle cx="500.06" cy="30.3" r="0.55" fill="#d8b0d8"/>
<circle cx="502.62" cy="30.19" r="1.85" fill="#800080"/><circle cx="502.42" cy="29.89" r="0.55" fill="#d8b0d8"/>
<circle cx="504.98" cy="29.81" r="1.85" fill="#800080"/><circle cx="504.78" cy="29.51" r="0.55" fill="#d8b0d8"/>
<circle cx="507.34" cy="29.61" r="1.85" fill="#800080"/><circle cx="507.14" cy="29.31" r="0.55" fill="#d8b0d8"/>
<circle cx="509.71" cy="29.63" r="1.85" fill="#800080"/><circle cx="509.51" cy="29.33" r="0.55" fill="#d8b0d8"/>
<circle cx="512.07" cy="29.77" r="1.85" fill="#800080"/><circle cx="511.87" cy="29.47" r="0.55" fill="#d8b0d8"/>
<circle cx="514.43" cy="29.98" r="1.85" fill="#800080"/><circle cx="514.23" cy="29.68" r="0.55" fill="#d8b0d8"/>
<circle cx="516.79" cy="30.24" r="1.85" fill="#800080"/><circle cx="516.59" cy="29.94" r="0.55" fill="#d8b0d8"/>
<circle cx="519.15" cy="30.55" r="1.85" fill="#800080"/><circle cx="518.95" cy="30.25" r="0.55" fill="#d8b0d8"/>
<circle cx="521.51" cy="30.88" r="1.85" fill="#800080"/><circle cx="521.31" cy="30.58" r="0.55" fill="#d8b0d8"/>
<circle cx="523.88" cy="31.21" r="1.85" fill="#800080"/><circle cx="523.67" cy="30.91" r="0.55" fill="#d8b0d8"/>
<circle cx="526.24" cy="31.54" r="1.85" fill="#800080"/><circle cx="526.04" cy="31.24" r="0.55" fill="#d8b0d8"/>
<circle cx="528.6" cy="32.01" r="1.85" fill="#800080"/><circle cx="528.4" cy="31.71" r="0.55" fill="#d8b0d8"/>
<circle cx="530.96" cy="32.54" r="1.85" fill="#800080"/><circle cx="530.76" cy="32.24" r="0.55" fill="#d8b0d8"/>
<circle cx="533.32" cy="33.02" r="1.85" fill="#800080"/><circle cx="533.12" cy="32.72" r="0.55" fill="#d8b0d8"/>
<circle cx="535.68" cy="33.34" r="1.85" fill="#800080"/><circle cx="535.48" cy="33.04" r="0.55" fill="#d8b0d8"/>
<circle cx="538.04" cy="33.39" r="1.85" fill="#800080"/><circle cx="537.84" cy="33.09" r="0.55" fill="#d8b0d8"/>
<circle cx="540.41" cy="33.32" r="1.85" fill="#800080"/><circle cx="540.21" cy="33.02" r="0.55" fill="#d8b0d8"/>
<circle cx="542.77" cy="33.17" r="1.85" fill="#800080"/><circle cx="542.57" cy="32.87" r="0.55" fill="#d8b0d8"/>
<circle cx="545.13" cy="32.96" r="1.85" fill="#800080"/><circle cx="544.93" cy="32.66" r="0.55" fill="#d8b0d8"/>
<circle cx="547.49" cy="32.71" r="1.85" fill="#800080"/><circle cx="547.29" cy="32.41" r="0.55" fill="#d8b0d8"/>
<circle cx="549.85" cy="32.43" r="1.85" fill="#800080"/><circle cx="549.65" cy="32.13" r="0.55" fill="#d8b0d8"/>
<circle cx="552.21" cy="32.13" r="1.85" fill="#800080"/><circle cx="552.01" cy="31.83" r="0.55" fill="#d8b0d8"/>
<circle cx="554.57" cy="31.62" r="1.85" fill="#800080"/><circle cx="554.37" cy="31.32" r="0.55" fill="#d8b0d8"/>
<circle cx="556.94" cy="30.9" r="1.85" fill="#800080"/><circle cx="556.74" cy="30.6" r="0.55" fill="#d8b0d8"/>
<circle cx="559.3" cy="30.09" r="1.85" fill="#800080"/><circle cx="559.1" cy="29.79" r="0.55" fill="#d8b0d8"/>
<circle cx="561.66" cy="29.33" r="1.85" fill="#800080"/><circle cx="561.46" cy="29.03" r="0.55" fill="#d8b0d8"/>
<circle cx="564.02" cy="28.72" r="1.85" fill="#800080"/><circle cx="563.82" cy="28.42" r="0.55" fill="#d8b0d8"/>
<circle cx="566.38" cy="28.4" r="1.85" fill="#800080"/><circle cx="566.18" cy="28.1" r="0.55" fill="#d8b0d8"/>
<circle cx="568.74" cy="28.27" r="1.85" fill="#800080"/><circle cx="568.54" cy="27.97" r="0.55" fill="#d8b0d8"/>
<circle cx="571.11" cy="28.17" r="1.85" fill="#800080"/><circle cx="570.9" cy="27.87" r="0.55" fill="#d8b0d8"/>
<circle cx="573.47" cy="28.08" r="1.85" fill="#800080"/><circle cx="573.27" cy="27.78" r="0.55" fill="#d8b0d8"/>
<circle cx="575.83" cy="28.03" r="1.85" fill="#800080"/><circle cx="575.63" cy="27.73" r="0.55" fill="#d8b0d8"/>
<circle cx="578.19" cy="28" r="1.85" fill="#800080"/><circle cx="577.99" cy="27.7" r="0.55" fill="#d8b0d8"/>
<circle cx="580.55" cy="28.19" r="1.85" fill="#800080"/><circle cx="580.35" cy="27.89" r="0.55" fill="#d8b0d8"/>
<circle cx="582.91" cy="28.86" r="1.85" fill="#800080"/><circle cx="582.71" cy="28.56" r="0.55" fill="#d8b0d8"/>
<circle cx="585.27" cy="29.84" r="1.85" fill="#800080"/><circle cx="585.07" cy="29.54" r="0.55" fill="#d8b0d8"/>
<circle cx="587.64" cy="30.91" r="1.85" fill="#800080"/><circle cx="587.44" cy="30.61" r="0.55" fill="#d8b0d8"/>
<circle cx="590" cy="31.88" r="1.85" fill="#800080"/><circle cx="589.8" cy="31.58" r="0.55" fill="#d8b0d8"/>
<circle cx="592.36" cy="32.68" r="1.85" fill="#800080"/><circle cx="592.16" cy="32.38" r="0.55" fill="#d8b0d8"/>
<circle cx="594.72" cy="33.56" r="1.85" fill="#800080"/><circle cx="594.52" cy="33.26" r="0.55" fill="#d8b0d8"/>
<circle cx="597.08" cy="34.37" r="1.85" fill="#800080"/><circle cx="596.88" cy="34.07" r="0.55" fill="#d8b0d8"/>
<circle cx="599.44" cy="34.9" r="1.85" fill="#800080"/><circle cx="599.24" cy="34.6" r="0.55" fill="#d8b0d8"/>
<circle cx="601.8" cy="34.98" r="1.85" fill="#800080"/><circle cx="601.6" cy="34.68" r="0.55" fill="#d8b0d8"/>
<circle cx="604.17" cy="34.81" r="1.85" fill="#800080"/><circle cx="603.97" cy="34.51" r="0.55" fill="#d8b0d8"/>
<circle cx="606.53" cy="34.51" r="1.85" fill="#800080"/><circle cx="606.33" cy="34.21" r="0.55" fill="#d8b0d8"/>
<circle cx="608.89" cy="34.14" r="1.85" fill="#800080"/><circle cx="608.69" cy="33.84" r="0.55" fill="#d8b0d8"/>
<circle cx="611.25" cy="33.75" r="1.85" fill="#800080"/><circle cx="611.05" cy="33.45" r="0.55" fill="#d8b0d8"/>
<circle cx="613.61" cy="33.33" r="1.85" fill="#800080"/><circle cx="613.41" cy="33.03" r="0.55" fill="#d8b0d8"/>
<circle cx="615.97" cy="32.77" r="1.85" fill="#800080"/><circle cx="615.77" cy="32.47" r="0.55" fill="#d8b0d8"/>
<circle cx="618.34" cy="32.41" r="1.85" fill="#800080"/><circle cx="618.13" cy="32.11" r="0.55" fill="#d8b0d8"/>
<circle cx="620.7" cy="33.31" r="1.85" fill="#800080"/><circle cx="620.5" cy="33.01" r="0.55" fill="#d8b0d8"/>
<circle cx="623.06" cy="35.76" r="1.85" fill="#800080"/><circle cx="622.86" cy="35.46" r="0.55" fill="#d8b0d8"/>
<circle cx="625.42" cy="39.6" r="1.85" fill="#800080"/><circle cx="625.22" cy="39.3" r="0.55" fill="#d8b0d8"/>
<circle cx="627.78" cy="42.49" r="1.85" fill="#800080"/><circle cx="627.58" cy="42.19" r="0.55" fill="#d8b0d8"/>
<circle cx="630.14" cy="46.88" r="1.85" fill="#800080"/><circle cx="629.94" cy="46.58" r="0.55" fill="#d8b0d8"/>
<circle cx="632.5" cy="55.42" r="1.85" fill="#800080"/><circle cx="632.3" cy="55.12" r="0.55" fill="#d8b0d8"/>
<circle cx="634.87" cy="68.92" r="1.85" fill="#800080"/><circle cx="634.67" cy="68.62" r="0.55" fill="#d8b0d8"/>
<circle cx="637.23" cy="91.93" r="1.85" fill="#800080"/><circle cx="637.03" cy="91.63" r="0.55" fill="#d8b0d8"/>
<circle cx="639.59" cy="114.1" r="1.85" fill="#800080"/><circle cx="639.39" cy="113.8" r="0.55" fill="#d8b0d8"/>
<circle cx="641.95" cy="137.6" r="1.85" fill="#800080"/><circle cx="641.75" cy="137.3" r="0.55" fill="#d8b0d8"/>
<circle cx="644.31" cy="157.6" r="1.85" fill="#800080"/><circle cx="644.11" cy="157.3" r="0.55" fill="#d8b0d8"/>
<circle cx="646.67" cy="178.6" r="1.85" fill="#800080"/><circle cx="646.47" cy="178.3" r="0.55" fill="#d8b0d8"/>
<circle cx="649.03" cy="190.8" r="1.85" fill="#800080"/><circle cx="648.83" cy="190.5" r="0.55" fill="#d8b0d8"/>
<circle cx="651.4" cy="198.8" r="1.85" fill="#800080"/><circle cx="651.2" cy="198.5" r="0.55" fill="#d8b0d8"/>
<circle cx="653.76" cy="203.2" r="1.85" fill="#800080"/><circle cx="653.56" cy="202.9" r="0.55" fill="#d8b0d8"/>
<circle cx="656.12" cy="205.4" r="1.85" fill="#800080"/><circle cx="655.92" cy="205.1" r="0.55" fill="#d8b0d8"/>
<circle cx="658.48" cy="206.23" r="1.85" fill="#800080"/><circle cx="658.28" cy="205.93" r="0.55" fill="#d8b0d8"/>
<circle cx="660.84" cy="206.6" r="1.85" fill="#800080"/><circle cx="660.64" cy="206.3" r="0.55" fill="#d8b0d8"/>
<circle cx="663.2" cy="206.68" r="1.85" fill="#800080"/><circle cx="663" cy="206.38" r="0.55" fill="#d8b0d8"/>
<circle cx="665.57" cy="206.74" r="1.85" fill="#800080"/><circle cx="665.37" cy="206.44" r="0.55" fill="#d8b0d8"/>
<circle cx="667.93" cy="206.78" r="1.85" fill="#800080"/><circle cx="667.73" cy="206.48" r="0.55" fill="#d8b0d8"/>
<circle cx="670.29" cy="206.8" r="1.85" fill="#800080"/><circle cx="670.09" cy="206.5" r="0.55" fill="#d8b0d8"/>
<circle cx="672.65" cy="206.82" r="1.85" fill="#800080"/><circle cx="672.45" cy="206.52" r="0.55" fill="#d8b0d8"/>
<circle cx="675.01" cy="206.84" r="1.85" fill="#800080"/><circle cx="674.81" cy="206.54" r="0.55" fill="#d8b0d8"/>
<circle cx="677.37" cy="206.86" r="1.85" fill="#800080"/><circle cx="677.17" cy="206.56" r="0.55" fill="#d8b0d8"/>
<circle cx="679.73" cy="206.87" r="1.85" fill="#800080"/><circle cx="679.53" cy="206.57" r="0.55" fill="#d8b0d8"/>
<circle cx="682.1" cy="206.88" r="1.85" fill="#800080"/><circle cx="681.9" cy="206.58" r="0.55" fill="#d8b0d8"/>
<circle cx="684.46" cy="206.89" r="1.85" fill="#800080"/><circle cx="684.26" cy="206.59" r="0.55" fill="#d8b0d8"/>
<circle cx="686.82" cy="206.9" r="1.85" fill="#800080"/><circle cx="686.62" cy="206.6" r="0.55" fill="#d8b0d8"/>
<circle cx="689.18" cy="206.9" r="1.85" fill="#800080"/><circle cx="688.98" cy="206.6" r="0.55" fill="#d8b0d8"/>
<polyline points="405.8,206 406.74,205.84 407.69,205.45 408.63,204.84 409.58,203.54 410.52,201.6 411.47,197.93 412.41,192.47 413.36,186.54 414.3,179.53 415.25,172.6 416.19,166.24 417.14,160.27 418.08,155.17 419.02,150.76 419.97,146.6 420.91,142.58 421.86,138.65 422.8,134.5 423.75,130.18 424.69,125.6 425.64,120.5 426.58,115.24 427.53,110.36 428.47,105.59 429.42,101 430.36,96.65 431.3,92.6 432.25,88.67 433.19,85.24 434.14,82.68 435.08,80.53 436.03,78.65 436.97,76.96 437.92,75.38 438.86,73.83 439.81,72.33 440.75,70.94 441.69,69.62 442.64,68.29 443.58,66.9 444.53,65.5 445.47,64.09 446.42,62.7 447.36,61.33 448.31,59.9 449.25,58.37 450.2,56.76 451.14,55.06 452.09,53.17 453.03,51.14 453.97,49.28 454.92,47.67 455.86,46.21 456.81,45.11 457.75,44.29 458.7,43.6 459.64,43.02 460.59,42.52 461.53,42.07 462.48,41.68 463.42,41.33 464.37,41 465.31,40.69 466.25,40.38 467.2,40.09 468.14,39.81 469.09,39.54 470.03,39.28 470.98,39.01 471.92,38.74 472.87,38.45 473.81,38.13 474.76,37.81 475.7,37.47 476.64,37.12 477.59,36.77 478.53,36.41 479.48,36.05 480.42,35.69 481.37,35.33 482.31,34.98 483.26,34.63 484.2,34.3 485.15,33.96 486.09,33.62 487.04,33.27 487.98,32.92 488.92,32.57 489.87,32.22 490.81,31.87 491.76,31.52 492.7,31.18 493.65,30.85 494.59,30.53 495.54,30.22 496.48,29.92 497.43,29.64 498.37,29.38 499.32,29.13 500.26,28.9 501.2,28.7 502.15,28.49 503.09,28.29 504.04,28.08 504.98,27.88 505.93,27.67 506.87,27.47 507.82,27.27 508.76,27.08 509.71,26.89 510.65,26.71 511.6,26.53 512.54,26.35 513.48,26.19 514.43,26.03 515.37,25.88 516.32,25.74 517.26,25.61 518.21,25.49 519.15,25.38 520.1,25.29 521.04,25.2 521.99,25.13 522.93,25.08 523.88,25.03 524.82,25.01 525.76,24.99 526.71,24.98 527.65,24.97 528.6,24.96 529.54,24.95 530.49,24.95 531.43,24.94 532.38,24.93 533.32,24.92 534.27,24.91 535.21,24.9 536.15,24.9 537.1,24.89 538.04,24.88 538.99,24.88 539.93,24.87 540.88,24.86 541.82,24.86 542.77,24.85 543.71,24.85 544.66,24.84 545.6,24.84 546.55,24.83 547.49,24.83 548.43,24.83 549.38,24.82 550.32,24.82 551.27,24.82 552.21,24.81 553.16,24.81 554.1,24.81 555.05,24.81 555.99,24.8 556.94,24.8 557.88,24.8 558.83,24.8 559.77,24.8 560.71,24.8 561.66,24.8 562.6,24.8 563.55,24.82 564.49,24.83 565.44,24.86 566.38,24.89 567.33,24.93 568.27,24.97 569.22,25.01 570.16,25.06 571.11,25.12 572.05,25.17 572.99,25.23 573.94,25.29 574.88,25.35 575.83,25.41 576.77,25.48 577.72,25.54 578.66,25.6 579.61,25.67 580.55,25.74 581.5,25.82 582.44,25.91 583.38,26.01 584.33,26.11 585.27,26.21 586.22,26.32 587.16,26.43 588.11,26.54 589.05,26.65 590,26.77 590.94,26.88 591.89,26.99 592.83,27.1 593.78,27.2 594.72,27.3 595.66,27.39 596.61,27.48 597.55,27.56 598.5,27.64 599.44,27.7 600.39,27.77 601.33,27.83 602.28,27.89 603.22,27.94 604.17,28 605.11,28.05 606.06,28.1 607,28.15 607.94,28.19 608.89,28.23 609.83,28.27 610.78,28.32 611.72,28.37 612.67,28.42 613.61,28.49 614.56,28.56 615.5,28.65 616.45,28.76 617.39,28.91 618.34,29.1 619.28,29.32 620.22,29.63 621.17,30.01 622.11,30.46 623.06,30.95 624,31.47 624.95,32.08 625.89,32.79 626.84,33.6 627.78,34.5 628.73,35.54 629.67,36.83 630.61,38.51 631.56,40.9 632.5,43.96 633.45,47.6 634.39,52.39 635.34,58.58 636.28,65.6 637.23,73.85 638.17,83.87 639.12,95.6 640.06,108.38 641.01,121.68 641.95,133.6 642.89,143.41 643.84,152.25 644.78,161.09 645.73,170.03 646.67,177.6 647.62,183.42 648.56,188.28 649.51,192.39 650.45,196.01 651.4,198.8 652.34,200.81 653.29,202.37 654.23,203.57 655.17,204.56 656.12,205.2 657.06,205.57 658.01,205.88 658.95,206.13 659.9,206.3 660.84,206.4 661.79,206.45 662.73,206.5 663.68,206.54 664.62,206.58 665.57,206.61 666.51,206.64 667.45,206.66 668.4,206.68 669.34,206.69 670.29,206.7 671.23,206.71 672.18,206.72 673.12,206.73 674.07,206.73 675.01,206.74 675.96,206.75 676.9,206.76 677.84,206.76 678.79,206.77 679.73,206.77 680.68,206.78 681.62,206.78 682.57,206.79 683.51,206.79 684.46,206.79 685.4,206.8 686.35,206.8 687.29,206.8 688.24,206.8 689.18,206.8" fill="none" stroke="#1EA4FF" stroke-width="0.8" />
<circle cx="405.8" cy="206" r="1.6" fill="#fff" stroke="#1EA4FF" stroke-width="0.85"/>
<circle cx="408.16" cy="205.2" r="1.6" fill="#fff" stroke="#1EA4FF" stroke-width="0.85"/>
<circle cx="410.52" cy="201.6" r="1.6" fill="#fff" stroke="#1EA4FF" stroke-width="0.85"/>
<circle cx="412.88" cy="189.6" r="1.6" fill="#fff" stroke="#1EA4FF" stroke-width="0.85"/>
<circle cx="415.25" cy="172.6" r="1.6" fill="#fff" stroke="#1EA4FF" stroke-width="0.85"/>
<circle cx="417.61" cy="157.6" r="1.6" fill="#fff" stroke="#1EA4FF" stroke-width="0.85"/>
<circle cx="419.97" cy="146.6" r="1.6" fill="#fff" stroke="#1EA4FF" stroke-width="0.85"/>
<circle cx="422.33" cy="136.6" r="1.6" fill="#fff" stroke="#1EA4FF" stroke-width="0.85"/>
<circle cx="424.69" cy="125.6" r="1.6" fill="#fff" stroke="#1EA4FF" stroke-width="0.85"/>
<circle cx="427.05" cy="112.78" r="1.6" fill="#fff" stroke="#1EA4FF" stroke-width="0.85"/>
<circle cx="429.42" cy="101" r="1.6" fill="#fff" stroke="#1EA4FF" stroke-width="0.85"/>
<circle cx="431.78" cy="90.6" r="1.6" fill="#fff" stroke="#1EA4FF" stroke-width="0.85"/>
<circle cx="434.14" cy="82.68" r="1.6" fill="#fff" stroke="#1EA4FF" stroke-width="0.85"/>
<circle cx="436.5" cy="77.79" r="1.6" fill="#fff" stroke="#1EA4FF" stroke-width="0.85"/>
<circle cx="438.86" cy="73.83" r="1.6" fill="#fff" stroke="#1EA4FF" stroke-width="0.85"/>
<circle cx="441.22" cy="70.28" r="1.6" fill="#fff" stroke="#1EA4FF" stroke-width="0.85"/>
<circle cx="443.58" cy="66.9" r="1.6" fill="#fff" stroke="#1EA4FF" stroke-width="0.85"/>
<circle cx="445.95" cy="63.39" r="1.6" fill="#fff" stroke="#1EA4FF" stroke-width="0.85"/>
<circle cx="448.31" cy="59.9" r="1.6" fill="#fff" stroke="#1EA4FF" stroke-width="0.85"/>
<circle cx="450.67" cy="55.93" r="1.6" fill="#fff" stroke="#1EA4FF" stroke-width="0.85"/>
<circle cx="453.03" cy="51.14" r="1.6" fill="#fff" stroke="#1EA4FF" stroke-width="0.85"/>
<circle cx="455.39" cy="46.91" r="1.6" fill="#fff" stroke="#1EA4FF" stroke-width="0.85"/>
<circle cx="457.75" cy="44.29" r="1.6" fill="#fff" stroke="#1EA4FF" stroke-width="0.85"/>
<circle cx="460.11" cy="42.76" r="1.6" fill="#fff" stroke="#1EA4FF" stroke-width="0.85"/>
<circle cx="462.48" cy="41.68" r="1.6" fill="#fff" stroke="#1EA4FF" stroke-width="0.85"/>
<circle cx="464.84" cy="40.85" r="1.6" fill="#fff" stroke="#1EA4FF" stroke-width="0.85"/>
<circle cx="467.2" cy="40.09" r="1.6" fill="#fff" stroke="#1EA4FF" stroke-width="0.85"/>
<circle cx="469.56" cy="39.41" r="1.6" fill="#fff" stroke="#1EA4FF" stroke-width="0.85"/>
<circle cx="471.92" cy="38.74" r="1.6" fill="#fff" stroke="#1EA4FF" stroke-width="0.85"/>
<circle cx="474.28" cy="37.97" r="1.6" fill="#fff" stroke="#1EA4FF" stroke-width="0.85"/>
<circle cx="476.64" cy="37.12" r="1.6" fill="#fff" stroke="#1EA4FF" stroke-width="0.85"/>
<circle cx="479.01" cy="36.23" r="1.6" fill="#fff" stroke="#1EA4FF" stroke-width="0.85"/>
<circle cx="481.37" cy="35.33" r="1.6" fill="#fff" stroke="#1EA4FF" stroke-width="0.85"/>
<circle cx="483.73" cy="34.47" r="1.6" fill="#fff" stroke="#1EA4FF" stroke-width="0.85"/>
<circle cx="486.09" cy="33.62" r="1.6" fill="#fff" stroke="#1EA4FF" stroke-width="0.85"/>
<circle cx="488.45" cy="32.74" r="1.6" fill="#fff" stroke="#1EA4FF" stroke-width="0.85"/>
<circle cx="490.81" cy="31.87" r="1.6" fill="#fff" stroke="#1EA4FF" stroke-width="0.85"/>
<circle cx="493.18" cy="31.02" r="1.6" fill="#fff" stroke="#1EA4FF" stroke-width="0.85"/>
<circle cx="495.54" cy="30.22" r="1.6" fill="#fff" stroke="#1EA4FF" stroke-width="0.85"/>
<circle cx="497.9" cy="29.51" r="1.6" fill="#fff" stroke="#1EA4FF" stroke-width="0.85"/>
<circle cx="500.26" cy="28.9" r="1.6" fill="#fff" stroke="#1EA4FF" stroke-width="0.85"/>
<circle cx="502.62" cy="28.39" r="1.6" fill="#fff" stroke="#1EA4FF" stroke-width="0.85"/>
<circle cx="504.98" cy="27.88" r="1.6" fill="#fff" stroke="#1EA4FF" stroke-width="0.85"/>
<circle cx="507.34" cy="27.37" r="1.6" fill="#fff" stroke="#1EA4FF" stroke-width="0.85"/>
<circle cx="509.71" cy="26.89" r="1.6" fill="#fff" stroke="#1EA4FF" stroke-width="0.85"/>
<circle cx="512.07" cy="26.44" r="1.6" fill="#fff" stroke="#1EA4FF" stroke-width="0.85"/>
<circle cx="514.43" cy="26.03" r="1.6" fill="#fff" stroke="#1EA4FF" stroke-width="0.85"/>
<circle cx="516.79" cy="25.68" r="1.6" fill="#fff" stroke="#1EA4FF" stroke-width="0.85"/>
<circle cx="519.15" cy="25.38" r="1.6" fill="#fff" stroke="#1EA4FF" stroke-width="0.85"/>
<circle cx="521.51" cy="25.17" r="1.6" fill="#fff" stroke="#1EA4FF" stroke-width="0.85"/>
<circle cx="523.88" cy="25.03" r="1.6" fill="#fff" stroke="#1EA4FF" stroke-width="0.85"/>
<circle cx="526.24" cy="24.99" r="1.6" fill="#fff" stroke="#1EA4FF" stroke-width="0.85"/>
<circle cx="528.6" cy="24.96" r="1.6" fill="#fff" stroke="#1EA4FF" stroke-width="0.85"/>
<circle cx="530.96" cy="24.94" r="1.6" fill="#fff" stroke="#1EA4FF" stroke-width="0.85"/>
<circle cx="533.32" cy="24.92" r="1.6" fill="#fff" stroke="#1EA4FF" stroke-width="0.85"/>
<circle cx="535.68" cy="24.9" r="1.6" fill="#fff" stroke="#1EA4FF" stroke-width="0.85"/>
<circle cx="538.04" cy="24.88" r="1.6" fill="#fff" stroke="#1EA4FF" stroke-width="0.85"/>
<circle cx="540.41" cy="24.87" r="1.6" fill="#fff" stroke="#1EA4FF" stroke-width="0.85"/>
<circle cx="542.77" cy="24.85" r="1.6" fill="#fff" stroke="#1EA4FF" stroke-width="0.85"/>
<circle cx="545.13" cy="24.84" r="1.6" fill="#fff" stroke="#1EA4FF" stroke-width="0.85"/>
<circle cx="547.49" cy="24.83" r="1.6" fill="#fff" stroke="#1EA4FF" stroke-width="0.85"/>
<circle cx="549.85" cy="24.82" r="1.6" fill="#fff" stroke="#1EA4FF" stroke-width="0.85"/>
<circle cx="552.21" cy="24.81" r="1.6" fill="#fff" stroke="#1EA4FF" stroke-width="0.85"/>
<circle cx="554.57" cy="24.81" r="1.6" fill="#fff" stroke="#1EA4FF" stroke-width="0.85"/>
<circle cx="556.94" cy="24.8" r="1.6" fill="#fff" stroke="#1EA4FF" stroke-width="0.85"/>
<circle cx="559.3" cy="24.8" r="1.6" fill="#fff" stroke="#1EA4FF" stroke-width="0.85"/>
<circle cx="561.66" cy="24.8" r="1.6" fill="#fff" stroke="#1EA4FF" stroke-width="0.85"/>
<circle cx="564.02" cy="24.82" r="1.6" fill="#fff" stroke="#1EA4FF" stroke-width="0.85"/>
<circle cx="566.38" cy="24.89" r="1.6" fill="#fff" stroke="#1EA4FF" stroke-width="0.85"/>
<circle cx="568.74" cy="24.99" r="1.6" fill="#fff" stroke="#1EA4FF" stroke-width="0.85"/>
<circle cx="571.11" cy="25.12" r="1.6" fill="#fff" stroke="#1EA4FF" stroke-width="0.85"/>
<circle cx="573.47" cy="25.26" r="1.6" fill="#fff" stroke="#1EA4FF" stroke-width="0.85"/>
<circle cx="575.83" cy="25.41" r="1.6" fill="#fff" stroke="#1EA4FF" stroke-width="0.85"/>
<circle cx="578.19" cy="25.57" r="1.6" fill="#fff" stroke="#1EA4FF" stroke-width="0.85"/>
<circle cx="580.55" cy="25.74" r="1.6" fill="#fff" stroke="#1EA4FF" stroke-width="0.85"/>
<circle cx="582.91" cy="25.96" r="1.6" fill="#fff" stroke="#1EA4FF" stroke-width="0.85"/>
<circle cx="585.27" cy="26.21" r="1.6" fill="#fff" stroke="#1EA4FF" stroke-width="0.85"/>
<circle cx="587.64" cy="26.48" r="1.6" fill="#fff" stroke="#1EA4FF" stroke-width="0.85"/>
<circle cx="590" cy="26.77" r="1.6" fill="#fff" stroke="#1EA4FF" stroke-width="0.85"/>
<circle cx="592.36" cy="27.04" r="1.6" fill="#fff" stroke="#1EA4FF" stroke-width="0.85"/>
<circle cx="594.72" cy="27.3" r="1.6" fill="#fff" stroke="#1EA4FF" stroke-width="0.85"/>
<circle cx="597.08" cy="27.52" r="1.6" fill="#fff" stroke="#1EA4FF" stroke-width="0.85"/>
<circle cx="599.44" cy="27.7" r="1.6" fill="#fff" stroke="#1EA4FF" stroke-width="0.85"/>
<circle cx="601.8" cy="27.86" r="1.6" fill="#fff" stroke="#1EA4FF" stroke-width="0.85"/>
<circle cx="604.17" cy="28" r="1.6" fill="#fff" stroke="#1EA4FF" stroke-width="0.85"/>
<circle cx="606.53" cy="28.12" r="1.6" fill="#fff" stroke="#1EA4FF" stroke-width="0.85"/>
<circle cx="608.89" cy="28.23" r="1.6" fill="#fff" stroke="#1EA4FF" stroke-width="0.85"/>
<circle cx="611.25" cy="28.34" r="1.6" fill="#fff" stroke="#1EA4FF" stroke-width="0.85"/>
<circle cx="613.61" cy="28.49" r="1.6" fill="#fff" stroke="#1EA4FF" stroke-width="0.85"/>
<circle cx="615.97" cy="28.7" r="1.6" fill="#fff" stroke="#1EA4FF" stroke-width="0.85"/>
<circle cx="618.34" cy="29.1" r="1.6" fill="#fff" stroke="#1EA4FF" stroke-width="0.85"/>
<circle cx="620.7" cy="29.81" r="1.6" fill="#fff" stroke="#1EA4FF" stroke-width="0.85"/>
<circle cx="623.06" cy="30.95" r="1.6" fill="#fff" stroke="#1EA4FF" stroke-width="0.85"/>
<circle cx="625.42" cy="32.42" r="1.6" fill="#fff" stroke="#1EA4FF" stroke-width="0.85"/>
<circle cx="627.78" cy="34.5" r="1.6" fill="#fff" stroke="#1EA4FF" stroke-width="0.85"/>
<circle cx="630.14" cy="37.6" r="1.6" fill="#fff" stroke="#1EA4FF" stroke-width="0.85"/>
<circle cx="632.5" cy="43.96" r="1.6" fill="#fff" stroke="#1EA4FF" stroke-width="0.85"/>
<circle cx="634.87" cy="55.35" r="1.6" fill="#fff" stroke="#1EA4FF" stroke-width="0.85"/>
<circle cx="637.23" cy="73.85" r="1.6" fill="#fff" stroke="#1EA4FF" stroke-width="0.85"/>
<circle cx="639.59" cy="101.81" r="1.6" fill="#fff" stroke="#1EA4FF" stroke-width="0.85"/>
<circle cx="641.95" cy="133.6" r="1.6" fill="#fff" stroke="#1EA4FF" stroke-width="0.85"/>
<circle cx="644.31" cy="156.6" r="1.6" fill="#fff" stroke="#1EA4FF" stroke-width="0.85"/>
<circle cx="646.67" cy="177.6" r="1.6" fill="#fff" stroke="#1EA4FF" stroke-width="0.85"/>
<circle cx="649.03" cy="190.4" r="1.6" fill="#fff" stroke="#1EA4FF" stroke-width="0.85"/>
<circle cx="651.4" cy="198.8" r="1.6" fill="#fff" stroke="#1EA4FF" stroke-width="0.85"/>
<circle cx="653.76" cy="203" r="1.6" fill="#fff" stroke="#1EA4FF" stroke-width="0.85"/>
<circle cx="656.12" cy="205.2" r="1.6" fill="#fff" stroke="#1EA4FF" stroke-width="0.85"/>
<circle cx="658.48" cy="206.02" r="1.6" fill="#fff" stroke="#1EA4FF" stroke-width="0.85"/>
<circle cx="660.84" cy="206.4" r="1.6" fill="#fff" stroke="#1EA4FF" stroke-width="0.85"/>
<circle cx="663.2" cy="206.52" r="1.6" fill="#fff" stroke="#1EA4FF" stroke-width="0.85"/>
<circle cx="665.57" cy="206.61" r="1.6" fill="#fff" stroke="#1EA4FF" stroke-width="0.85"/>
<circle cx="667.93" cy="206.67" r="1.6" fill="#fff" stroke="#1EA4FF" stroke-width="0.85"/>
<circle cx="670.29" cy="206.7" r="1.6" fill="#fff" stroke="#1EA4FF" stroke-width="0.85"/>
<circle cx="672.65" cy="206.72" r="1.6" fill="#fff" stroke="#1EA4FF" stroke-width="0.85"/>
<circle cx="675.01" cy="206.74" r="1.6" fill="#fff" stroke="#1EA4FF" stroke-width="0.85"/>
<circle cx="677.37" cy="206.76" r="1.6" fill="#fff" stroke="#1EA4FF" stroke-width="0.85"/>
<circle cx="679.73" cy="206.77" r="1.6" fill="#fff" stroke="#1EA4FF" stroke-width="0.85"/>
<circle cx="682.1" cy="206.78" r="1.6" fill="#fff" stroke="#1EA4FF" stroke-width="0.85"/>
<circle cx="684.46" cy="206.79" r="1.6" fill="#fff" stroke="#1EA4FF" stroke-width="0.85"/>
<circle cx="686.82" cy="206.8" r="1.6" fill="#fff" stroke="#1EA4FF" stroke-width="0.85"/>
<circle cx="689.18" cy="206.8" r="1.6" fill="#fff" stroke="#1EA4FF" stroke-width="0.85"/>
<polyline points="405.8,206 406.74,206 407.69,206 408.63,205.93 409.58,205.45 410.52,204.6 411.47,201.94 412.41,197.17 413.36,191.73 414.3,184.67 415.25,177.6 416.19,171.31 417.14,165.36 418.08,160 419.02,155.15 419.97,150.6 420.91,146.36 421.86,142.29 422.8,138.07 423.75,133.78 424.69,129.2 425.64,123.8 426.58,118.37 427.53,114.09 428.47,110.45 429.42,107.11 430.36,103.79 431.3,100.19 432.25,96 433.19,91.19 434.14,86.53 435.08,81.95 436.03,77.93 436.97,75.3 437.92,73.38 438.86,71.23 439.81,68.39 440.75,65.36 441.69,62.73 442.64,60.64 443.58,58.7 444.53,56.47 445.47,53.43 446.42,51.58 447.36,50.41 448.31,49.2 449.25,47.59 450.2,45.9 451.14,44.36 452.09,42.94 453.03,42.1 453.97,41.57 454.92,41.16 455.86,40.78 456.81,40.35 457.75,39.85 458.7,39.34 459.64,38.9 460.59,38.52 461.53,38.17 462.48,37.84 463.42,37.51 464.37,37.19 465.31,36.84 466.25,36.5 467.2,36.15 468.14,35.8 469.09,35.45 470.03,35.1 470.98,34.76 471.92,34.41 472.87,34.07 473.81,33.72 474.76,33.36 475.7,33 476.64,32.62 477.59,32.22 478.53,31.8 479.48,31.38 480.42,30.97 481.37,30.57 482.31,30.18 483.26,29.83 484.2,29.51 485.15,29.2 486.09,28.9 487.04,28.61 487.98,28.33 488.92,28.05 489.87,27.79 490.81,27.52 491.76,27.27 492.7,27.02 493.65,26.78 494.59,26.55 495.54,26.32 496.48,26.1 497.43,25.89 498.37,25.68 499.32,25.49 500.26,25.29 501.2,25.11 502.15,24.92 503.09,24.73 504.04,24.55 504.98,24.36 505.93,24.17 506.87,23.99 507.82,23.81 508.76,23.64 509.71,23.47 510.65,23.3 511.6,23.15 512.54,23 513.48,22.86 514.43,22.73 515.37,22.61 516.32,22.5 517.26,22.41 518.21,22.32 519.15,22.25 520.1,22.2 521.04,22.15 521.99,22.11 522.93,22.07 523.88,22.02 524.82,21.98 525.76,21.94 526.71,21.9 527.65,21.86 528.6,21.83 529.54,21.79 530.49,21.76 531.43,21.73 532.38,21.69 533.32,21.66 534.27,21.64 535.21,21.61 536.15,21.58 537.1,21.56 538.04,21.54 538.99,21.51 539.93,21.5 540.88,21.48 541.82,21.46 542.77,21.45 543.71,21.44 544.66,21.42 545.6,21.42 546.55,21.41 547.49,21.4 548.43,21.4 549.38,21.4 550.32,21.4 551.27,21.4 552.21,21.4 553.16,21.4 554.1,21.4 555.05,21.4 555.99,21.4 556.94,21.4 557.88,21.4 558.83,21.4 559.77,21.4 560.71,21.4 561.66,21.4 562.6,21.4 563.55,21.4 564.49,21.4 565.44,21.4 566.38,21.4 567.33,21.4 568.27,21.4 569.22,21.4 570.16,21.4 571.11,21.4 572.05,21.4 572.99,21.4 573.94,21.4 574.88,21.41 575.83,21.44 576.77,21.48 577.72,21.54 578.66,21.61 579.61,21.69 580.55,21.78 581.5,21.87 582.44,21.97 583.38,22.08 584.33,22.19 585.27,22.29 586.22,22.4 587.16,22.52 588.11,22.66 589.05,22.82 590,23 590.94,23.18 591.89,23.38 592.83,23.57 593.78,23.75 594.72,23.93 595.66,24.09 596.61,24.23 597.55,24.35 598.5,24.44 599.44,24.53 600.39,24.6 601.33,24.68 602.28,24.75 603.22,24.81 604.17,24.87 605.11,24.93 606.06,24.98 607,25.03 607.94,25.08 608.89,25.13 609.83,25.18 610.78,25.22 611.72,25.26 612.67,25.3 613.61,25.34 614.56,25.37 615.5,25.4 616.45,25.43 617.39,25.47 618.34,25.51 619.28,25.55 620.22,25.6 621.17,25.65 622.11,25.7 623.06,25.76 624,25.83 624.95,25.94 625.89,26.11 626.84,26.53 627.78,27.09 628.73,27.85 629.67,28.91 630.61,30.64 631.56,34.07 632.5,38.33 633.45,42.62 634.39,47.4 635.34,52.9 636.28,59.38 637.23,67.22 638.17,76.99 639.12,89.31 640.06,102.67 641.01,118.11 641.95,132.81 642.89,142.18 643.84,149.11 644.78,156.3 645.73,166.54 646.67,177.35 647.62,183.42 648.56,187.6 649.51,191.39 650.45,195.36 651.4,198.68 652.34,200.77 653.29,202.31 654.23,203.38 655.17,204.21 656.12,204.91 657.06,205.45 658.01,205.8 658.95,206.03 659.9,206.22 660.84,206.39 661.79,206.51 662.73,206.58 663.68,206.61 664.62,206.63 665.57,206.65 666.51,206.66 667.45,206.67 668.4,206.68 669.34,206.69 670.29,206.7 671.23,206.71 672.18,206.72 673.12,206.72 674.07,206.73 675.01,206.74 675.96,206.74 676.9,206.75 677.84,206.76 678.79,206.76 679.73,206.77 680.68,206.77 681.62,206.78 682.57,206.78 683.51,206.79 684.46,206.79 685.4,206.79 686.35,206.8 687.29,206.8 688.24,206.8 689.18,206.8" fill="none" stroke="#F0832A" stroke-width="0.8" />
<rect x="404.2" y="204.4" width="3.2" height="3.2" fill="#fff" stroke="#F0832A" stroke-width="0.85"/>
<rect x="406.56" y="204.4" width="3.2" height="3.2" fill="#fff" stroke="#F0832A" stroke-width="0.85"/>
<rect x="408.92" y="203" width="3.2" height="3.2" fill="#fff" stroke="#F0832A" stroke-width="0.85"/>
<rect x="411.28" y="193" width="3.2" height="3.2" fill="#fff" stroke="#F0832A" stroke-width="0.85"/>
<rect x="413.65" y="176" width="3.2" height="3.2" fill="#fff" stroke="#F0832A" stroke-width="0.85"/>
<rect x="416.01" y="161" width="3.2" height="3.2" fill="#fff" stroke="#F0832A" stroke-width="0.85"/>
<rect x="418.37" y="149" width="3.2" height="3.2" fill="#fff" stroke="#F0832A" stroke-width="0.85"/>
<rect x="420.73" y="138.6" width="3.2" height="3.2" fill="#fff" stroke="#F0832A" stroke-width="0.85"/>
<rect x="423.09" y="127.6" width="3.2" height="3.2" fill="#fff" stroke="#F0832A" stroke-width="0.85"/>
<rect x="425.45" y="114.52" width="3.2" height="3.2" fill="#fff" stroke="#F0832A" stroke-width="0.85"/>
<rect x="427.81" y="105.51" width="3.2" height="3.2" fill="#fff" stroke="#F0832A" stroke-width="0.85"/>
<rect x="430.18" y="96.6" width="3.2" height="3.2" fill="#fff" stroke="#F0832A" stroke-width="0.85"/>
<rect x="432.54" y="84.93" width="3.2" height="3.2" fill="#fff" stroke="#F0832A" stroke-width="0.85"/>
<rect x="434.9" y="74.86" width="3.2" height="3.2" fill="#fff" stroke="#F0832A" stroke-width="0.85"/>
<rect x="437.26" y="69.63" width="3.2" height="3.2" fill="#fff" stroke="#F0832A" stroke-width="0.85"/>
<rect x="439.62" y="62.36" width="3.2" height="3.2" fill="#fff" stroke="#F0832A" stroke-width="0.85"/>
<rect x="441.98" y="57.1" width="3.2" height="3.2" fill="#fff" stroke="#F0832A" stroke-width="0.85"/>
<rect x="444.35" y="50.73" width="3.2" height="3.2" fill="#fff" stroke="#F0832A" stroke-width="0.85"/>
<rect x="446.71" y="47.6" width="3.2" height="3.2" fill="#fff" stroke="#F0832A" stroke-width="0.85"/>
<rect x="449.07" y="43.53" width="3.2" height="3.2" fill="#fff" stroke="#F0832A" stroke-width="0.85"/>
<rect x="451.43" y="40.5" width="3.2" height="3.2" fill="#fff" stroke="#F0832A" stroke-width="0.85"/>
<rect x="453.79" y="39.37" width="3.2" height="3.2" fill="#fff" stroke="#F0832A" stroke-width="0.85"/>
<rect x="456.15" y="38.25" width="3.2" height="3.2" fill="#fff" stroke="#F0832A" stroke-width="0.85"/>
<rect x="458.51" y="37.1" width="3.2" height="3.2" fill="#fff" stroke="#F0832A" stroke-width="0.85"/>
<rect x="460.88" y="36.24" width="3.2" height="3.2" fill="#fff" stroke="#F0832A" stroke-width="0.85"/>
<rect x="463.24" y="35.42" width="3.2" height="3.2" fill="#fff" stroke="#F0832A" stroke-width="0.85"/>
<rect x="465.6" y="34.55" width="3.2" height="3.2" fill="#fff" stroke="#F0832A" stroke-width="0.85"/>
<rect x="467.96" y="33.68" width="3.2" height="3.2" fill="#fff" stroke="#F0832A" stroke-width="0.85"/>
<rect x="470.32" y="32.81" width="3.2" height="3.2" fill="#fff" stroke="#F0832A" stroke-width="0.85"/>
<rect x="472.68" y="31.94" width="3.2" height="3.2" fill="#fff" stroke="#F0832A" stroke-width="0.85"/>
<rect x="475.04" y="31.02" width="3.2" height="3.2" fill="#fff" stroke="#F0832A" stroke-width="0.85"/>
<rect x="477.41" y="29.99" width="3.2" height="3.2" fill="#fff" stroke="#F0832A" stroke-width="0.85"/>
<rect x="479.77" y="28.97" width="3.2" height="3.2" fill="#fff" stroke="#F0832A" stroke-width="0.85"/>
<rect x="482.13" y="28.06" width="3.2" height="3.2" fill="#fff" stroke="#F0832A" stroke-width="0.85"/>
<rect x="484.49" y="27.3" width="3.2" height="3.2" fill="#fff" stroke="#F0832A" stroke-width="0.85"/>
<rect x="486.85" y="26.59" width="3.2" height="3.2" fill="#fff" stroke="#F0832A" stroke-width="0.85"/>
<rect x="489.21" y="25.92" width="3.2" height="3.2" fill="#fff" stroke="#F0832A" stroke-width="0.85"/>
<rect x="491.58" y="25.3" width="3.2" height="3.2" fill="#fff" stroke="#F0832A" stroke-width="0.85"/>
<rect x="493.94" y="24.72" width="3.2" height="3.2" fill="#fff" stroke="#F0832A" stroke-width="0.85"/>
<rect x="496.3" y="24.19" width="3.2" height="3.2" fill="#fff" stroke="#F0832A" stroke-width="0.85"/>
<rect x="498.66" y="23.69" width="3.2" height="3.2" fill="#fff" stroke="#F0832A" stroke-width="0.85"/>
<rect x="501.02" y="23.23" width="3.2" height="3.2" fill="#fff" stroke="#F0832A" stroke-width="0.85"/>
<rect x="503.38" y="22.76" width="3.2" height="3.2" fill="#fff" stroke="#F0832A" stroke-width="0.85"/>
<rect x="505.74" y="22.3" width="3.2" height="3.2" fill="#fff" stroke="#F0832A" stroke-width="0.85"/>
<rect x="508.11" y="21.87" width="3.2" height="3.2" fill="#fff" stroke="#F0832A" stroke-width="0.85"/>
<rect x="510.47" y="21.47" width="3.2" height="3.2" fill="#fff" stroke="#F0832A" stroke-width="0.85"/>
<rect x="512.83" y="21.13" width="3.2" height="3.2" fill="#fff" stroke="#F0832A" stroke-width="0.85"/>
<rect x="515.19" y="20.85" width="3.2" height="3.2" fill="#fff" stroke="#F0832A" stroke-width="0.85"/>
<rect x="517.55" y="20.65" width="3.2" height="3.2" fill="#fff" stroke="#F0832A" stroke-width="0.85"/>
<rect x="519.91" y="20.53" width="3.2" height="3.2" fill="#fff" stroke="#F0832A" stroke-width="0.85"/>
<rect x="522.27" y="20.42" width="3.2" height="3.2" fill="#fff" stroke="#F0832A" stroke-width="0.85"/>
<rect x="524.64" y="20.32" width="3.2" height="3.2" fill="#fff" stroke="#F0832A" stroke-width="0.85"/>
<rect x="527" y="20.23" width="3.2" height="3.2" fill="#fff" stroke="#F0832A" stroke-width="0.85"/>
<rect x="529.36" y="20.14" width="3.2" height="3.2" fill="#fff" stroke="#F0832A" stroke-width="0.85"/>
<rect x="531.72" y="20.06" width="3.2" height="3.2" fill="#fff" stroke="#F0832A" stroke-width="0.85"/>
<rect x="534.08" y="20" width="3.2" height="3.2" fill="#fff" stroke="#F0832A" stroke-width="0.85"/>
<rect x="536.44" y="19.94" width="3.2" height="3.2" fill="#fff" stroke="#F0832A" stroke-width="0.85"/>
<rect x="538.81" y="19.89" width="3.2" height="3.2" fill="#fff" stroke="#F0832A" stroke-width="0.85"/>
<rect x="541.17" y="19.85" width="3.2" height="3.2" fill="#fff" stroke="#F0832A" stroke-width="0.85"/>
<rect x="543.53" y="19.82" width="3.2" height="3.2" fill="#fff" stroke="#F0832A" stroke-width="0.85"/>
<rect x="545.89" y="19.8" width="3.2" height="3.2" fill="#fff" stroke="#F0832A" stroke-width="0.85"/>
<rect x="548.25" y="19.8" width="3.2" height="3.2" fill="#fff" stroke="#F0832A" stroke-width="0.85"/>
<rect x="550.61" y="19.8" width="3.2" height="3.2" fill="#fff" stroke="#F0832A" stroke-width="0.85"/>
<rect x="552.97" y="19.8" width="3.2" height="3.2" fill="#fff" stroke="#F0832A" stroke-width="0.85"/>
<rect x="555.34" y="19.8" width="3.2" height="3.2" fill="#fff" stroke="#F0832A" stroke-width="0.85"/>
<rect x="557.7" y="19.8" width="3.2" height="3.2" fill="#fff" stroke="#F0832A" stroke-width="0.85"/>
<rect x="560.06" y="19.8" width="3.2" height="3.2" fill="#fff" stroke="#F0832A" stroke-width="0.85"/>
<rect x="562.42" y="19.8" width="3.2" height="3.2" fill="#fff" stroke="#F0832A" stroke-width="0.85"/>
<rect x="564.78" y="19.8" width="3.2" height="3.2" fill="#fff" stroke="#F0832A" stroke-width="0.85"/>
<rect x="567.14" y="19.8" width="3.2" height="3.2" fill="#fff" stroke="#F0832A" stroke-width="0.85"/>
<rect x="569.5" y="19.8" width="3.2" height="3.2" fill="#fff" stroke="#F0832A" stroke-width="0.85"/>
<rect x="571.87" y="19.8" width="3.2" height="3.2" fill="#fff" stroke="#F0832A" stroke-width="0.85"/>
<rect x="574.23" y="19.84" width="3.2" height="3.2" fill="#fff" stroke="#F0832A" stroke-width="0.85"/>
<rect x="576.59" y="19.97" width="3.2" height="3.2" fill="#fff" stroke="#F0832A" stroke-width="0.85"/>
<rect x="578.95" y="20.18" width="3.2" height="3.2" fill="#fff" stroke="#F0832A" stroke-width="0.85"/>
<rect x="581.31" y="20.43" width="3.2" height="3.2" fill="#fff" stroke="#F0832A" stroke-width="0.85"/>
<rect x="583.67" y="20.69" width="3.2" height="3.2" fill="#fff" stroke="#F0832A" stroke-width="0.85"/>
<rect x="586.04" y="20.99" width="3.2" height="3.2" fill="#fff" stroke="#F0832A" stroke-width="0.85"/>
<rect x="588.4" y="21.4" width="3.2" height="3.2" fill="#fff" stroke="#F0832A" stroke-width="0.85"/>
<rect x="590.76" y="21.87" width="3.2" height="3.2" fill="#fff" stroke="#F0832A" stroke-width="0.85"/>
<rect x="593.12" y="22.33" width="3.2" height="3.2" fill="#fff" stroke="#F0832A" stroke-width="0.85"/>
<rect x="595.48" y="22.7" width="3.2" height="3.2" fill="#fff" stroke="#F0832A" stroke-width="0.85"/>
<rect x="597.84" y="22.93" width="3.2" height="3.2" fill="#fff" stroke="#F0832A" stroke-width="0.85"/>
<rect x="600.2" y="23.11" width="3.2" height="3.2" fill="#fff" stroke="#F0832A" stroke-width="0.85"/>
<rect x="602.57" y="23.27" width="3.2" height="3.2" fill="#fff" stroke="#F0832A" stroke-width="0.85"/>
<rect x="604.93" y="23.41" width="3.2" height="3.2" fill="#fff" stroke="#F0832A" stroke-width="0.85"/>
<rect x="607.29" y="23.53" width="3.2" height="3.2" fill="#fff" stroke="#F0832A" stroke-width="0.85"/>
<rect x="609.65" y="23.64" width="3.2" height="3.2" fill="#fff" stroke="#F0832A" stroke-width="0.85"/>
<rect x="612.01" y="23.74" width="3.2" height="3.2" fill="#fff" stroke="#F0832A" stroke-width="0.85"/>
<rect x="614.37" y="23.82" width="3.2" height="3.2" fill="#fff" stroke="#F0832A" stroke-width="0.85"/>
<rect x="616.74" y="23.91" width="3.2" height="3.2" fill="#fff" stroke="#F0832A" stroke-width="0.85"/>
<rect x="619.1" y="24.02" width="3.2" height="3.2" fill="#fff" stroke="#F0832A" stroke-width="0.85"/>
<rect x="621.46" y="24.16" width="3.2" height="3.2" fill="#fff" stroke="#F0832A" stroke-width="0.85"/>
<rect x="623.82" y="24.4" width="3.2" height="3.2" fill="#fff" stroke="#F0832A" stroke-width="0.85"/>
<rect x="626.18" y="25.49" width="3.2" height="3.2" fill="#fff" stroke="#F0832A" stroke-width="0.85"/>
<rect x="628.54" y="28" width="3.2" height="3.2" fill="#fff" stroke="#F0832A" stroke-width="0.85"/>
<rect x="630.9" y="36.73" width="3.2" height="3.2" fill="#fff" stroke="#F0832A" stroke-width="0.85"/>
<rect x="633.27" y="48.45" width="3.2" height="3.2" fill="#fff" stroke="#F0832A" stroke-width="0.85"/>
<rect x="635.63" y="65.62" width="3.2" height="3.2" fill="#fff" stroke="#F0832A" stroke-width="0.85"/>
<rect x="637.99" y="94.37" width="3.2" height="3.2" fill="#fff" stroke="#F0832A" stroke-width="0.85"/>
<rect x="640.35" y="131.21" width="3.2" height="3.2" fill="#fff" stroke="#F0832A" stroke-width="0.85"/>
<rect x="642.71" y="150.91" width="3.2" height="3.2" fill="#fff" stroke="#F0832A" stroke-width="0.85"/>
<rect x="645.07" y="175.75" width="3.2" height="3.2" fill="#fff" stroke="#F0832A" stroke-width="0.85"/>
<rect x="647.43" y="187.87" width="3.2" height="3.2" fill="#fff" stroke="#F0832A" stroke-width="0.85"/>
<rect x="649.8" y="197.08" width="3.2" height="3.2" fill="#fff" stroke="#F0832A" stroke-width="0.85"/>
<rect x="652.16" y="201.3" width="3.2" height="3.2" fill="#fff" stroke="#F0832A" stroke-width="0.85"/>
<rect x="654.52" y="203.31" width="3.2" height="3.2" fill="#fff" stroke="#F0832A" stroke-width="0.85"/>
<rect x="656.88" y="204.32" width="3.2" height="3.2" fill="#fff" stroke="#F0832A" stroke-width="0.85"/>
<rect x="659.24" y="204.79" width="3.2" height="3.2" fill="#fff" stroke="#F0832A" stroke-width="0.85"/>
<rect x="661.6" y="205" width="3.2" height="3.2" fill="#fff" stroke="#F0832A" stroke-width="0.85"/>
<rect x="663.97" y="205.05" width="3.2" height="3.2" fill="#fff" stroke="#F0832A" stroke-width="0.85"/>
<rect x="666.33" y="205.08" width="3.2" height="3.2" fill="#fff" stroke="#F0832A" stroke-width="0.85"/>
<rect x="668.69" y="205.1" width="3.2" height="3.2" fill="#fff" stroke="#F0832A" stroke-width="0.85"/>
<rect x="671.05" y="205.12" width="3.2" height="3.2" fill="#fff" stroke="#F0832A" stroke-width="0.85"/>
<rect x="673.41" y="205.14" width="3.2" height="3.2" fill="#fff" stroke="#F0832A" stroke-width="0.85"/>
<rect x="675.77" y="205.15" width="3.2" height="3.2" fill="#fff" stroke="#F0832A" stroke-width="0.85"/>
<rect x="678.13" y="205.17" width="3.2" height="3.2" fill="#fff" stroke="#F0832A" stroke-width="0.85"/>
<rect x="680.5" y="205.18" width="3.2" height="3.2" fill="#fff" stroke="#F0832A" stroke-width="0.85"/>
<rect x="682.86" y="205.19" width="3.2" height="3.2" fill="#fff" stroke="#F0832A" stroke-width="0.85"/>
<rect x="685.22" y="205.2" width="3.2" height="3.2" fill="#fff" stroke="#F0832A" stroke-width="0.85"/>
<rect x="687.58" y="205.2" width="3.2" height="3.2" fill="#fff" stroke="#F0832A" stroke-width="0.85"/>
<ellipse cx="435.4" cy="93.3" rx="12" ry="14.3" fill="none" stroke="#222" stroke-width="1.05" stroke-dasharray="2.4,1.7"/>
<line x1="427.3" y1="86.8" x2="411" y2="86.8" stroke="#111" stroke-width="1.2" />
<path d="M408.3,86.8 L413,84.6 L413,89 Z" fill="#111"/>
<ellipse cx="666.6" cy="26.5" rx="8" ry="14.2" fill="none" stroke="#8B2020" stroke-width="1.05" stroke-dasharray="2.4,1.7"/>
<line x1="665.3" y1="39.2" x2="683" y2="39.2" stroke="#8B2020" stroke-width="1" />
<path d="M686.5,39.2 L681.5,37 L681.5,41.4 Z" fill="#8B2020"/>
<line x1="665.3" y1="37.5" x2="665.3" y2="41" stroke="#8B2020" stroke-width="1" />
<line x1="536.5" y1="176" x2="557.2" y2="176" stroke="#800080" stroke-width="1.4" />
<circle cx="547" cy="176" r="2.22" fill="#800080"/><circle cx="546.8" cy="175.7" r="0.66" fill="#d8b0d8"/>
<text x="559.8" y="179.4" font-size="9.4" text-anchor="start" fill="#1c1c1c" >PTAA/PVSK</text>
<line x1="536.5" y1="187.7" x2="557.2" y2="187.7" stroke="#1EA4FF" stroke-width="1.4" />
<circle cx="547" cy="187.7" r="1.92" fill="#fff" stroke="#1EA4FF" stroke-width="0.85"/>
<text x="559.8" y="191.1" font-size="9.4" text-anchor="start" fill="#1c1c1c" >CAZ-NCS/PVSK</text>
<line x1="536.5" y1="199.4" x2="557.2" y2="199.4" stroke="#F0832A" stroke-width="1.4" />
<rect x="545.08" y="197.48" width="3.84" height="3.84" fill="#fff" stroke="#F0832A" stroke-width="0.85"/>
<text x="559.8" y="202.8" font-size="9.4" text-anchor="start" fill="#1c1c1c" >CAZ-NCS-P/PVSK</text>
<line x1="57.6" y1="444.8" x2="341.4" y2="444.8" stroke="#555" stroke-width="1" />
<line x1="57.6" y1="245.2" x2="341.4" y2="245.2" stroke="#888" stroke-width="1.1" />
<line x1="341.4" y1="245.2" x2="341.4" y2="444.8" stroke="#444" stroke-width="1" />
<line x1="57.6" y1="245.2" x2="57.6" y2="444.8" stroke="#111" stroke-width="1.1" />
<line x1="55.1" y1="444.8" x2="57.6" y2="444.8" stroke="#444" stroke-width="0.8" />
<text x="51.9" y="448.1" font-size="9.5" text-anchor="end" fill="#1c1c1c" >15</text>
<line x1="55.1" y1="345.2" x2="57.6" y2="345.2" stroke="#444" stroke-width="0.8" />
<text x="51.9" y="348.5" font-size="9.5" text-anchor="end" fill="#1c1c1c" >20</text>
<line x1="55.1" y1="245.6" x2="57.6" y2="245.6" stroke="#444" stroke-width="0.8" />
<text x="51.9" y="248.9" font-size="9.5" text-anchor="end" fill="#1c1c1c" >25</text>
<line x1="57.6" y1="444.8" x2="57.6" y2="447.3" stroke="#444" stroke-width="0.8" />
<text x="57.6" y="458" font-size="9.5" text-anchor="middle" fill="#1c1c1c" >0</text>
<line x1="114.36" y1="444.8" x2="114.36" y2="447.3" stroke="#444" stroke-width="0.8" />
<text x="114.36" y="458" font-size="9.5" text-anchor="middle" fill="#1c1c1c" >20</text>
<line x1="171.12" y1="444.8" x2="171.12" y2="447.3" stroke="#444" stroke-width="0.8" />
<text x="171.12" y="458" font-size="9.5" text-anchor="middle" fill="#1c1c1c" >40</text>
<line x1="227.88" y1="444.8" x2="227.88" y2="447.3" stroke="#444" stroke-width="0.8" />
<text x="227.88" y="458" font-size="9.5" text-anchor="middle" fill="#1c1c1c" >60</text>
<line x1="284.64" y1="444.8" x2="284.64" y2="447.3" stroke="#444" stroke-width="0.8" />
<text x="284.64" y="458" font-size="9.5" text-anchor="middle" fill="#1c1c1c" >80</text>
<line x1="341.4" y1="444.8" x2="341.4" y2="447.3" stroke="#444" stroke-width="0.8" />
<text x="341.4" y="458" font-size="9.5" text-anchor="middle" fill="#1c1c1c" >100</text>
<text x="199.8" y="474.3" font-size="10.4" text-anchor="middle" fill="#1c1c1c" >Time (s)</text>
<text transform="translate(37.6,344.7) rotate(-90)" font-size="10.4" text-anchor="middle" fill="#222">PCE (%)</text>
<defs><clipPath id="cclip"><rect x="57.6" y="245" width="283.4" height="200"/></clipPath></defs><g clip-path="url(#cclip)">
<line x1="60.5" y1="289.5" x2="60.5" y2="444.8" stroke="#F0832A" stroke-width="1.2" />
<polyline points="58.4,289.37 58.75,288.56 59.1,287.68 59.45,288.49 59.8,287.55 60.15,287.89 60.5,288.4 60.85,287.79 61.2,288.83 61.55,287.38 61.9,288.29 62.25,288.4 62.6,288.85 62.95,288.5 63.3,288.07 63.65,287.96 64,287.8 64.35,288.4 64.7,287.37 65.05,287.93 65.4,287.54 65.75,287.67 66.1,287.38 66.45,288.64 66.8,287.07 67.15,287.56 67.5,287.53 67.85,287.68 68.2,287.56 68.55,287.53 68.9,287.79 69.25,286.38 69.6,287.18 69.95,286.46 70.3,287.22 70.65,286.41 71,286.52 71.35,286.93 71.7,287.69 72.05,287.2 72.4,287.01 72.75,287.56 73.1,286.24 73.45,285.52 73.8,286.42 74.15,286.49 74.5,287.26 74.85,287.74 75.2,285.76 75.55,287.82 75.9,287.32 76.25,286.89 76.6,286.56 76.95,287.65 77.3,286.33 77.65,286 78,286.33 78.35,285.45 78.7,286.42 79.05,286.1 79.4,286.3 79.75,286.28 80.1,285.46 80.45,286.74 80.8,285.43 81.15,286.43 81.5,285.03 81.85,286.06 82.2,285.39 82.55,285.82 82.9,285.4 83.25,284.53 83.6,285.08 83.95,285.73 84.3,286 84.65,284.79 85,284.35 85.35,284.9 85.7,285.12 86.05,284.69 86.4,284.41 86.75,285.17 87.1,285.03 87.45,284.75 87.8,283.63 88.15,284 88.5,283.72 88.85,282.87 89.2,284.12 89.55,283.71 89.9,283.41 90.25,284.43 90.6,284.11 90.95,284.22 91.3,284.43 91.65,284.18 92,283.13 92.35,283.68 92.7,284.49 93.05,283.57 93.4,284.05 93.75,284.28 94.1,284.87 94.45,284.82 94.8,284.62 95.15,284.06 95.5,284.72 95.85,284.55 96.2,284.18 96.55,285.03 96.9,284.61 97.25,283.94 97.6,285.1 97.95,284.28 98.3,284.77 98.65,283.64 99,284.55 99.35,284.07 99.7,284.07 100.05,283.59 100.4,285.81 100.75,284.53 101.1,284.76 101.45,285.24 101.8,284.57 102.15,284.91 102.5,283.86 102.85,284.68 103.2,284.32 103.55,284.81 103.9,284.62 104.25,283.78 104.6,283.54 104.95,283.99 105.3,284.96 105.65,284.78 106,284.75 106.35,283.38 106.7,282.99 107.05,284.1 107.4,284.25 107.75,284.11 108.1,284.64 108.45,284.33 108.8,283.8 109.15,283.95 109.5,284.5 109.85,284.44 110.2,284.35 110.55,285.66 110.9,284.26 111.25,284.44 111.6,283.79 111.95,284.14 112.3,284.63 112.65,284.65 113,284.22 113.35,284.48 113.7,284.29 114.05,283.17 114.4,282.42 114.75,285.49 115.1,284.65 115.45,284.15 115.8,283.23 116.15,283.49 116.5,284.93 116.85,282.69 117.2,284.04 117.55,284.71 117.9,284.31 118.25,284.66 118.6,284.14 118.95,285.53 119.3,283.63 119.65,283.43 120,284.33 120.35,284.99 120.7,284.19 121.05,284.79 121.4,283.93 121.75,283.56 122.1,284.97 122.45,285.08 122.8,285.01 123.15,283.93 123.5,283.53 123.85,283.51 124.2,284.02 124.55,284.43 124.9,284.38 125.25,283.34 125.6,284.27 125.95,284.15 126.3,284.2 126.65,284.15 127,284.02 127.35,284.48 127.7,284.2 128.05,284.27 128.4,283.76 128.75,284.36 129.1,284.08 129.45,282.95 129.8,284.36 130.15,283.94 130.5,284.58 130.85,283.98 131.2,284.04 131.55,284.19 131.9,284.08 132.25,283.84 132.6,283.12 132.95,285.12 133.3,283.24 133.65,283.94 134,284.51 134.35,284.35 134.7,284.42 135.05,284.55 135.4,284.83 135.75,284.3 136.1,285.73 136.45,283.59 136.8,284.29 137.15,283.97 137.5,283.88 137.85,284.33 138.2,285.01 138.55,283.84 138.9,283.83 139.25,284.62 139.6,284.48 139.95,285.23 140.3,284.69 140.65,284.26 141,283.98 141.35,284.28 141.7,284.06 142.05,283.41 142.4,284.16 142.75,284.06 143.1,284.05 143.45,283.96 143.8,285.14 144.15,284.57 144.5,284.7 144.85,283.85 145.2,283.6 145.55,284.01 145.9,284.29 146.25,283.94 146.6,284.02 146.95,284.62 147.3,284.27 147.65,283.52 148,283.81 148.35,283.67 148.7,284.11 149.05,283.35 149.4,283.87 149.75,284.34 150.1,283.97 150.45,283.43 150.8,283.66 151.15,284.04 151.5,284.24 151.85,284.44 152.2,283.89 152.55,283.21 152.9,284.71 153.25,284.09 153.6,284.15 153.95,284.14 154.3,283.4 154.65,283.79 155,284.14 155.35,284.55 155.7,284 156.05,282.24 156.4,283.82 156.75,284.14 157.1,284.66 157.45,284.32 157.8,285.29 158.15,284.75 158.5,284.74 158.85,284.45 159.2,283.16 159.55,284.38 159.9,284.24 160.25,283.62 160.6,284.26 160.95,284.19 161.3,283.71 161.65,283.92 162,283.82 162.35,284.1 162.7,283.78 163.05,284.32 163.4,282.96 163.75,283.88 164.1,283.12 164.45,283.77 164.8,284.26 165.15,283.99 165.5,283.9 165.85,283.96 166.2,284.79 166.55,283.36 166.9,284.46 167.25,283.15 167.6,283.73 167.95,284.05 168.3,283.47 168.65,284.04 169,284.29 169.35,283.26 169.7,283.92 170.05,283.77 170.4,282.89 170.75,283.81 171.1,283.47 171.45,284.66 171.8,283.45 172.15,284.82 172.5,283.57 172.85,284.95 173.2,284.19 173.55,284.14 173.9,284.33 174.25,284.39 174.6,284.63 174.95,284.8 175.3,283.64 175.65,283.15 176,282.37 176.35,283.61 176.7,284.21 177.05,284.02 177.4,283.88 177.75,283.61 178.1,283.45 178.45,283.64 178.8,284.01 179.15,282.83 179.5,284.21 179.85,283.06 180.2,283.74 180.55,283.45 180.9,283.6 181.25,283.23 181.6,283.13 181.95,283.63 182.3,283.19 182.65,285.14 183,283.54 183.35,283.39 183.7,283.44 184.05,283.14 184.4,282.39 184.75,283.64 185.1,283.93 185.45,282.94 185.8,283.75 186.15,283.06 186.5,283.7 186.85,283.94 187.2,284.01 187.55,283.98 187.9,283.34 188.25,284.22 188.6,283.51 188.95,283.96 189.3,284.16 189.65,283.59 190,283.03 190.35,284.08 190.7,283.15 191.05,283.24 191.4,283.1 191.75,284.15 192.1,283.57 192.45,282.43 192.8,284.06 193.15,284.78 193.5,284.62 193.85,283.31 194.2,283.65 194.55,283.91 194.9,284.15 195.25,283.63 195.6,283.07 195.95,284.06 196.3,283.98 196.65,282.9 197,283.42 197.35,283.78 197.7,283.61 198.05,283.88 198.4,284.01 198.75,283.84 199.1,283.49 199.45,282.81 199.8,283.86 200.15,284.3 200.5,284.61 200.85,283.52 201.2,283.53 201.55,284.33 201.9,284.32 202.25,283.7 202.6,283.88 202.95,283.04 203.3,283.79 203.65,283.03 204,283.42 204.35,283.43 204.7,283.23 205.05,282.29 205.4,283.01 205.75,283.63 206.1,283.47 206.45,283.29 206.8,283.76 207.15,283.92 207.5,283.96 207.85,283.06 208.2,283.56 208.55,283.34 208.9,283.01 209.25,282.7 209.6,283.42 209.95,283.01 210.3,284.7 210.65,283.47 211,283.41 211.35,283.31 211.7,284.52 212.05,282.98 212.4,283.43 212.75,283.09 213.1,283.47 213.45,283.49 213.8,284.11 214.15,282.72 214.5,283.47 214.85,284.36 215.2,283.15 215.55,283.35 215.9,282.95 216.25,282 216.6,283.37 216.95,284.07 217.3,283.17 217.65,282.38 218,283.53 218.35,283.41 218.7,283.92 219.05,283.91 219.4,283.25 219.75,283.64 220.1,282.37 220.45,283.94 220.8,283.42 221.15,283.92 221.5,283.94 221.85,283.17 222.2,283.23 222.55,282.85 222.9,282.19 223.25,283.25 223.6,283.42 223.95,282.72 224.3,283.69 224.65,283.35 225,283.55 225.35,282.85 225.7,282.34 226.05,283.72 226.4,283.61 226.75,283.21 227.1,283.03 227.45,283.13 227.8,283.25 228.15,283.06 228.5,282.22 228.85,283.73 229.2,282.49 229.55,283.09 229.9,283.13 230.25,283.44 230.6,282.41 230.95,283.97 231.3,283.63 231.65,283.68 232,283.94 232.35,282.83 232.7,281.53 233.05,283.43 233.4,283.99 233.75,283.88 234.1,282.95 234.45,283.2 234.8,283.4 235.15,282.23 235.5,282.87 235.85,282.91 236.2,284.13 236.55,282.89 236.9,284.1 237.25,283.24 237.6,282.31 237.95,284.45 238.3,282.71 238.65,283.58 239,284.15 239.35,282.93 239.7,282.54 240.05,283.8 240.4,283.26 240.75,282.58 241.1,282.62 241.45,282.97 241.8,283.7 242.15,282.98 242.5,283.49 242.85,284.03 243.2,283.81 243.55,283.91 243.9,283.76 244.25,282.2 244.6,283.78 244.95,283.27 245.3,283.05 245.65,282.54 246,282.26 246.35,282.5 246.7,283.08 247.05,282.45 247.4,282.61 247.75,282.75 248.1,283.47 248.45,282.91 248.8,283.02 249.15,283.85 249.5,282.92 249.85,283.42 250.2,282.46 250.55,283.22 250.9,283.08 251.25,283.1 251.6,282.72 251.95,282.37 252.3,282.75 252.65,282.69 253,283.52 253.35,283.46 253.7,282.28 254.05,283.28 254.4,282.67 254.75,283.2 255.1,282.68 255.45,282.16 255.8,283.52 256.15,283.2 256.5,282.32 256.85,282 257.2,282.74 257.55,282.41 257.9,282.87 258.25,283.4 258.6,283.87 258.95,282.86 259.3,283.8 259.65,283.7 260,282.85 260.35,282.19 260.7,283.57 261.05,283.4 261.4,284.39 261.75,283.84 262.1,283.48 262.45,283.99 262.8,282.47 263.15,283.11 263.5,282.89 263.85,283.96 264.2,283.34 264.55,281.34 264.9,283.82 265.25,282.53 265.6,283.49 265.95,282.83 266.3,283.23 266.65,283.42 267,283.17 267.35,282.53 267.7,283.82 268.05,283.28 268.4,283.04 268.75,283.4 269.1,282.73 269.45,284.06 269.8,283.17 270.15,283.26 270.5,283.23 270.85,282.53 271.2,282.37 271.55,283.08 271.9,283.13 272.25,283.68 272.6,283.2 272.95,282.35 273.3,283.25 273.65,283.39 274,283.43 274.35,283.01 274.7,282.19 275.05,283.53 275.4,282.45 275.75,283.19 276.1,281.99 276.45,283.3 276.8,282.47 277.15,283.51 277.5,283.84 277.85,283.54 278.2,282.23 278.55,282.37 278.9,282.37 279.25,283.25 279.6,283.07 279.95,282.97 280.3,283.03 280.65,283.17 281,283.19 281.35,283.75 281.7,282.78 282.05,282.93 282.4,281.78 282.75,282.1 283.1,282.44 283.45,282.15 283.8,282.91 284.15,283.39 284.5,282.57 284.85,282.5 285.2,282.52 285.55,282.88 285.9,282.52 286.25,283.08 286.6,282.98 286.95,283 287.3,283.21 287.65,282.81 288,282.92 288.35,283.85 288.7,282.84 289.05,283.3 289.4,282.94 289.75,282.65 290.1,282.67 290.45,282.48 290.8,282.91 291.15,282.57 291.5,282.69 291.85,283.57 292.2,282.83 292.55,283.52 292.9,283.05 293.25,283.36 293.6,282.53 293.95,282.95 294.3,284.34 294.65,283.33 295,283.45 295.35,283.06 295.7,283.4 296.05,282.3 296.4,282.5 296.75,283.18 297.1,283.37 297.45,282.72 297.8,282.83 298.15,282.72 298.5,282.82 298.85,282.29 299.2,282.18 299.55,282.92 299.9,282.03 300.25,282.42 300.6,282.58 300.95,282.36 301.3,283.09 301.65,282.72 302,282.88 302.35,282.35 302.7,282.5 303.05,283.18 303.4,283.06 303.75,282.57 304.1,283.04 304.45,282.89 304.8,282.87 305.15,283.66 305.5,282.54 305.85,283.01 306.2,283.02 306.55,282.65 306.9,282.12 307.25,283.14 307.6,282.92 307.95,282.82 308.3,282.78 308.65,282.79 309,282.28 309.35,282.91 309.7,281.73 310.05,282.71 310.4,281.86 310.75,282.48 311.1,283.11 311.45,282.57 311.8,282.43 312.15,282.95 312.5,282.49 312.85,282.4 313.2,282.4 313.55,283.45 313.9,282.98 314.25,282.85 314.6,281.93 314.95,282.93 315.3,281.85 315.65,282.82 316,281.95 316.35,283.62 316.7,281.59 317.05,283.17 317.4,282.93 317.75,281.51 318.1,282.34 318.45,283.27 318.8,283.08 319.15,281.58 319.5,282.2 319.85,281.81 320.2,281.9 320.55,282.14 320.9,283.5 321.25,282.54 321.6,282.31 321.95,282.26 322.3,282.8 322.65,282.81 323,281.92 323.35,283.25 323.7,281.85 324.05,282.26 324.4,282.65 324.75,283.38 325.1,282.25 325.45,282.61 325.8,283.16 326.15,282.81 326.5,283.07 326.85,283.02 327.2,282.55 327.55,282.75 327.9,282.87 328.25,282.36 328.6,283.27 328.95,281.3 329.3,281.89 329.65,283.16 330,282.62 330.35,282.05 330.7,282.65 331.05,283.04 331.4,282.11 331.75,282.85 332.1,282.39 332.45,282.41 332.8,282.45 333.15,283.08 333.5,281.87 333.85,282.3 334.2,282.84 334.55,281.79 334.9,281.61 335.25,282.8 335.6,282.48 335.95,282.38 336.3,282.56 336.65,281.97 337,284.11 337.35,281.95 337.7,282.31 338.05,281.78 338.4,282.36 338.75,283.43 339.1,282.57 339.45,282.87 339.8,282.29 340.15,283.57 340.5,282.7 340.85,281.92 341.2,283.05" fill="none" stroke="#F0832A" stroke-width="3.7" stroke-linejoin="round"/>
<polyline points="58.4,316.71 58.75,316.94 59.1,317.26 59.45,316.91 59.8,316.4 60.15,316.56 60.5,316.63 60.85,315.63 61.2,316.54 61.55,316.36 61.9,315.19 62.25,315.4 62.6,317.29 62.95,316.37 63.3,317 63.65,316.05 64,317.06 64.35,316.5 64.7,315.78 65.05,316.29 65.4,316.98 65.75,317.39 66.1,316.23 66.45,315.34 66.8,314.71 67.15,315.16 67.5,315 67.85,314.1 68.2,313.8 68.55,314.25 68.9,314.03 69.25,313.93 69.6,312.85 69.95,313.49 70.3,314.71 70.65,313.65 71,314.97 71.35,313.82 71.7,313.42 72.05,313.68 72.4,313.8 72.75,313.05 73.1,313.56 73.45,313.17 73.8,314.18 74.15,313.1 74.5,313.35 74.85,312.42 75.2,312.5 75.55,313.18 75.9,312.67 76.25,313 76.6,313.25 76.95,313.38 77.3,312.28 77.65,312.91 78,313.3 78.35,312.53 78.7,312.14 79.05,312.42 79.4,313.62 79.75,312.67 80.1,313.48 80.45,312.42 80.8,313.21 81.15,311.75 81.5,312.39 81.85,312.54 82.2,313.43 82.55,312.72 82.9,313.07 83.25,312.21 83.6,312.21 83.95,313.1 84.3,313.16 84.65,312.97 85,312.95 85.35,311.98 85.7,313.46 86.05,312.37 86.4,312.93 86.75,312.63 87.1,311.23 87.45,311.08 87.8,311.21 88.15,312.04 88.5,312.68 88.85,311.96 89.2,312.52 89.55,311.34 89.9,311.67 90.25,311.45 90.6,311.94 90.95,311.29 91.3,311.84 91.65,312.18 92,311.58 92.35,311.31 92.7,311.54 93.05,311.11 93.4,311.19 93.75,312.22 94.1,311.96 94.45,310.94 94.8,311.58 95.15,311.93 95.5,312.09 95.85,311.97 96.2,312.12 96.55,311.52 96.9,311.52 97.25,311.38 97.6,312.07 97.95,311.92 98.3,312.42 98.65,312.06 99,310.94 99.35,310.54 99.7,310.56 100.05,310.79 100.4,311.62 100.75,310.47 101.1,310.07 101.45,311.07 101.8,311.61 102.15,311.57 102.5,312.04 102.85,311.02 103.2,310.71 103.55,310.84 103.9,310.27 104.25,310.65 104.6,311.73 104.95,312.14 105.3,311.68 105.65,311.12 106,310.82 106.35,311.04 106.7,309.8 107.05,311.11 107.4,311.23 107.75,310.68 108.1,310.71 108.45,309.74 108.8,311.1 109.15,311.11 109.5,309.15 109.85,310.33 110.2,310.82 110.55,311.57 110.9,310.16 111.25,310.57 111.6,311.39 111.95,310.84 112.3,310.43 112.65,310.3 113,310.58 113.35,310.1 113.7,311.1 114.05,310.07 114.4,310.84 114.75,311.02 115.1,311.16 115.45,310.6 115.8,310.53 116.15,310.7 116.5,310.56 116.85,311.14 117.2,310.49 117.55,311.59 117.9,312.04 118.25,310.13 118.6,310.69 118.95,309.8 119.3,310.83 119.65,310.66 120,310.32 120.35,309.87 120.7,310.48 121.05,311.6 121.4,311.34 121.75,310.68 122.1,310.18 122.45,310.5 122.8,310.04 123.15,309.72 123.5,309.92 123.85,310.77 124.2,310.62 124.55,310.52 124.9,309.79 125.25,309.64 125.6,310.94 125.95,310.17 126.3,311.03 126.65,309.96 127,310.9 127.35,310.49 127.7,310.09 128.05,310.1 128.4,311.36 128.75,310.83 129.1,310.18 129.45,310.38 129.8,309.41 130.15,311.2 130.5,311.01 130.85,310.01 131.2,310.49 131.55,308.72 131.9,310.75 132.25,310.46 132.6,310.32 132.95,310.64 133.3,310.37 133.65,309.65 134,309.8 134.35,310.09 134.7,310.71 135.05,310.19 135.4,309.8 135.75,310.33 136.1,309.44 136.45,311.27 136.8,310.3 137.15,309.6 137.5,310.2 137.85,310.72 138.2,310.41 138.55,311.25 138.9,309.33 139.25,310.95 139.6,310.07 139.95,310.54 140.3,310.96 140.65,309.31 141,309.23 141.35,309.79 141.7,309.07 142.05,308.85 142.4,310.04 142.75,310.66 143.1,309.76 143.45,310.31 143.8,312.09 144.15,310.24 144.5,309.89 144.85,309.93 145.2,310.26 145.55,309.85 145.9,310.43 146.25,310.16 146.6,310.55 146.95,310.11 147.3,309.93 147.65,309.45 148,309.17 148.35,309.76 148.7,309.69 149.05,310.09 149.4,309.88 149.75,309.72 150.1,311.14 150.45,310.05 150.8,310.54 151.15,309.3 151.5,310.46 151.85,310.53 152.2,310.1 152.55,309.36 152.9,310.56 153.25,309.5 153.6,309.04 153.95,309.01 154.3,309.93 154.65,309.63 155,310.28 155.35,310.18 155.7,310.59 156.05,310.03 156.4,309.91 156.75,309.83 157.1,309.37 157.45,309.34 157.8,309.39 158.15,309.92 158.5,309.34 158.85,309.74 159.2,310.36 159.55,308.43 159.9,309.26 160.25,309.21 160.6,309.74 160.95,308.93 161.3,309.41 161.65,311.03 162,308.99 162.35,309.68 162.7,309.79 163.05,309.49 163.4,308.98 163.75,310.18 164.1,308.57 164.45,309.09 164.8,309.49 165.15,309.28 165.5,310.25 165.85,309.41 166.2,310.64 166.55,309.54 166.9,310.38 167.25,309.72 167.6,309.35 167.95,309.34 168.3,310.05 168.65,309.19 169,309.49 169.35,309.11 169.7,308.4 170.05,309.82 170.4,309.88 170.75,308.81 171.1,309.76 171.45,309.35 171.8,308.4 172.15,308.89 172.5,309.76 172.85,309.98 173.2,309.63 173.55,310.96 173.9,309.59 174.25,308.98 174.6,308.59 174.95,310.23 175.3,309.14 175.65,309.2 176,308.97 176.35,308.98 176.7,309.24 177.05,309.7 177.4,309.74 177.75,309.63 178.1,309.96 178.45,309.16 178.8,308.84 179.15,309.36 179.5,308.27 179.85,309.89 180.2,309.69 180.55,309.69 180.9,308.8 181.25,309.11 181.6,309.36 181.95,308.77 182.3,308.78 182.65,309.26 183,309.44 183.35,308.96 183.7,309.93 184.05,310.57 184.4,309.64 184.75,309.26 185.1,309.17 185.45,310.24 185.8,309.58 186.15,309.79 186.5,309.58 186.85,309.13 187.2,310.26 187.55,309.27 187.9,309.48 188.25,308.17 188.6,310.57 188.95,309.76 189.3,309.27 189.65,308.86 190,308.95 190.35,308.35 190.7,309.56 191.05,308.82 191.4,309.54 191.75,309.56 192.1,310.39 192.45,309.45 192.8,309.48 193.15,309.58 193.5,308.92 193.85,309.12 194.2,309.45 194.55,309.91 194.9,309.69 195.25,309.14 195.6,309.98 195.95,309.1 196.3,308.44 196.65,310.14 197,309.32 197.35,309.05 197.7,308.59 198.05,309 198.4,310.2 198.75,309.23 199.1,310.46 199.45,309.24 199.8,309.81 200.15,309.19 200.5,308.9 200.85,308.9 201.2,308.98 201.55,308.45 201.9,308.41 202.25,309.3 202.6,309.76 202.95,309.18 203.3,309.13 203.65,308.62 204,309.73 204.35,309.64 204.7,308.44 205.05,309.12 205.4,308.91 205.75,308.26 206.1,309.96 206.45,309.74 206.8,309.25 207.15,309.85 207.5,308.81 207.85,309.24 208.2,309.81 208.55,308.92 208.9,309.25 209.25,308.54 209.6,309.43 209.95,309.69 210.3,308.51 210.65,308.61 211,308.99 211.35,309.81 211.7,308.79 212.05,308.63 212.4,308.99 212.75,309.67 213.1,308.21 213.45,308.94 213.8,309.78 214.15,309.05 214.5,308.91 214.85,309.56 215.2,308.41 215.55,310.22 215.9,309.4 216.25,308.95 216.6,309.21 216.95,309.12 217.3,308.95 217.65,308.43 218,308.97 218.35,308.2 218.7,309.89 219.05,308.5 219.4,308.7 219.75,308.65 220.1,309.51 220.45,309 220.8,309.91 221.15,308.89 221.5,309.2 221.85,309.11 222.2,308.96 222.55,309.78 222.9,309.83 223.25,309.88 223.6,308.4 223.95,309.35 224.3,308.54 224.65,308.53 225,308.16 225.35,308.65 225.7,309.47 226.05,309.89 226.4,310.05 226.75,308.62 227.1,308.8 227.45,309.28 227.8,309.23 228.15,309.27 228.5,308.18 228.85,309.06 229.2,309.49 229.55,309.31 229.9,309.09 230.25,308.75 230.6,309.08 230.95,310.03 231.3,309.44 231.65,309.72 232,310.05 232.35,308.52 232.7,309.47 233.05,309.34 233.4,309.84 233.75,308.97 234.1,308.94 234.45,308.66 234.8,309.11 235.15,308.87 235.5,308.96 235.85,309.26 236.2,308.89 236.55,308.56 236.9,308.85 237.25,308.78 237.6,309.32 237.95,309.78 238.3,308.9 238.65,307.72 239,309.41 239.35,309.04 239.7,308.56 240.05,308.91 240.4,310.12 240.75,308.26 241.1,308.43 241.45,309.04 241.8,307.33 242.15,308.75 242.5,309.55 242.85,309.3 243.2,309.21 243.55,308.81 243.9,308.88 244.25,310.48 244.6,309.11 244.95,309.68 245.3,308.26 245.65,309.08 246,309.17 246.35,309.04 246.7,307.76 247.05,308.74 247.4,309.73 247.75,309.25 248.1,308.53 248.45,309.46 248.8,307.94 249.15,309.27 249.5,309.09 249.85,308.51 250.2,308.26 250.55,307.87 250.9,308.65 251.25,309.69 251.6,309.2 251.95,308.95 252.3,309.23 252.65,308.39 253,308.98 253.35,307.1 253.7,308.42 254.05,308.44 254.4,308.62 254.75,308.56 255.1,308.97 255.45,308.28 255.8,309.15 256.15,308.53 256.5,309.15 256.85,308.72 257.2,309.14 257.55,308.93 257.9,308.33 258.25,308.76 258.6,307.94 258.95,308.69 259.3,308.87 259.65,308.55 260,308.56 260.35,309.21 260.7,309.36 261.05,309.48 261.4,308.39 261.75,308.46 262.1,309.15 262.45,309.2 262.8,307.71 263.15,309.77 263.5,309.34 263.85,308.03 264.2,309.33 264.55,308.47 264.9,308.66 265.25,308.19 265.6,308.26 265.95,308.45 266.3,308.74 266.65,308.1 267,308.66 267.35,308.29 267.7,308.4 268.05,308.21 268.4,308.38 268.75,309.6 269.1,307.79 269.45,308.01 269.8,308.72 270.15,308.48 270.5,308.18 270.85,308.98 271.2,308.09 271.55,308.75 271.9,309.27 272.25,309.03 272.6,308.56 272.95,308.7 273.3,308.81 273.65,309.03 274,308.2 274.35,309.41 274.7,309.1 275.05,309.7 275.4,309.14 275.75,309.26 276.1,307.05 276.45,308.44 276.8,309.7 277.15,308.93 277.5,308.44 277.85,309.06 278.2,308.74 278.55,308.9 278.9,308.25 279.25,308.93 279.6,309.51 279.95,308.87 280.3,308.98 280.65,308.3 281,308.94 281.35,308.44 281.7,307.91 282.05,308.42 282.4,308.52 282.75,308.93 283.1,309.15 283.45,308.48 283.8,308.36 284.15,308.91 284.5,308.03 284.85,308.35 285.2,308.4 285.55,308.42 285.9,308.2 286.25,309.43 286.6,309.08 286.95,308.5 287.3,307.77 287.65,308.28 288,308.9 288.35,307.49 288.7,309.95 289.05,308.56 289.4,308.54 289.75,308.88 290.1,307.75 290.45,308.58 290.8,308.56 291.15,308.93 291.5,308.02 291.85,308.95 292.2,309.3 292.55,308.81 292.9,308.37 293.25,308.22 293.6,307.69 293.95,308.31 294.3,308.89 294.65,309.45 295,309.23 295.35,309.32 295.7,308.4 296.05,308.42 296.4,307.81 296.75,308.32 297.1,308.07 297.45,308.55 297.8,309.08 298.15,308.65 298.5,308.54 298.85,309.1 299.2,309.56 299.55,309.31 299.9,307.78 300.25,309.68 300.6,308.44 300.95,307.86 301.3,308.44 301.65,309.18 302,307.18 302.35,309.35 302.7,308.72 303.05,308.91 303.4,307.86 303.75,308.36 304.1,308.03 304.45,309.31 304.8,308.2 305.15,308.81 305.5,308.22 305.85,307.65 306.2,309.01 306.55,309.16 306.9,309.33 307.25,308.17 307.6,308.49 307.95,308.86 308.3,308.7 308.65,308.64 309,309.77 309.35,308.23 309.7,308.95 310.05,308.15 310.4,309.24 310.75,308.3 311.1,307.87 311.45,308.83 311.8,308.4 312.15,308.16 312.5,308.22 312.85,308 313.2,308.63 313.55,308.54 313.9,309.25 314.25,307.95 314.6,309.15 314.95,308.67 315.3,307.58 315.65,309.18 316,307.32 316.35,308.57 316.7,307.26 317.05,308.44 317.4,308.07 317.75,308.09 318.1,307.18 318.45,307.77 318.8,308.85 319.15,308.57 319.5,308.17 319.85,308.12 320.2,307.84 320.55,309.03 320.9,308.23 321.25,308.87 321.6,307.45 321.95,307.42 322.3,308.98 322.65,307.73 323,308.12 323.35,308.5 323.7,308.75 324.05,308.62 324.4,308.54 324.75,309.14 325.1,308.39 325.45,308.75 325.8,308.26 326.15,308.31 326.5,309.29 326.85,308.07 327.2,306.84 327.55,308.28 327.9,308.33 328.25,309.25 328.6,307.99 328.95,307.58 329.3,308.3 329.65,309.25 330,308.04 330.35,308.95 330.7,308.53 331.05,308.58 331.4,307.75 331.75,308.24 332.1,307.75 332.45,308.22 332.8,307.83 333.15,308.8 333.5,307.9 333.85,308.06 334.2,306.91 334.55,307.58 334.9,309.49 335.25,307.89 335.6,307.2 335.95,308.07 336.3,307.94 336.65,307.78 337,307.89 337.35,307.79 337.7,308.58 338.05,307.38 338.4,308.17 338.75,308.5 339.1,307.54 339.45,309.25 339.8,308.04 340.15,307.96 340.5,307.7 340.85,308.46 341.2,307.11" fill="none" stroke="#1EA4FF" stroke-width="3.7" stroke-linejoin="round"/>
<polyline points="58.4,323.53 58.75,323.85 59.1,324.08 59.45,322.96 59.8,323.94 60.15,323.22 60.5,323.39 60.85,322.97 61.2,323.64 61.55,322.79 61.9,323.3 62.25,323.3 62.6,323.48 62.95,322.45 63.3,323.4 63.65,322.95 64,323.7 64.35,322.68 64.7,322.56 65.05,322.77 65.4,322.58 65.75,322.58 66.1,321.9 66.45,321.26 66.8,321.41 67.15,321.74 67.5,322.14 67.85,321.59 68.2,321.1 68.55,321.52 68.9,321.6 69.25,323.02 69.6,322.17 69.95,321.58 70.3,320.66 70.65,321.33 71,321.23 71.35,321.67 71.7,322.51 72.05,321.29 72.4,320.21 72.75,321.23 73.1,320.33 73.45,321.67 73.8,321.8 74.15,321.36 74.5,320.32 74.85,321 75.2,321.75 75.55,320.48 75.9,320.65 76.25,321.12 76.6,321.22 76.95,320.98 77.3,321.08 77.65,320.98 78,320.53 78.35,320.76 78.7,320.9 79.05,320.13 79.4,320.82 79.75,320.77 80.1,320.95 80.45,320.85 80.8,320.06 81.15,319.9 81.5,320.67 81.85,320.45 82.2,320.59 82.55,320.21 82.9,319.8 83.25,320.66 83.6,320.42 83.95,320.78 84.3,321.03 84.65,321.03 85,320.92 85.35,319.83 85.7,319.16 86.05,320 86.4,319.66 86.75,319.56 87.1,320.65 87.45,319.46 87.8,320.81 88.15,320.9 88.5,321.76 88.85,320.87 89.2,321.43 89.55,319.93 89.9,319.89 90.25,320.73 90.6,319.5 90.95,320.83 91.3,320.04 91.65,319.09 92,321.15 92.35,319.53 92.7,321.51 93.05,319.32 93.4,319.63 93.75,320.18 94.1,320.08 94.45,319.21 94.8,320.14 95.15,320.18 95.5,320.35 95.85,319.19 96.2,319.74 96.55,319.99 96.9,320.5 97.25,320.12 97.6,319.81 97.95,319.76 98.3,320.79 98.65,319.49 99,320.11 99.35,318.79 99.7,320.94 100.05,320.22 100.4,319.03 100.75,320.33 101.1,320.71 101.45,320.32 101.8,319.88 102.15,320.28 102.5,319.4 102.85,319.62 103.2,319.58 103.55,319.79 103.9,319.17 104.25,320.53 104.6,319.66 104.95,319.11 105.3,319.57 105.65,319.86 106,319.69 106.35,320.26 106.7,319.46 107.05,319.25 107.4,319.98 107.75,320.4 108.1,319.14 108.45,318.8 108.8,319.27 109.15,319.53 109.5,319 109.85,319.63 110.2,319.07 110.55,320.02 110.9,318.87 111.25,319.03 111.6,319.58 111.95,319.87 112.3,319.99 112.65,319.13 113,319.49 113.35,319.69 113.7,320.12 114.05,318.82 114.4,318.59 114.75,319.54 115.1,319.16 115.45,320.04 115.8,319.33 116.15,319.48 116.5,318.84 116.85,319.44 117.2,319.93 117.55,319.16 117.9,318.59 118.25,319.72 118.6,319.03 118.95,319.24 119.3,318.8 119.65,319.73 120,318.79 120.35,318.92 120.7,319.18 121.05,319 121.4,317.87 121.75,319.34 122.1,318.41 122.45,319.21 122.8,318.88 123.15,319.08 123.5,318.69 123.85,318.47 124.2,319.13 124.55,319.15 124.9,319.57 125.25,319.3 125.6,318.62 125.95,319.65 126.3,320.22 126.65,319.39 127,318.9 127.35,318.5 127.7,319.11 128.05,318.26 128.4,319.47 128.75,318.8 129.1,318.7 129.45,319.18 129.8,318.34 130.15,318.06 130.5,318.79 130.85,319.69 131.2,318.57 131.55,319.48 131.9,318.01 132.25,318.98 132.6,319.3 132.95,320 133.3,318.01 133.65,318.93 134,318.42 134.35,319.07 134.7,318.58 135.05,318.95 135.4,318.47 135.75,318.58 136.1,319.05 136.45,319.6 136.8,318.9 137.15,318.83 137.5,318.54 137.85,319.64 138.2,317.72 138.55,317.67 138.9,318.34 139.25,318.97 139.6,319.23 139.95,319.01 140.3,319.09 140.65,318.77 141,318.4 141.35,318.05 141.7,318.87 142.05,318.12 142.4,318.85 142.75,319.02 143.1,318.27 143.45,318.35 143.8,318.28 144.15,318.94 144.5,318.64 144.85,318.18 145.2,318.65 145.55,319.31 145.9,318.64 146.25,318.56 146.6,318.27 146.95,317.96 147.3,318.51 147.65,318.55 148,318.4 148.35,319.22 148.7,318.42 149.05,318.46 149.4,318.61 149.75,318.78 150.1,317.54 150.45,318.67 150.8,319.2 151.15,317.88 151.5,318.67 151.85,318.19 152.2,317.88 152.55,318.6 152.9,318.39 153.25,317.3 153.6,318.11 153.95,318.91 154.3,318.15 154.65,318.05 155,318.24 155.35,318.21 155.7,318.87 156.05,317.97 156.4,317.79 156.75,318.66 157.1,318.97 157.45,318.82 157.8,318.91 158.15,318.09 158.5,317.6 158.85,318.03 159.2,318.43 159.55,317.54 159.9,318.26 160.25,318.73 160.6,318.02 160.95,319.43 161.3,318.74 161.65,317.65 162,317.68 162.35,317.9 162.7,318.67 163.05,318.53 163.4,318 163.75,318.38 164.1,318.71 164.45,318.56 164.8,317.39 165.15,317.7 165.5,317.8 165.85,317.38 166.2,318.8 166.55,318 166.9,317.97 167.25,317.87 167.6,318.47 167.95,318.6 168.3,318.67 168.65,318.97 169,317.81 169.35,319.22 169.7,319.67 170.05,318.05 170.4,318.15 170.75,318.69 171.1,319.04 171.45,318.19 171.8,317.91 172.15,319.47 172.5,318.12 172.85,316.89 173.2,318.68 173.55,318.89 173.9,319.29 174.25,319.32 174.6,320.05 174.95,318.11 175.3,317.86 175.65,317.6 176,319.29 176.35,318.09 176.7,317.41 177.05,317.21 177.4,318.39 177.75,318.08 178.1,318.5 178.45,317.87 178.8,317.96 179.15,318.57 179.5,318.2 179.85,318.59 180.2,318.21 180.55,318.11 180.9,318.5 181.25,318.12 181.6,318.39 181.95,318.52 182.3,317.97 182.65,318.17 183,318.26 183.35,318.58 183.7,318.35 184.05,318.34 184.4,318.44 184.75,318.03 185.1,318.36 185.45,317.77 185.8,317.18 186.15,318.42 186.5,317.11 186.85,318.08 187.2,318.98 187.55,318.52 187.9,317.59 188.25,318.54 188.6,318.25 188.95,317.63 189.3,318.04 189.65,317.83 190,317.97 190.35,318.31 190.7,317.27 191.05,318.56 191.4,319.22 191.75,318 192.1,317.56 192.45,317.84 192.8,318.69 193.15,317.78 193.5,318.33 193.85,319.31 194.2,317.64 194.55,318.11 194.9,317.74 195.25,317.87 195.6,318.13 195.95,317.68 196.3,318.35 196.65,318.19 197,318.73 197.35,318.44 197.7,318.27 198.05,318.91 198.4,317.98 198.75,318.43 199.1,317.73 199.45,318.87 199.8,317.69 200.15,318.59 200.5,317.64 200.85,318.15 201.2,317.46 201.55,317.66 201.9,317.55 202.25,318.28 202.6,318.33 202.95,318.48 203.3,318.33 203.65,317.96 204,318.44 204.35,318.94 204.7,317.88 205.05,317.68 205.4,318.38 205.75,319.21 206.1,318.03 206.45,317.89 206.8,317.52 207.15,317.64 207.5,317.51 207.85,317.49 208.2,318.58 208.55,318.65 208.9,318.05 209.25,318.06 209.6,318.47 209.95,318.03 210.3,318.06 210.65,318.34 211,318.01 211.35,318.73 211.7,319.8 212.05,318.03 212.4,318.14 212.75,317.5 213.1,317.72 213.45,317.99 213.8,318.16 214.15,317.85 214.5,317.32 214.85,318.21 215.2,317.7 215.55,318.2 215.9,317.85 216.25,317.89 216.6,317.91 216.95,316.76 217.3,318.56 217.65,317.38 218,318.08 218.35,318.18 218.7,317.57 219.05,317.13 219.4,318.21 219.75,317.41 220.1,317.9 220.45,318.19 220.8,317.68 221.15,317.04 221.5,317.64 221.85,318.29 222.2,317.58 222.55,318.49 222.9,317.15 223.25,317.42 223.6,316.97 223.95,317.4 224.3,318.76 224.65,318.23 225,317.73 225.35,317.53 225.7,318.49 226.05,317.78 226.4,317.32 226.75,318.71 227.1,317.12 227.45,317.93 227.8,318.17 228.15,318.33 228.5,318.87 228.85,318.2 229.2,317.36 229.55,318.38 229.9,317.93 230.25,317.14 230.6,317.19 230.95,317.34 231.3,316.61 231.65,318.04 232,318.09 232.35,318.04 232.7,317.33 233.05,317.76 233.4,318.4 233.75,317.93 234.1,317.63 234.45,317.31 234.8,317.68 235.15,318.36 235.5,317.63 235.85,318.91 236.2,318.99 236.55,318.05 236.9,316.73 237.25,317.48 237.6,318.27 237.95,317.25 238.3,317.14 238.65,317.55 239,319.05 239.35,317.33 239.7,316.52 240.05,317.72 240.4,317.81 240.75,318 241.1,317.65 241.45,317.81 241.8,317.35 242.15,318.14 242.5,317.61 242.85,317.91 243.2,317.22 243.55,318.37 243.9,317.74 244.25,317.36 244.6,317.65 244.95,317.01 245.3,317.26 245.65,318.02 246,317.89 246.35,318.04 246.7,317.95 247.05,317.4 247.4,317.62 247.75,318.58 248.1,317.48 248.45,316.71 248.8,317.58 249.15,317.39 249.5,317.56 249.85,317.58 250.2,316.98 250.55,317.79 250.9,317.45 251.25,317.89 251.6,317.2 251.95,317.04 252.3,317.36 252.65,318.54 253,316.6 253.35,318.19 253.7,317.55 254.05,318.21 254.4,317.34 254.75,317.77 255.1,317.73 255.45,318.72 255.8,317.5 256.15,317.67 256.5,317.1 256.85,317.69 257.2,317.11 257.55,317.43 257.9,317.71 258.25,317.78 258.6,316.95 258.95,316.96 259.3,318.06 259.65,317.16 260,317.55 260.35,317.27 260.7,316.56 261.05,317.41 261.4,317.42 261.75,318.48 262.1,316.47 262.45,317.18 262.8,317.77 263.15,317.12 263.5,316.21 263.85,317.74 264.2,317.49 264.55,316.96 264.9,316.86 265.25,317.02 265.6,317.51 265.95,317.31 266.3,317.03 266.65,317.53 267,317.95 267.35,317.04 267.7,318.2 268.05,317.37 268.4,317.69 268.75,317.56 269.1,317.59 269.45,317.45 269.8,316.09 270.15,316.79 270.5,317.78 270.85,316.73 271.2,317.37 271.55,316.47 271.9,316.99 272.25,318.18 272.6,317.48 272.95,316.86 273.3,317 273.65,316.42 274,317.58 274.35,317.2 274.7,317.69 275.05,317.67 275.4,317.05 275.75,316.66 276.1,316.5 276.45,316.93 276.8,317.16 277.15,317.93 277.5,316.64 277.85,317.41 278.2,316.58 278.55,316.81 278.9,317.53 279.25,317.39 279.6,316.79 279.95,316.73 280.3,317.71 280.65,317.01 281,316.91 281.35,316.47 281.7,318.42 282.05,318.04 282.4,317.31 282.75,318.29 283.1,317.36 283.45,316.89 283.8,317.36 284.15,317.82 284.5,316.46 284.85,317.7 285.2,317.67 285.55,317.83 285.9,317.26 286.25,317.61 286.6,316.06 286.95,316.98 287.3,317.58 287.65,317.34 288,317.21 288.35,316.35 288.7,316.97 289.05,316.14 289.4,316.95 289.75,317.28 290.1,316.81 290.45,317.35 290.8,317.08 291.15,317.53 291.5,316.86 291.85,316.13 292.2,316.31 292.55,316.58 292.9,317.02 293.25,317.07 293.6,316.59 293.95,317.06 294.3,316.62 294.65,317.32 295,316.25 295.35,317.62 295.7,317.13 296.05,316.77 296.4,316.38 296.75,317.25 297.1,316.62 297.45,317.27 297.8,317.91 298.15,317.02 298.5,317.04 298.85,317.23 299.2,316.66 299.55,318.02 299.9,316.84 300.25,317.35 300.6,317.15 300.95,316.65 301.3,317.72 301.65,317.15 302,316.54 302.35,316.57 302.7,315.87 303.05,316.33 303.4,317.37 303.75,317.39 304.1,316.42 304.45,317.28 304.8,317.48 305.15,317.39 305.5,317.63 305.85,315.94 306.2,317.08 306.55,316.45 306.9,317.37 307.25,316.6 307.6,317.09 307.95,317.5 308.3,316.14 308.65,316.64 309,316.6 309.35,316.95 309.7,316.1 310.05,317.39 310.4,318.03 310.75,316.83 311.1,317.24 311.45,315.5 311.8,316.28 312.15,317.28 312.5,317.06 312.85,317.28 313.2,317.66 313.55,316.96 313.9,316.74 314.25,316.61 314.6,316.92 314.95,315.69 315.3,317.65 315.65,315.67 316,315.98 316.35,316.86 316.7,317.34 317.05,317.07 317.4,317.6 317.75,316.51 318.1,316.41 318.45,317.1 318.8,316.18 319.15,316.91 319.5,317.1 319.85,316.97 320.2,315.72 320.55,316.7 320.9,315.66 321.25,317.22 321.6,316.47 321.95,317.23 322.3,317.45 322.65,315.98 323,317.21 323.35,316.93 323.7,317.5 324.05,315.96 324.4,315.94 324.75,316.19 325.1,315.61 325.45,316.7 325.8,316.2 326.15,316.75 326.5,316.84 326.85,317.09 327.2,315.86 327.55,316.99 327.9,317.03 328.25,316.07 328.6,316.24 328.95,315.76 329.3,317.18 329.65,317.23 330,316.05 330.35,316.49 330.7,316.74 331.05,316.95 331.4,316.49 331.75,317.44 332.1,315.99 332.45,316.93 332.8,316.46 333.15,316.56 333.5,315.94 333.85,315.39 334.2,316.02 334.55,316.57 334.9,315.85 335.25,315.38 335.6,316.23 335.95,316.3 336.3,315.71 336.65,316.16 337,316.45 337.35,316.36 337.7,316.77 338.05,316.92 338.4,316.28 338.75,315.83 339.1,315.32 339.45,316.81 339.8,316.47 340.15,316.81 340.5,315.78 340.85,316.29 341.2,315.78" fill="none" stroke="#800080" stroke-width="3.7" stroke-linejoin="round"/>
</g>
<text x="126.2" y="275.6" font-size="10.2" text-anchor="start" fill="#E8716A" >Stable power output=22.94%</text>
<text x="125.1" y="301.1" font-size="10.2" text-anchor="start" fill="#1EA4FF" >Stable power output=21.57%</text>
<text x="126.2" y="336.1" font-size="10.2" text-anchor="start" fill="#8E2C8E" >Stable power output=21.17%</text>
<line x1="67.2" y1="406.9" x2="86.3" y2="406.9" stroke="#800080" stroke-width="1" />
<circle cx="76.6" cy="406.9" r="2.6" fill="#800080"/>
<text x="89.5" y="410.6" font-size="10.3" text-anchor="start" fill="#222" >With PTAA</text>
<line x1="67.2" y1="419.1" x2="86.3" y2="419.1" stroke="#1EA4FF" stroke-width="1" />
<circle cx="76.6" cy="419.1" r="2.6" fill="#1EA4FF"/>
<text x="89.5" y="422.8" font-size="10.3" text-anchor="start" fill="#222" >With CAZ-NCS</text>
<line x1="67.2" y1="431.7" x2="86.3" y2="431.7" stroke="#F0832A" stroke-width="1" />
<circle cx="76.6" cy="431.7" r="2.6" fill="#F0832A"/>
<text x="89.5" y="435.4" font-size="10.3" text-anchor="start" fill="#222" >With CAZ-NCS-P</text>
<defs>
<pattern id="hatchO" patternUnits="userSpaceOnUse" width="2.2" height="2.2" patternTransform="rotate(-45)">
 <line x1="0" y1="0" x2="0" y2="2.2" stroke="#F0832A" stroke-width="0.85"/></pattern>
<pattern id="hatchB" patternUnits="userSpaceOnUse" width="2.2" height="2.2" patternTransform="rotate(-45)">
 <line x1="0" y1="0" x2="0" y2="2.2" stroke="#1EA4FF" stroke-width="0.85"/></pattern>
</defs>
<line x1="406.9" y1="444.2" x2="692.7" y2="444.2" stroke="#555" stroke-width="1.1" />
<line x1="406.9" y1="243" x2="692.7" y2="243" stroke="#808080" stroke-width="1.4" />
<line x1="692.7" y1="243" x2="692.7" y2="444.2" stroke="#444" stroke-width="1" />
<line x1="406.9" y1="243" x2="406.9" y2="444.2" stroke="#808080" stroke-width="1.3" />
<line x1="404.4" y1="444.2" x2="406.9" y2="444.2" stroke="#555" stroke-width="0.8" />
<text x="402.6" y="447.8" font-size="10.1" text-anchor="end" fill="#1c1c1c" >0.0</text>
<line x1="404.4" y1="411.25" x2="406.9" y2="411.25" stroke="#555" stroke-width="0.8" />
<text x="402.6" y="414.85" font-size="10.1" text-anchor="end" fill="#1c1c1c" >0.1</text>
<line x1="404.4" y1="378.3" x2="406.9" y2="378.3" stroke="#555" stroke-width="0.8" />
<text x="402.6" y="381.9" font-size="10.1" text-anchor="end" fill="#1c1c1c" >0.2</text>
<line x1="404.4" y1="345.35" x2="406.9" y2="345.35" stroke="#555" stroke-width="0.8" />
<text x="402.6" y="348.95" font-size="10.1" text-anchor="end" fill="#1c1c1c" >0.3</text>
<line x1="404.4" y1="312.4" x2="406.9" y2="312.4" stroke="#555" stroke-width="0.8" />
<text x="402.6" y="316" font-size="10.1" text-anchor="end" fill="#1c1c1c" >0.4</text>
<line x1="404.4" y1="279.45" x2="406.9" y2="279.45" stroke="#555" stroke-width="0.8" />
<text x="402.6" y="283.05" font-size="10.1" text-anchor="end" fill="#1c1c1c" >0.5</text>
<line x1="404.4" y1="246.5" x2="406.9" y2="246.5" stroke="#555" stroke-width="0.8" />
<text x="402.6" y="250.1" font-size="10.1" text-anchor="end" fill="#1c1c1c" >0.6</text>
<line x1="474.7" y1="444.2" x2="474.7" y2="446.7" stroke="#555" stroke-width="0.8" />
<line x1="642.4" y1="444.2" x2="642.4" y2="446.7" stroke="#555" stroke-width="0.8" />
<text x="474.2" y="456.9" font-size="10.4" text-anchor="middle" fill="#1c1c1c" >CAZ-NCS/PVSK</text>
<text x="642.2" y="456.9" font-size="10.4" text-anchor="middle" fill="#1c1c1c" >CAZ-NCS-P/PVSK</text>
<text transform="translate(380.2,343.5) rotate(-90)" font-size="11.3" text-anchor="middle" fill="#222">Shear Strength (Mpa)</text>
<rect x="583.2" y="270.7" width="51.5" height="16.4" fill="url(#hatchO)" stroke="#F0832A" stroke-width="1.1"/>
<line x1="583.2" y1="277.8" x2="634.7" y2="277.8" stroke="#F0832A" stroke-width="1.2" />
<line x1="609" y1="262.5" x2="609" y2="270.7" stroke="#F0832A" stroke-width="1" />
<line x1="609" y1="287.1" x2="609" y2="290.1" stroke="#F0832A" stroke-width="1" />
<line x1="596.35" y1="262.5" x2="621.65" y2="262.5" stroke="#F0832A" stroke-width="1.1" />
<line x1="596.35" y1="290.1" x2="621.65" y2="290.1" stroke="#F0832A" stroke-width="1.1" />
<circle cx="644.3" cy="271.1" r="2.15" fill="none" stroke="#F0832A" stroke-width="1.1"/>
<circle cx="644.3" cy="286.6" r="2.15" fill="none" stroke="#F0832A" stroke-width="1.1"/>
<circle cx="657.2" cy="262.3" r="2.15" fill="none" stroke="#F0832A" stroke-width="1.1"/>
<circle cx="657.2" cy="290.1" r="2.15" fill="none" stroke="#F0832A" stroke-width="1.1"/>
<circle cx="670.2" cy="277.8" r="2.15" fill="none" stroke="#F0832A" stroke-width="1.1"/>
<polyline points="644.49,246.7 644.57,247.26 644.66,247.83 644.77,248.39 644.9,248.96 645.04,249.52 645.2,250.08 645.38,250.65 645.58,251.21 645.81,251.77 646.06,252.34 646.35,252.9 646.66,253.47 647.01,254.03 647.39,254.59 647.81,255.16 648.28,255.72 648.78,256.29 649.33,256.85 649.92,257.41 650.56,257.98 651.25,258.54 651.99,259.11 652.78,259.67 653.62,260.23 654.51,260.8 655.45,261.36 656.44,261.92 657.47,262.49 658.54,263.05 659.66,263.62 660.81,264.18 662,264.74 663.22,265.31 664.46,265.87 665.71,266.44 666.98,267 668.25,267.56 669.51,268.13 670.77,268.69 672.01,269.25 673.21,269.82 674.39,270.38 675.52,270.95 676.59,271.51 677.61,272.07 678.56,272.64 679.43,273.2 680.22,273.77 680.93,274.33 681.53,274.89 682.04,275.46 682.44,276.02 682.74,276.58 682.93,277.15 683,277.71 682.96,278.28 682.81,278.84 682.55,279.4 682.18,279.97 681.7,280.53 681.13,281.1 680.45,281.66 679.69,282.22 678.84,282.79 677.91,283.35 676.92,283.92 675.86,284.48 674.74,285.04 673.58,285.61 672.38,286.17 671.15,286.73 669.9,287.3 668.64,287.86 667.37,288.43 666.1,288.99 664.84,289.55 663.6,290.12 662.38,290.68 661.18,291.25 660.01,291.81 658.89,292.37 657.8,292.94 656.75,293.5 655.75,294.06 654.8,294.63 653.89,295.19 653.04,295.76 652.23,296.32 651.48,296.88 650.77,297.45 650.12,298.01 649.51,298.58 648.94,299.14 648.43,299.7 647.95,300.27 647.52,300.83 647.12,301.39 646.76,301.96 646.44,302.52 646.15,303.09 645.88,303.65 645.65,304.21 645.44,304.78 645.25,305.34 645.08,305.91 644.94,306.47 644.81,307.03 644.7,307.6 644.6,308.16 644.51,308.73 644.43,309.29 644.37,309.85 644.31,310.42 644.26,310.98 644.22,311.54 644.19,312.11 644.16,312.67 644.13,313.24 644.11,313.8" fill="none" stroke="#F0832A" stroke-width="1.1" />
<rect x="414.9" y="396" width="51.5" height="16.4" fill="url(#hatchB)" stroke="#1EA4FF" stroke-width="1.1"/>
<line x1="414.9" y1="396.4" x2="466.4" y2="396.4" stroke="#1EA4FF" stroke-width="1.2" />
<line x1="440.8" y1="391.6" x2="440.8" y2="396" stroke="#1EA4FF" stroke-width="1" />
<line x1="440.8" y1="412.4" x2="440.8" y2="414.1" stroke="#1EA4FF" stroke-width="1" />
<line x1="428.3" y1="391.6" x2="453.3" y2="391.6" stroke="#1EA4FF" stroke-width="1.1" />
<line x1="428.3" y1="414.1" x2="453.3" y2="414.1" stroke="#1EA4FF" stroke-width="1.1" />
<circle cx="475.9" cy="391.6" r="2.15" fill="none" stroke="#1EA4FF" stroke-width="1.1"/>
<circle cx="475.9" cy="412.4" r="2.15" fill="none" stroke="#1EA4FF" stroke-width="1.1"/>
<circle cx="488.7" cy="396" r="2.15" fill="none" stroke="#1EA4FF" stroke-width="1.1"/>
<circle cx="488.7" cy="414.5" r="2.15" fill="none" stroke="#1EA4FF" stroke-width="1.1"/>
<circle cx="501.5" cy="396.5" r="2.15" fill="none" stroke="#1EA4FF" stroke-width="1.1"/>
<polyline points="476.24,368.4 476.29,368.97 476.34,369.53 476.4,370.1 476.47,370.67 476.56,371.24 476.65,371.8 476.76,372.37 476.88,372.94 477.02,373.51 477.18,374.07 477.36,374.64 477.56,375.21 477.78,375.77 478.04,376.34 478.32,376.91 478.63,377.48 478.98,378.04 479.36,378.61 479.78,379.18 480.24,379.74 480.74,380.31 481.29,380.88 481.88,381.45 482.52,382.01 483.21,382.58 483.95,383.15 484.74,383.72 485.57,384.28 486.46,384.85 487.4,385.42 488.38,385.98 489.41,386.55 490.49,387.12 491.6,387.69 492.75,388.25 493.93,388.82 495.14,389.39 496.38,389.95 497.62,390.52 498.88,391.09 500.14,391.66 501.4,392.22 502.64,392.79 503.87,393.36 505.06,393.93 506.22,394.49 507.33,395.06 508.39,395.63 509.39,396.19 510.31,396.76 511.16,397.33 511.93,397.9 512.6,398.46 513.18,399.03 513.66,399.6 514.04,400.16 514.3,400.73 514.46,401.3 514.5,401.87 514.43,402.43 514.25,403 513.96,403.57 513.56,404.14 513.06,404.7 512.45,405.27 511.76,405.84 510.97,406.4 510.1,406.97 509.16,407.54 508.15,408.11 507.08,408.67 505.95,409.24 504.79,409.81 503.58,410.37 502.35,410.94 501.11,411.51 499.85,412.08 498.59,412.64 497.33,413.21 496.08,413.78 494.86,414.35 493.65,414.91 492.48,415.48 491.33,416.05 490.23,416.61 489.17,417.18 488.15,417.75 487.17,418.32 486.25,418.88 485.37,419.45 484.55,420.02 483.77,420.58 483.04,421.15 482.37,421.72 481.74,422.29 481.16,422.85 480.62,423.42 480.13,423.99 479.68,424.56 479.27,425.12 478.89,425.69 478.55,426.26 478.25,426.82 477.97,427.39 477.73,427.96 477.51,428.53 477.31,429.09 477.14,429.66 476.99,430.23 476.85,430.79 476.73,431.36 476.63,431.93 476.54,432.5 476.46,433.06 476.39,433.63 476.33,434.2 476.28,434.77 476.23,435.33 476.2,435.9" fill="none" stroke="#1EA4FF" stroke-width="1.1" />
<rect x="556.7" y="333.4" width="118.2" height="105.6" rx="15.5" ry="15.5" fill="#fff" stroke="#3D6A98" stroke-width="1.15" stroke-dasharray="1.5,1.2"/>
<rect x="569" y="351" width="10.5" height="47.5" fill="#EEF0F7"/>
<rect x="573.73" y="351" width="5.78" height="47.5" fill="#E3E6F0"/>
<rect x="576.7" y="373" width="10.5" height="47.5" fill="#EEF0F7"/>
<rect x="581.43" y="373" width="5.78" height="47.5" fill="#E3E6F0"/>
<path d="M575.2,378 L582.4,373.6 L582.4,393.4 L575.2,397.8 Z" fill="#2F4B6E"/>
<rect x="623.8" y="351" width="10.5" height="47.5" fill="#EEF0F7"/>
<rect x="628.52" y="351" width="5.78" height="47.5" fill="#E3E6F0"/>
<rect x="631.5" y="373" width="10.5" height="47.5" fill="#EEF0F7"/>
<rect x="636.23" y="373" width="5.78" height="47.5" fill="#E3E6F0"/>
<path d="M630,378 L637.2,373.6 L637.2,393.4 L630,397.8 Z" fill="#A3524E"/>
<path d="M573.7,339 L577.8,343.2 L575.7,343.2 L575.7,350 L571.7,350 L571.7,343.2 L569.6,343.2 Z" fill="#fff" stroke="#5B7FA8" stroke-width="0.95"/>
<path d="M583,432.8 L587.1,428.6 L585,428.6 L585,421.4 L581,421.4 L581,428.6 L578.9,428.6 Z" fill="#fff" stroke="#5B7FA8" stroke-width="0.95"/>
<path d="M628.3,339 L632.4,343.2 L630.3,343.2 L630.3,350 L626.3,350 L626.3,343.2 L624.2,343.2 Z" fill="#fff" stroke="#8DB8AE" stroke-width="0.95"/>
<path d="M637.3,432.8 L641.4,428.6 L639.3,428.6 L639.3,421.4 L635.3,421.4 L635.3,428.6 L633.2,428.6 Z" fill="#fff" stroke="#8DB8AE" stroke-width="0.95"/>
<text x="580" y="347.4" font-size="8.8" text-anchor="start" fill="#1a1a1a" font-weight="bold">Force</text>
<text x="637.3" y="348.2" font-size="8.8" text-anchor="start" fill="#1a1a1a" font-weight="bold">Force</text>
<text x="589.3" y="429.8" font-size="8.8" text-anchor="start" fill="#1a1a1a" font-weight="bold">Force</text>
<text x="643.8" y="429.8" font-size="8.8" text-anchor="start" fill="#1a1a1a" font-weight="bold">Force</text>
<rect x="90.4" y="484.6" width="181.6" height="206.0" fill="#FDFCF3"/>
<rect x="272.0" y="484.6" width="424.4" height="206.0" fill="#F3FDFA"/>
<line x1="90.4" y1="501.42" x2="696.4" y2="501.42" stroke="#9a9a9a" stroke-width="0.9" stroke-dasharray="3,2.6"/>
<line x1="90.4" y1="564.48" x2="696.4" y2="564.48" stroke="#9a9a9a" stroke-width="0.9" stroke-dasharray="3,2.6"/>
<line x1="90.4" y1="627.54" x2="696.4" y2="627.54" stroke="#9a9a9a" stroke-width="0.9" stroke-dasharray="3,2.6"/>
<line x1="90.7" y1="512" x2="230.5" y2="563.6" stroke="#800080" stroke-width="2.2" stroke-dasharray="3.6,5.2"/>
<line x1="91.4" y1="496.3" x2="346" y2="563.2" stroke="#1EA4FF" stroke-width="2.5" stroke-dasharray="2.8,2.7"/>
<line x1="90.5" y1="499.6" x2="683" y2="563.6" stroke="#F0832A" stroke-width="2.6" stroke-dasharray="2.8,2.7"/>
<circle cx="91.63" cy="490.34" r="3.65" fill="#7C0A7C" stroke="#6A006A" stroke-width="0.6"/><circle cx="91.43" cy="490.04" r="1.15" fill="#ecd4ec"/>
<circle cx="93.86" cy="493.83" r="3.65" fill="#7C0A7C" stroke="#6A006A" stroke-width="0.6"/><circle cx="93.66" cy="493.53" r="1.15" fill="#ecd4ec"/>
<circle cx="94.53" cy="494.43" r="3.65" fill="#7C0A7C" stroke="#6A006A" stroke-width="0.6"/><circle cx="94.33" cy="494.13" r="1.15" fill="#ecd4ec"/>
<circle cx="97.58" cy="498.09" r="3.65" fill="#7C0A7C" stroke="#6A006A" stroke-width="0.6"/><circle cx="97.38" cy="497.79" r="1.15" fill="#ecd4ec"/>
<circle cx="98.8" cy="492.82" r="3.65" fill="#7C0A7C" stroke="#6A006A" stroke-width="0.6"/><circle cx="98.6" cy="492.52" r="1.15" fill="#ecd4ec"/>
<circle cx="100.36" cy="489.12" r="3.65" fill="#7C0A7C" stroke="#6A006A" stroke-width="0.6"/><circle cx="100.16" cy="488.82" r="1.15" fill="#ecd4ec"/>
<circle cx="102.19" cy="493" r="3.65" fill="#7C0A7C" stroke="#6A006A" stroke-width="0.6"/><circle cx="101.99" cy="492.7" r="1.15" fill="#ecd4ec"/>
<circle cx="103.92" cy="497.06" r="3.65" fill="#7C0A7C" stroke="#6A006A" stroke-width="0.6"/><circle cx="103.72" cy="496.76" r="1.15" fill="#ecd4ec"/>
<circle cx="106.05" cy="501.35" r="3.65" fill="#7C0A7C" stroke="#6A006A" stroke-width="0.6"/><circle cx="105.85" cy="501.05" r="1.15" fill="#ecd4ec"/>
<circle cx="108.25" cy="508.55" r="3.65" fill="#7C0A7C" stroke="#6A006A" stroke-width="0.6"/><circle cx="108.05" cy="508.25" r="1.15" fill="#ecd4ec"/>
<circle cx="109.99" cy="510.73" r="3.65" fill="#7C0A7C" stroke="#6A006A" stroke-width="0.6"/><circle cx="109.79" cy="510.43" r="1.15" fill="#ecd4ec"/>
<circle cx="111.83" cy="511.14" r="3.65" fill="#7C0A7C" stroke="#6A006A" stroke-width="0.6"/><circle cx="111.63" cy="510.84" r="1.15" fill="#ecd4ec"/>
<circle cx="112.85" cy="516.55" r="3.65" fill="#7C0A7C" stroke="#6A006A" stroke-width="0.6"/><circle cx="112.65" cy="516.25" r="1.15" fill="#ecd4ec"/>
<circle cx="114.72" cy="519" r="3.65" fill="#7C0A7C" stroke="#6A006A" stroke-width="0.6"/><circle cx="114.52" cy="518.7" r="1.15" fill="#ecd4ec"/>
<circle cx="117.64" cy="523.05" r="3.65" fill="#7C0A7C" stroke="#6A006A" stroke-width="0.6"/><circle cx="117.44" cy="522.75" r="1.15" fill="#ecd4ec"/>
<circle cx="119.26" cy="524.54" r="3.65" fill="#7C0A7C" stroke="#6A006A" stroke-width="0.6"/><circle cx="119.06" cy="524.24" r="1.15" fill="#ecd4ec"/>
<circle cx="121.52" cy="527.3" r="3.65" fill="#7C0A7C" stroke="#6A006A" stroke-width="0.6"/><circle cx="121.32" cy="527" r="1.15" fill="#ecd4ec"/>
<circle cx="123" cy="522.52" r="3.65" fill="#7C0A7C" stroke="#6A006A" stroke-width="0.6"/><circle cx="122.8" cy="522.22" r="1.15" fill="#ecd4ec"/>
<circle cx="124.05" cy="523.5" r="3.65" fill="#7C0A7C" stroke="#6A006A" stroke-width="0.6"/><circle cx="123.85" cy="523.2" r="1.15" fill="#ecd4ec"/>
<circle cx="126.69" cy="530.27" r="3.65" fill="#7C0A7C" stroke="#6A006A" stroke-width="0.6"/><circle cx="126.49" cy="529.97" r="1.15" fill="#ecd4ec"/>
<circle cx="128.29" cy="533.28" r="3.65" fill="#7C0A7C" stroke="#6A006A" stroke-width="0.6"/><circle cx="128.09" cy="532.98" r="1.15" fill="#ecd4ec"/>
<circle cx="129.97" cy="534.16" r="3.65" fill="#7C0A7C" stroke="#6A006A" stroke-width="0.6"/><circle cx="129.77" cy="533.86" r="1.15" fill="#ecd4ec"/>
<circle cx="131.44" cy="536.37" r="3.65" fill="#7C0A7C" stroke="#6A006A" stroke-width="0.6"/><circle cx="131.24" cy="536.07" r="1.15" fill="#ecd4ec"/>
<circle cx="133.55" cy="541.49" r="3.65" fill="#7C0A7C" stroke="#6A006A" stroke-width="0.6"/><circle cx="133.35" cy="541.19" r="1.15" fill="#ecd4ec"/>
<circle cx="135.33" cy="543.98" r="3.65" fill="#7C0A7C" stroke="#6A006A" stroke-width="0.6"/><circle cx="135.13" cy="543.68" r="1.15" fill="#ecd4ec"/>
<circle cx="137.52" cy="543.08" r="3.65" fill="#7C0A7C" stroke="#6A006A" stroke-width="0.6"/><circle cx="137.32" cy="542.78" r="1.15" fill="#ecd4ec"/>
<circle cx="139.08" cy="544.05" r="3.65" fill="#7C0A7C" stroke="#6A006A" stroke-width="0.6"/><circle cx="138.88" cy="543.75" r="1.15" fill="#ecd4ec"/>
<circle cx="141.42" cy="546.73" r="3.65" fill="#7C0A7C" stroke="#6A006A" stroke-width="0.6"/><circle cx="141.22" cy="546.43" r="1.15" fill="#ecd4ec"/>
<circle cx="142.42" cy="539.47" r="3.65" fill="#7C0A7C" stroke="#6A006A" stroke-width="0.6"/><circle cx="142.22" cy="539.17" r="1.15" fill="#ecd4ec"/>
<circle cx="144.69" cy="540.23" r="3.65" fill="#7C0A7C" stroke="#6A006A" stroke-width="0.6"/><circle cx="144.49" cy="539.93" r="1.15" fill="#ecd4ec"/>
<circle cx="146.52" cy="543.19" r="3.65" fill="#7C0A7C" stroke="#6A006A" stroke-width="0.6"/><circle cx="146.32" cy="542.89" r="1.15" fill="#ecd4ec"/>
<circle cx="147.87" cy="543.28" r="3.65" fill="#7C0A7C" stroke="#6A006A" stroke-width="0.6"/><circle cx="147.67" cy="542.98" r="1.15" fill="#ecd4ec"/>
<circle cx="149.59" cy="545.23" r="3.65" fill="#7C0A7C" stroke="#6A006A" stroke-width="0.6"/><circle cx="149.39" cy="544.93" r="1.15" fill="#ecd4ec"/>
<circle cx="152.19" cy="549.44" r="3.65" fill="#7C0A7C" stroke="#6A006A" stroke-width="0.6"/><circle cx="151.99" cy="549.14" r="1.15" fill="#ecd4ec"/>
<circle cx="153.84" cy="544.6" r="3.65" fill="#7C0A7C" stroke="#6A006A" stroke-width="0.6"/><circle cx="153.64" cy="544.3" r="1.15" fill="#ecd4ec"/>
<circle cx="155.43" cy="544.66" r="3.65" fill="#7C0A7C" stroke="#6A006A" stroke-width="0.6"/><circle cx="155.23" cy="544.36" r="1.15" fill="#ecd4ec"/>
<circle cx="157.46" cy="539.08" r="3.65" fill="#7C0A7C" stroke="#6A006A" stroke-width="0.6"/><circle cx="157.26" cy="538.78" r="1.15" fill="#ecd4ec"/>
<circle cx="158.91" cy="540.02" r="3.65" fill="#7C0A7C" stroke="#6A006A" stroke-width="0.6"/><circle cx="158.71" cy="539.72" r="1.15" fill="#ecd4ec"/>
<circle cx="161.06" cy="544.48" r="3.65" fill="#7C0A7C" stroke="#6A006A" stroke-width="0.6"/><circle cx="160.86" cy="544.18" r="1.15" fill="#ecd4ec"/>
<circle cx="162.59" cy="541.16" r="3.65" fill="#7C0A7C" stroke="#6A006A" stroke-width="0.6"/><circle cx="162.39" cy="540.86" r="1.15" fill="#ecd4ec"/>
<circle cx="164.7" cy="544.22" r="3.65" fill="#7C0A7C" stroke="#6A006A" stroke-width="0.6"/><circle cx="164.5" cy="543.92" r="1.15" fill="#ecd4ec"/>
<circle cx="166.8" cy="547.33" r="3.65" fill="#7C0A7C" stroke="#6A006A" stroke-width="0.6"/><circle cx="166.6" cy="547.03" r="1.15" fill="#ecd4ec"/>
<circle cx="168.17" cy="546.7" r="3.65" fill="#7C0A7C" stroke="#6A006A" stroke-width="0.6"/><circle cx="167.97" cy="546.4" r="1.15" fill="#ecd4ec"/>
<circle cx="170.41" cy="549.52" r="3.65" fill="#7C0A7C" stroke="#6A006A" stroke-width="0.6"/><circle cx="170.21" cy="549.22" r="1.15" fill="#ecd4ec"/>
<circle cx="171.58" cy="548.1" r="3.65" fill="#7C0A7C" stroke="#6A006A" stroke-width="0.6"/><circle cx="171.38" cy="547.8" r="1.15" fill="#ecd4ec"/>
<circle cx="173.67" cy="548.05" r="3.65" fill="#7C0A7C" stroke="#6A006A" stroke-width="0.6"/><circle cx="173.47" cy="547.75" r="1.15" fill="#ecd4ec"/>
<circle cx="175.12" cy="546.48" r="3.65" fill="#7C0A7C" stroke="#6A006A" stroke-width="0.6"/><circle cx="174.92" cy="546.18" r="1.15" fill="#ecd4ec"/>
<circle cx="177.39" cy="546.91" r="3.65" fill="#7C0A7C" stroke="#6A006A" stroke-width="0.6"/><circle cx="177.19" cy="546.61" r="1.15" fill="#ecd4ec"/>
<circle cx="179.29" cy="549.66" r="3.65" fill="#7C0A7C" stroke="#6A006A" stroke-width="0.6"/><circle cx="179.09" cy="549.36" r="1.15" fill="#ecd4ec"/>
<circle cx="181.02" cy="551.78" r="3.65" fill="#7C0A7C" stroke="#6A006A" stroke-width="0.6"/><circle cx="180.82" cy="551.48" r="1.15" fill="#ecd4ec"/>
<circle cx="182.82" cy="554.9" r="3.65" fill="#7C0A7C" stroke="#6A006A" stroke-width="0.6"/><circle cx="182.62" cy="554.6" r="1.15" fill="#ecd4ec"/>
<circle cx="185.21" cy="554.22" r="3.65" fill="#7C0A7C" stroke="#6A006A" stroke-width="0.6"/><circle cx="185.01" cy="553.92" r="1.15" fill="#ecd4ec"/>
<circle cx="187.07" cy="554.32" r="3.65" fill="#7C0A7C" stroke="#6A006A" stroke-width="0.6"/><circle cx="186.87" cy="554.02" r="1.15" fill="#ecd4ec"/>
<circle cx="187.97" cy="554.44" r="3.65" fill="#7C0A7C" stroke="#6A006A" stroke-width="0.6"/><circle cx="187.77" cy="554.14" r="1.15" fill="#ecd4ec"/>
<circle cx="190.64" cy="556.2" r="3.65" fill="#7C0A7C" stroke="#6A006A" stroke-width="0.6"/><circle cx="190.44" cy="555.9" r="1.15" fill="#ecd4ec"/>
<circle cx="191.45" cy="552.19" r="3.65" fill="#7C0A7C" stroke="#6A006A" stroke-width="0.6"/><circle cx="191.25" cy="551.89" r="1.15" fill="#ecd4ec"/>
<circle cx="193.63" cy="555.93" r="3.65" fill="#7C0A7C" stroke="#6A006A" stroke-width="0.6"/><circle cx="193.43" cy="555.63" r="1.15" fill="#ecd4ec"/>
<circle cx="195.65" cy="550.29" r="3.65" fill="#7C0A7C" stroke="#6A006A" stroke-width="0.6"/><circle cx="195.45" cy="549.99" r="1.15" fill="#ecd4ec"/>
<circle cx="197.58" cy="552.06" r="3.65" fill="#7C0A7C" stroke="#6A006A" stroke-width="0.6"/><circle cx="197.38" cy="551.76" r="1.15" fill="#ecd4ec"/>
<circle cx="199" cy="555.51" r="3.65" fill="#7C0A7C" stroke="#6A006A" stroke-width="0.6"/><circle cx="198.8" cy="555.21" r="1.15" fill="#ecd4ec"/>
<circle cx="200.94" cy="554.77" r="3.65" fill="#7C0A7C" stroke="#6A006A" stroke-width="0.6"/><circle cx="200.74" cy="554.47" r="1.15" fill="#ecd4ec"/>
<circle cx="203.05" cy="550.72" r="3.65" fill="#7C0A7C" stroke="#6A006A" stroke-width="0.6"/><circle cx="202.85" cy="550.42" r="1.15" fill="#ecd4ec"/>
<circle cx="204.61" cy="551.61" r="3.65" fill="#7C0A7C" stroke="#6A006A" stroke-width="0.6"/><circle cx="204.41" cy="551.31" r="1.15" fill="#ecd4ec"/>
<circle cx="206.46" cy="549.39" r="3.65" fill="#7C0A7C" stroke="#6A006A" stroke-width="0.6"/><circle cx="206.26" cy="549.09" r="1.15" fill="#ecd4ec"/>
<circle cx="208.74" cy="551.96" r="3.65" fill="#7C0A7C" stroke="#6A006A" stroke-width="0.6"/><circle cx="208.54" cy="551.66" r="1.15" fill="#ecd4ec"/>
<circle cx="210.66" cy="553.81" r="3.65" fill="#7C0A7C" stroke="#6A006A" stroke-width="0.6"/><circle cx="210.46" cy="553.51" r="1.15" fill="#ecd4ec"/>
<circle cx="212.15" cy="553" r="3.65" fill="#7C0A7C" stroke="#6A006A" stroke-width="0.6"/><circle cx="211.95" cy="552.7" r="1.15" fill="#ecd4ec"/>
<circle cx="214" cy="558.39" r="3.65" fill="#7C0A7C" stroke="#6A006A" stroke-width="0.6"/><circle cx="213.8" cy="558.09" r="1.15" fill="#ecd4ec"/>
<circle cx="215.82" cy="559.79" r="3.65" fill="#7C0A7C" stroke="#6A006A" stroke-width="0.6"/><circle cx="215.62" cy="559.49" r="1.15" fill="#ecd4ec"/>
<circle cx="217.49" cy="561.94" r="3.65" fill="#7C0A7C" stroke="#6A006A" stroke-width="0.6"/><circle cx="217.29" cy="561.64" r="1.15" fill="#ecd4ec"/>
<circle cx="219.3" cy="562.24" r="3.65" fill="#7C0A7C" stroke="#6A006A" stroke-width="0.6"/><circle cx="219.1" cy="561.94" r="1.15" fill="#ecd4ec"/>
<circle cx="220.94" cy="560.86" r="3.65" fill="#7C0A7C" stroke="#6A006A" stroke-width="0.6"/><circle cx="220.74" cy="560.56" r="1.15" fill="#ecd4ec"/>
<circle cx="223.36" cy="563.04" r="3.65" fill="#7C0A7C" stroke="#6A006A" stroke-width="0.6"/><circle cx="223.16" cy="562.74" r="1.15" fill="#ecd4ec"/>
<circle cx="224.94" cy="562.23" r="3.65" fill="#7C0A7C" stroke="#6A006A" stroke-width="0.6"/><circle cx="224.74" cy="561.93" r="1.15" fill="#ecd4ec"/>
<circle cx="226.74" cy="561.03" r="3.65" fill="#7C0A7C" stroke="#6A006A" stroke-width="0.6"/><circle cx="226.54" cy="560.73" r="1.15" fill="#ecd4ec"/>
<circle cx="228.69" cy="561.32" r="3.65" fill="#7C0A7C" stroke="#6A006A" stroke-width="0.6"/><circle cx="228.49" cy="561.02" r="1.15" fill="#ecd4ec"/>
<circle cx="230.64" cy="559.34" r="3.65" fill="#7C0A7C" stroke="#6A006A" stroke-width="0.6"/><circle cx="230.44" cy="559.04" r="1.15" fill="#ecd4ec"/>
<circle cx="232.78" cy="558.3" r="3.65" fill="#7C0A7C" stroke="#6A006A" stroke-width="0.6"/><circle cx="232.58" cy="558" r="1.15" fill="#ecd4ec"/>
<circle cx="234.01" cy="561.43" r="3.65" fill="#7C0A7C" stroke="#6A006A" stroke-width="0.6"/><circle cx="233.81" cy="561.13" r="1.15" fill="#ecd4ec"/>
<circle cx="235.79" cy="564.46" r="3.65" fill="#7C0A7C" stroke="#6A006A" stroke-width="0.6"/><circle cx="235.59" cy="564.16" r="1.15" fill="#ecd4ec"/>
<circle cx="237.83" cy="565.84" r="3.65" fill="#7C0A7C" stroke="#6A006A" stroke-width="0.6"/><circle cx="237.63" cy="565.54" r="1.15" fill="#ecd4ec"/>
<circle cx="239.29" cy="568.35" r="3.65" fill="#7C0A7C" stroke="#6A006A" stroke-width="0.6"/><circle cx="239.09" cy="568.05" r="1.15" fill="#ecd4ec"/>
<circle cx="241.86" cy="570.01" r="3.65" fill="#7C0A7C" stroke="#6A006A" stroke-width="0.6"/><circle cx="241.66" cy="569.71" r="1.15" fill="#ecd4ec"/>
<circle cx="243.57" cy="568.53" r="3.65" fill="#7C0A7C" stroke="#6A006A" stroke-width="0.6"/><circle cx="243.37" cy="568.23" r="1.15" fill="#ecd4ec"/>
<circle cx="245.32" cy="567.53" r="3.65" fill="#7C0A7C" stroke="#6A006A" stroke-width="0.6"/><circle cx="245.12" cy="567.23" r="1.15" fill="#ecd4ec"/>
<circle cx="246.86" cy="564.38" r="3.65" fill="#7C0A7C" stroke="#6A006A" stroke-width="0.6"/><circle cx="246.66" cy="564.08" r="1.15" fill="#ecd4ec"/>
<circle cx="248.99" cy="567.13" r="3.65" fill="#7C0A7C" stroke="#6A006A" stroke-width="0.6"/><circle cx="248.79" cy="566.83" r="1.15" fill="#ecd4ec"/>
<circle cx="250.93" cy="563.03" r="3.65" fill="#7C0A7C" stroke="#6A006A" stroke-width="0.6"/><circle cx="250.73" cy="562.73" r="1.15" fill="#ecd4ec"/>
<circle cx="252.56" cy="562.03" r="3.65" fill="#7C0A7C" stroke="#6A006A" stroke-width="0.6"/><circle cx="252.36" cy="561.73" r="1.15" fill="#ecd4ec"/>
<circle cx="254.12" cy="562.73" r="3.65" fill="#7C0A7C" stroke="#6A006A" stroke-width="0.6"/><circle cx="253.92" cy="562.43" r="1.15" fill="#ecd4ec"/>
<circle cx="255.46" cy="564.92" r="3.65" fill="#7C0A7C" stroke="#6A006A" stroke-width="0.6"/><circle cx="255.26" cy="564.62" r="1.15" fill="#ecd4ec"/>
<circle cx="258.21" cy="570.85" r="3.65" fill="#7C0A7C" stroke="#6A006A" stroke-width="0.6"/><circle cx="258.01" cy="570.55" r="1.15" fill="#ecd4ec"/>
<circle cx="259.58" cy="569.96" r="3.65" fill="#7C0A7C" stroke="#6A006A" stroke-width="0.6"/><circle cx="259.38" cy="569.66" r="1.15" fill="#ecd4ec"/>
<circle cx="261.24" cy="565.55" r="3.65" fill="#7C0A7C" stroke="#6A006A" stroke-width="0.6"/><circle cx="261.04" cy="565.25" r="1.15" fill="#ecd4ec"/>
<circle cx="263.67" cy="569.98" r="3.65" fill="#7C0A7C" stroke="#6A006A" stroke-width="0.6"/><circle cx="263.47" cy="569.68" r="1.15" fill="#ecd4ec"/>
<circle cx="265.31" cy="571.43" r="3.65" fill="#7C0A7C" stroke="#6A006A" stroke-width="0.6"/><circle cx="265.11" cy="571.13" r="1.15" fill="#ecd4ec"/>
<circle cx="266.52" cy="572.67" r="3.65" fill="#7C0A7C" stroke="#6A006A" stroke-width="0.6"/><circle cx="266.32" cy="572.37" r="1.15" fill="#ecd4ec"/>
<circle cx="268.81" cy="573.21" r="3.65" fill="#7C0A7C" stroke="#6A006A" stroke-width="0.6"/><circle cx="268.61" cy="572.91" r="1.15" fill="#ecd4ec"/>
<circle cx="270.58" cy="572.02" r="3.65" fill="#7C0A7C" stroke="#6A006A" stroke-width="0.6"/><circle cx="270.38" cy="571.72" r="1.15" fill="#ecd4ec"/>
<circle cx="272.85" cy="575.41" r="3.65" fill="#7C0A7C" stroke="#6A006A" stroke-width="0.6"/><circle cx="272.65" cy="575.11" r="1.15" fill="#ecd4ec"/>
<circle cx="90.51" cy="503.61" r="2.85" fill="#fff" stroke="#1EA4FF" stroke-width="1.4"/>
<circle cx="92.91" cy="502.59" r="2.85" fill="#fff" stroke="#1EA4FF" stroke-width="1.4"/>
<circle cx="95.21" cy="499.93" r="2.85" fill="#fff" stroke="#1EA4FF" stroke-width="1.4"/>
<circle cx="97.78" cy="494.82" r="2.85" fill="#fff" stroke="#1EA4FF" stroke-width="1.4"/>
<circle cx="100.83" cy="502.91" r="2.85" fill="#fff" stroke="#1EA4FF" stroke-width="1.4"/>
<circle cx="102.1" cy="499.47" r="2.85" fill="#fff" stroke="#1EA4FF" stroke-width="1.4"/>
<circle cx="105.32" cy="494.49" r="2.85" fill="#fff" stroke="#1EA4FF" stroke-width="1.4"/>
<circle cx="107.76" cy="500.79" r="2.85" fill="#fff" stroke="#1EA4FF" stroke-width="1.4"/>
<circle cx="109.53" cy="498.32" r="2.85" fill="#fff" stroke="#1EA4FF" stroke-width="1.4"/>
<circle cx="111.74" cy="501.69" r="2.85" fill="#fff" stroke="#1EA4FF" stroke-width="1.4"/>
<circle cx="114.48" cy="501.06" r="2.85" fill="#fff" stroke="#1EA4FF" stroke-width="1.4"/>
<circle cx="117.07" cy="504.79" r="2.85" fill="#fff" stroke="#1EA4FF" stroke-width="1.4"/>
<circle cx="119.73" cy="504.07" r="2.85" fill="#fff" stroke="#1EA4FF" stroke-width="1.4"/>
<circle cx="121.62" cy="503.89" r="2.85" fill="#fff" stroke="#1EA4FF" stroke-width="1.4"/>
<circle cx="124.2" cy="501.67" r="2.85" fill="#fff" stroke="#1EA4FF" stroke-width="1.4"/>
<circle cx="125.82" cy="502.72" r="2.85" fill="#fff" stroke="#1EA4FF" stroke-width="1.4"/>
<circle cx="128" cy="495.82" r="2.85" fill="#fff" stroke="#1EA4FF" stroke-width="1.4"/>
<circle cx="130.04" cy="499.54" r="2.85" fill="#fff" stroke="#1EA4FF" stroke-width="1.4"/>
<circle cx="132.57" cy="498.1" r="2.85" fill="#fff" stroke="#1EA4FF" stroke-width="1.4"/>
<circle cx="135.17" cy="497.08" r="2.85" fill="#fff" stroke="#1EA4FF" stroke-width="1.4"/>
<circle cx="137.7" cy="499.27" r="2.85" fill="#fff" stroke="#1EA4FF" stroke-width="1.4"/>
<circle cx="139.5" cy="499" r="2.85" fill="#fff" stroke="#1EA4FF" stroke-width="1.4"/>
<circle cx="142.58" cy="501.19" r="2.85" fill="#fff" stroke="#1EA4FF" stroke-width="1.4"/>
<circle cx="144.59" cy="503.77" r="2.85" fill="#fff" stroke="#1EA4FF" stroke-width="1.4"/>
<circle cx="146.73" cy="501.23" r="2.85" fill="#fff" stroke="#1EA4FF" stroke-width="1.4"/>
<circle cx="149.02" cy="505.73" r="2.85" fill="#fff" stroke="#1EA4FF" stroke-width="1.4"/>
<circle cx="152.33" cy="508.33" r="2.85" fill="#fff" stroke="#1EA4FF" stroke-width="1.4"/>
<circle cx="154.01" cy="508.81" r="2.85" fill="#fff" stroke="#1EA4FF" stroke-width="1.4"/>
<circle cx="155.97" cy="512.05" r="2.85" fill="#fff" stroke="#1EA4FF" stroke-width="1.4"/>
<circle cx="158.28" cy="510.15" r="2.85" fill="#fff" stroke="#1EA4FF" stroke-width="1.4"/>
<circle cx="161.59" cy="513.5" r="2.85" fill="#fff" stroke="#1EA4FF" stroke-width="1.4"/>
<circle cx="163.08" cy="517.79" r="2.85" fill="#fff" stroke="#1EA4FF" stroke-width="1.4"/>
<circle cx="166.03" cy="513.73" r="2.85" fill="#fff" stroke="#1EA4FF" stroke-width="1.4"/>
<circle cx="168.44" cy="514.26" r="2.85" fill="#fff" stroke="#1EA4FF" stroke-width="1.4"/>
<circle cx="169.46" cy="514.93" r="2.85" fill="#fff" stroke="#1EA4FF" stroke-width="1.4"/>
<circle cx="173.08" cy="517.64" r="2.85" fill="#fff" stroke="#1EA4FF" stroke-width="1.4"/>
<circle cx="174.87" cy="516.19" r="2.85" fill="#fff" stroke="#1EA4FF" stroke-width="1.4"/>
<circle cx="176.89" cy="518.2" r="2.85" fill="#fff" stroke="#1EA4FF" stroke-width="1.4"/>
<circle cx="179.41" cy="516.56" r="2.85" fill="#fff" stroke="#1EA4FF" stroke-width="1.4"/>
<circle cx="182.13" cy="519.46" r="2.85" fill="#fff" stroke="#1EA4FF" stroke-width="1.4"/>
<circle cx="184.4" cy="520.65" r="2.85" fill="#fff" stroke="#1EA4FF" stroke-width="1.4"/>
<circle cx="186.75" cy="521.54" r="2.85" fill="#fff" stroke="#1EA4FF" stroke-width="1.4"/>
<circle cx="188.68" cy="524.72" r="2.85" fill="#fff" stroke="#1EA4FF" stroke-width="1.4"/>
<circle cx="191.71" cy="529.79" r="2.85" fill="#fff" stroke="#1EA4FF" stroke-width="1.4"/>
<circle cx="194.12" cy="529.25" r="2.85" fill="#fff" stroke="#1EA4FF" stroke-width="1.4"/>
<circle cx="196.57" cy="527.53" r="2.85" fill="#fff" stroke="#1EA4FF" stroke-width="1.4"/>
<circle cx="198.61" cy="531.04" r="2.85" fill="#fff" stroke="#1EA4FF" stroke-width="1.4"/>
<circle cx="201.25" cy="531.16" r="2.85" fill="#fff" stroke="#1EA4FF" stroke-width="1.4"/>
<circle cx="203.65" cy="528.19" r="2.85" fill="#fff" stroke="#1EA4FF" stroke-width="1.4"/>
<circle cx="205.5" cy="531.9" r="2.85" fill="#fff" stroke="#1EA4FF" stroke-width="1.4"/>
<circle cx="207.89" cy="529.91" r="2.85" fill="#fff" stroke="#1EA4FF" stroke-width="1.4"/>
<circle cx="210.12" cy="531.38" r="2.85" fill="#fff" stroke="#1EA4FF" stroke-width="1.4"/>
<circle cx="212.44" cy="529.51" r="2.85" fill="#fff" stroke="#1EA4FF" stroke-width="1.4"/>
<circle cx="214.88" cy="528.61" r="2.85" fill="#fff" stroke="#1EA4FF" stroke-width="1.4"/>
<circle cx="216.31" cy="524.62" r="2.85" fill="#fff" stroke="#1EA4FF" stroke-width="1.4"/>
<circle cx="219.13" cy="526.77" r="2.85" fill="#fff" stroke="#1EA4FF" stroke-width="1.4"/>
<circle cx="221.74" cy="528.46" r="2.85" fill="#fff" stroke="#1EA4FF" stroke-width="1.4"/>
<circle cx="223.17" cy="530.22" r="2.85" fill="#fff" stroke="#1EA4FF" stroke-width="1.4"/>
<circle cx="225.73" cy="530.49" r="2.85" fill="#fff" stroke="#1EA4FF" stroke-width="1.4"/>
<circle cx="229.12" cy="530.09" r="2.85" fill="#fff" stroke="#1EA4FF" stroke-width="1.4"/>
<circle cx="230.53" cy="536.37" r="2.85" fill="#fff" stroke="#1EA4FF" stroke-width="1.4"/>
<circle cx="233.07" cy="533.27" r="2.85" fill="#fff" stroke="#1EA4FF" stroke-width="1.4"/>
<circle cx="235.69" cy="535.33" r="2.85" fill="#fff" stroke="#1EA4FF" stroke-width="1.4"/>
<circle cx="237.73" cy="536.31" r="2.85" fill="#fff" stroke="#1EA4FF" stroke-width="1.4"/>
<circle cx="239.92" cy="534.37" r="2.85" fill="#fff" stroke="#1EA4FF" stroke-width="1.4"/>
<circle cx="242.38" cy="536.97" r="2.85" fill="#fff" stroke="#1EA4FF" stroke-width="1.4"/>
<circle cx="244.74" cy="537.45" r="2.85" fill="#fff" stroke="#1EA4FF" stroke-width="1.4"/>
<circle cx="247.02" cy="539.99" r="2.85" fill="#fff" stroke="#1EA4FF" stroke-width="1.4"/>
<circle cx="249.62" cy="543.65" r="2.85" fill="#fff" stroke="#1EA4FF" stroke-width="1.4"/>
<circle cx="252.45" cy="541.12" r="2.85" fill="#fff" stroke="#1EA4FF" stroke-width="1.4"/>
<circle cx="254.34" cy="540.17" r="2.85" fill="#fff" stroke="#1EA4FF" stroke-width="1.4"/>
<circle cx="257.12" cy="546.78" r="2.85" fill="#fff" stroke="#1EA4FF" stroke-width="1.4"/>
<circle cx="259.14" cy="539.17" r="2.85" fill="#fff" stroke="#1EA4FF" stroke-width="1.4"/>
<circle cx="261.5" cy="541.01" r="2.85" fill="#fff" stroke="#1EA4FF" stroke-width="1.4"/>
<circle cx="263.75" cy="542.34" r="2.85" fill="#fff" stroke="#1EA4FF" stroke-width="1.4"/>
<circle cx="265.77" cy="540.99" r="2.85" fill="#fff" stroke="#1EA4FF" stroke-width="1.4"/>
<circle cx="268.35" cy="546.14" r="2.85" fill="#fff" stroke="#1EA4FF" stroke-width="1.4"/>
<circle cx="270.64" cy="546.67" r="2.85" fill="#fff" stroke="#1EA4FF" stroke-width="1.4"/>
<circle cx="272.48" cy="544.23" r="2.85" fill="#fff" stroke="#1EA4FF" stroke-width="1.4"/>
<circle cx="275.46" cy="543.82" r="2.85" fill="#fff" stroke="#1EA4FF" stroke-width="1.4"/>
<circle cx="128.8" cy="512" r="2.85" fill="#fff" stroke="#1EA4FF" stroke-width="1.4"/>
<circle cx="196.3" cy="537.5" r="2.85" fill="#fff" stroke="#1EA4FF" stroke-width="1.4"/>
<circle cx="205.9" cy="537" r="2.85" fill="#fff" stroke="#1EA4FF" stroke-width="1.4"/>
<circle cx="223.5" cy="535.5" r="2.85" fill="#fff" stroke="#1EA4FF" stroke-width="1.4"/>
<circle cx="230.3" cy="537" r="2.85" fill="#fff" stroke="#1EA4FF" stroke-width="1.4"/>
<rect x="88.44" y="489.15" width="5.5" height="5.5" fill="#fff" stroke="#F0832A" stroke-width="1.3"/>
<rect x="90.49" y="492.82" width="5.5" height="5.5" fill="#fff" stroke="#F0832A" stroke-width="1.3"/>
<rect x="92.55" y="489.44" width="5.5" height="5.5" fill="#fff" stroke="#F0832A" stroke-width="1.3"/>
<rect x="93.92" y="490.43" width="5.5" height="5.5" fill="#fff" stroke="#F0832A" stroke-width="1.3"/>
<rect x="97.04" y="489.4" width="5.5" height="5.5" fill="#fff" stroke="#F0832A" stroke-width="1.3"/>
<rect x="98.31" y="493.75" width="5.5" height="5.5" fill="#fff" stroke="#F0832A" stroke-width="1.3"/>
<rect x="101.53" y="496" width="5.5" height="5.5" fill="#fff" stroke="#F0832A" stroke-width="1.3"/>
<rect x="103.59" y="494.35" width="5.5" height="5.5" fill="#fff" stroke="#F0832A" stroke-width="1.3"/>
<rect x="105.83" y="496.92" width="5.5" height="5.5" fill="#fff" stroke="#F0832A" stroke-width="1.3"/>
<rect x="107.99" y="496.71" width="5.5" height="5.5" fill="#fff" stroke="#F0832A" stroke-width="1.3"/>
<rect x="109.96" y="495.52" width="5.5" height="5.5" fill="#fff" stroke="#F0832A" stroke-width="1.3"/>
<rect x="111.83" y="495.3" width="5.5" height="5.5" fill="#fff" stroke="#F0832A" stroke-width="1.3"/>
<rect x="114.07" y="493.31" width="5.5" height="5.5" fill="#fff" stroke="#F0832A" stroke-width="1.3"/>
<rect x="116.87" y="494.54" width="5.5" height="5.5" fill="#fff" stroke="#F0832A" stroke-width="1.3"/>
<rect x="118.3" y="496.89" width="5.5" height="5.5" fill="#fff" stroke="#F0832A" stroke-width="1.3"/>
<rect x="120.58" y="496.08" width="5.5" height="5.5" fill="#fff" stroke="#F0832A" stroke-width="1.3"/>
<rect x="122.57" y="495.67" width="5.5" height="5.5" fill="#fff" stroke="#F0832A" stroke-width="1.3"/>
<rect x="124.8" y="501.66" width="5.5" height="5.5" fill="#fff" stroke="#F0832A" stroke-width="1.3"/>
<rect x="127.04" y="499.55" width="5.5" height="5.5" fill="#fff" stroke="#F0832A" stroke-width="1.3"/>
<rect x="129.39" y="500.3" width="5.5" height="5.5" fill="#fff" stroke="#F0832A" stroke-width="1.3"/>
<rect x="131.36" y="499.81" width="5.5" height="5.5" fill="#fff" stroke="#F0832A" stroke-width="1.3"/>
<rect x="133.5" y="499.74" width="5.5" height="5.5" fill="#fff" stroke="#F0832A" stroke-width="1.3"/>
<rect x="135.57" y="503.56" width="5.5" height="5.5" fill="#fff" stroke="#F0832A" stroke-width="1.3"/>
<rect x="137.98" y="502.74" width="5.5" height="5.5" fill="#fff" stroke="#F0832A" stroke-width="1.3"/>
<rect x="139.64" y="503.8" width="5.5" height="5.5" fill="#fff" stroke="#F0832A" stroke-width="1.3"/>
<rect x="142.29" y="501" width="5.5" height="5.5" fill="#fff" stroke="#F0832A" stroke-width="1.3"/>
<rect x="144.89" y="500.4" width="5.5" height="5.5" fill="#fff" stroke="#F0832A" stroke-width="1.3"/>
<rect x="146.32" y="502.65" width="5.5" height="5.5" fill="#fff" stroke="#F0832A" stroke-width="1.3"/>
<rect x="148.73" y="506.79" width="5.5" height="5.5" fill="#fff" stroke="#F0832A" stroke-width="1.3"/>
<rect x="151.9" y="503.22" width="5.5" height="5.5" fill="#fff" stroke="#F0832A" stroke-width="1.3"/>
<rect x="152.72" y="506.47" width="5.5" height="5.5" fill="#fff" stroke="#F0832A" stroke-width="1.3"/>
<rect x="154.66" y="503.9" width="5.5" height="5.5" fill="#fff" stroke="#F0832A" stroke-width="1.3"/>
<rect x="157.24" y="504.44" width="5.5" height="5.5" fill="#fff" stroke="#F0832A" stroke-width="1.3"/>
<rect x="160.19" y="503.13" width="5.5" height="5.5" fill="#fff" stroke="#F0832A" stroke-width="1.3"/>
<rect x="162.43" y="504.57" width="5.5" height="5.5" fill="#fff" stroke="#F0832A" stroke-width="1.3"/>
<rect x="163.45" y="507.87" width="5.5" height="5.5" fill="#fff" stroke="#F0832A" stroke-width="1.3"/>
<rect x="166.24" y="507.17" width="5.5" height="5.5" fill="#fff" stroke="#F0832A" stroke-width="1.3"/>
<rect x="168.2" y="504.52" width="5.5" height="5.5" fill="#fff" stroke="#F0832A" stroke-width="1.3"/>
<rect x="170.15" y="505.15" width="5.5" height="5.5" fill="#fff" stroke="#F0832A" stroke-width="1.3"/>
<rect x="171.84" y="508.3" width="5.5" height="5.5" fill="#fff" stroke="#F0832A" stroke-width="1.3"/>
<rect x="175.04" y="506.37" width="5.5" height="5.5" fill="#fff" stroke="#F0832A" stroke-width="1.3"/>
<rect x="176.54" y="508.73" width="5.5" height="5.5" fill="#fff" stroke="#F0832A" stroke-width="1.3"/>
<rect x="179.1" y="506.52" width="5.5" height="5.5" fill="#fff" stroke="#F0832A" stroke-width="1.3"/>
<rect x="181.19" y="508.55" width="5.5" height="5.5" fill="#fff" stroke="#F0832A" stroke-width="1.3"/>
<rect x="183.98" y="509.63" width="5.5" height="5.5" fill="#fff" stroke="#F0832A" stroke-width="1.3"/>
<rect x="185.89" y="509.48" width="5.5" height="5.5" fill="#fff" stroke="#F0832A" stroke-width="1.3"/>
<rect x="187.24" y="509.33" width="5.5" height="5.5" fill="#fff" stroke="#F0832A" stroke-width="1.3"/>
<rect x="189.71" y="510.16" width="5.5" height="5.5" fill="#fff" stroke="#F0832A" stroke-width="1.3"/>
<rect x="192.33" y="510.33" width="5.5" height="5.5" fill="#fff" stroke="#F0832A" stroke-width="1.3"/>
<rect x="193.66" y="510.35" width="5.5" height="5.5" fill="#fff" stroke="#F0832A" stroke-width="1.3"/>
<rect x="196.15" y="511.27" width="5.5" height="5.5" fill="#fff" stroke="#F0832A" stroke-width="1.3"/>
<rect x="198.53" y="511.5" width="5.5" height="5.5" fill="#fff" stroke="#F0832A" stroke-width="1.3"/>
<rect x="200.04" y="511.46" width="5.5" height="5.5" fill="#fff" stroke="#F0832A" stroke-width="1.3"/>
<rect x="202.34" y="510.97" width="5.5" height="5.5" fill="#fff" stroke="#F0832A" stroke-width="1.3"/>
<rect x="204.33" y="512.29" width="5.5" height="5.5" fill="#fff" stroke="#F0832A" stroke-width="1.3"/>
<rect x="207.19" y="513.32" width="5.5" height="5.5" fill="#fff" stroke="#F0832A" stroke-width="1.3"/>
<rect x="209.05" y="513.35" width="5.5" height="5.5" fill="#fff" stroke="#F0832A" stroke-width="1.3"/>
<rect x="211.74" y="512.56" width="5.5" height="5.5" fill="#fff" stroke="#F0832A" stroke-width="1.3"/>
<rect x="213.61" y="514.44" width="5.5" height="5.5" fill="#fff" stroke="#F0832A" stroke-width="1.3"/>
<rect x="215.93" y="516.38" width="5.5" height="5.5" fill="#fff" stroke="#F0832A" stroke-width="1.3"/>
<rect x="217.86" y="513.64" width="5.5" height="5.5" fill="#fff" stroke="#F0832A" stroke-width="1.3"/>
<rect x="220.32" y="515.03" width="5.5" height="5.5" fill="#fff" stroke="#F0832A" stroke-width="1.3"/>
<rect x="222.18" y="516.55" width="5.5" height="5.5" fill="#fff" stroke="#F0832A" stroke-width="1.3"/>
<rect x="224.03" y="515.2" width="5.5" height="5.5" fill="#fff" stroke="#F0832A" stroke-width="1.3"/>
<rect x="226.95" y="515.39" width="5.5" height="5.5" fill="#fff" stroke="#F0832A" stroke-width="1.3"/>
<rect x="229.04" y="515.91" width="5.5" height="5.5" fill="#fff" stroke="#F0832A" stroke-width="1.3"/>
<rect x="231.65" y="516.3" width="5.5" height="5.5" fill="#fff" stroke="#F0832A" stroke-width="1.3"/>
<rect x="232.97" y="515.42" width="5.5" height="5.5" fill="#fff" stroke="#F0832A" stroke-width="1.3"/>
<rect x="234.98" y="516.39" width="5.5" height="5.5" fill="#fff" stroke="#F0832A" stroke-width="1.3"/>
<rect x="236.83" y="513.94" width="5.5" height="5.5" fill="#fff" stroke="#F0832A" stroke-width="1.3"/>
<rect x="238.15" y="515.9" width="5.5" height="5.5" fill="#fff" stroke="#F0832A" stroke-width="1.3"/>
<rect x="241.2" y="515.6" width="5.5" height="5.5" fill="#fff" stroke="#F0832A" stroke-width="1.3"/>
<rect x="243.99" y="515.14" width="5.5" height="5.5" fill="#fff" stroke="#F0832A" stroke-width="1.3"/>
<rect x="245.67" y="515.56" width="5.5" height="5.5" fill="#fff" stroke="#F0832A" stroke-width="1.3"/>
<rect x="247.23" y="515.29" width="5.5" height="5.5" fill="#fff" stroke="#F0832A" stroke-width="1.3"/>
<rect x="250.52" y="516.31" width="5.5" height="5.5" fill="#fff" stroke="#F0832A" stroke-width="1.3"/>
<rect x="252.26" y="514.88" width="5.5" height="5.5" fill="#fff" stroke="#F0832A" stroke-width="1.3"/>
<rect x="254.5" y="515.22" width="5.5" height="5.5" fill="#fff" stroke="#F0832A" stroke-width="1.3"/>
<rect x="256.63" y="514.14" width="5.5" height="5.5" fill="#fff" stroke="#F0832A" stroke-width="1.3"/>
<rect x="258.9" y="514.35" width="5.5" height="5.5" fill="#fff" stroke="#F0832A" stroke-width="1.3"/>
<rect x="261.27" y="515.24" width="5.5" height="5.5" fill="#fff" stroke="#F0832A" stroke-width="1.3"/>
<rect x="262.66" y="514.29" width="5.5" height="5.5" fill="#fff" stroke="#F0832A" stroke-width="1.3"/>
<rect x="265.35" y="515.05" width="5.5" height="5.5" fill="#fff" stroke="#F0832A" stroke-width="1.3"/>
<rect x="267.41" y="514.73" width="5.5" height="5.5" fill="#fff" stroke="#F0832A" stroke-width="1.3"/>
<rect x="270.15" y="515.46" width="5.5" height="5.5" fill="#fff" stroke="#F0832A" stroke-width="1.3"/>
<line x1="272" y1="484.6" x2="272" y2="690.6" stroke="#222" stroke-width="1.5" />
<line x1="90.4" y1="484.6" x2="696.4" y2="484.6" stroke="#333" stroke-width="1.2" />
<line x1="696.4" y1="484.6" x2="696.4" y2="690.6" stroke="#333" stroke-width="1.2" />
<line x1="90.4" y1="484.6" x2="90.4" y2="690.6" stroke="#333" stroke-width="1.3" />
<line x1="90.4" y1="690.6" x2="696.4" y2="690.6" stroke="#333" stroke-width="1.3" />
<line x1="87.4" y1="690.6" x2="90.4" y2="690.6" stroke="#333" stroke-width="1" />
<text x="84.3" y="694.9" font-size="12.2" text-anchor="end" fill="#1c1c1c" >0.4</text>
<line x1="87.4" y1="627.54" x2="90.4" y2="627.54" stroke="#333" stroke-width="1" />
<text x="84.3" y="631.84" font-size="12.2" text-anchor="end" fill="#1c1c1c" >0.6</text>
<line x1="87.4" y1="564.48" x2="90.4" y2="564.48" stroke="#333" stroke-width="1" />
<text x="84.3" y="568.78" font-size="12.2" text-anchor="end" fill="#1c1c1c" >0.8</text>
<line x1="87.4" y1="501.42" x2="90.4" y2="501.42" stroke="#333" stroke-width="1" />
<text x="84.3" y="505.72" font-size="12.2" text-anchor="end" fill="#1c1c1c" >1.0</text>
<line x1="90.4" y1="690.6" x2="90.4" y2="693.6" stroke="#333" stroke-width="1" />
<text x="90.4" y="706.1" font-size="12.2" text-anchor="middle" fill="#1c1c1c" >0</text>
<line x1="151" y1="690.6" x2="151" y2="693.6" stroke="#333" stroke-width="1" />
<text x="151" y="706.1" font-size="12.2" text-anchor="middle" fill="#1c1c1c" >200</text>
<line x1="211.6" y1="690.6" x2="211.6" y2="693.6" stroke="#333" stroke-width="1" />
<text x="211.6" y="706.1" font-size="12.2" text-anchor="middle" fill="#1c1c1c" >400</text>
<line x1="272.2" y1="690.6" x2="272.2" y2="693.6" stroke="#333" stroke-width="1" />
<text x="272.2" y="706.1" font-size="12.2" text-anchor="middle" fill="#1c1c1c" >600</text>
<line x1="332.8" y1="690.6" x2="332.8" y2="693.6" stroke="#333" stroke-width="1" />
<text x="332.8" y="706.1" font-size="12.2" text-anchor="middle" fill="#1c1c1c" >800</text>
<line x1="393.4" y1="690.6" x2="393.4" y2="693.6" stroke="#333" stroke-width="1" />
<text x="393.4" y="706.1" font-size="12.2" text-anchor="middle" fill="#1c1c1c" >1000</text>
<line x1="454" y1="690.6" x2="454" y2="693.6" stroke="#333" stroke-width="1" />
<text x="454" y="706.1" font-size="12.2" text-anchor="middle" fill="#1c1c1c" >1200</text>
<line x1="514.6" y1="690.6" x2="514.6" y2="693.6" stroke="#333" stroke-width="1" />
<text x="514.6" y="706.1" font-size="12.2" text-anchor="middle" fill="#1c1c1c" >1400</text>
<line x1="575.2" y1="690.6" x2="575.2" y2="693.6" stroke="#333" stroke-width="1" />
<text x="575.2" y="706.1" font-size="12.2" text-anchor="middle" fill="#1c1c1c" >1600</text>
<line x1="635.8" y1="690.6" x2="635.8" y2="693.6" stroke="#333" stroke-width="1" />
<text x="635.8" y="706.1" font-size="12.2" text-anchor="middle" fill="#1c1c1c" >1800</text>
<line x1="696.4" y1="690.6" x2="696.4" y2="693.6" stroke="#333" stroke-width="1" />
<text x="696.4" y="706.1" font-size="12.2" text-anchor="middle" fill="#1c1c1c" >2000</text>
<text x="394" y="726.3" font-size="15" text-anchor="middle" fill="#1c1c1c" >Time (h)</text>
<text transform="translate(61.4,587) rotate(-90)" font-size="15.4" text-anchor="middle" fill="#222">Current density (mA cm<tspan font-size="10" dy="-5.5">&#8722;2</tspan><tspan dy="5.5">)</tspan></text>
<line x1="97" y1="604.7" x2="267" y2="604.7" stroke="#000" stroke-width="1.2" />
<path d="M94.2,604.7 L102.5,601.6 L102.5,607.8 Z" fill="#000"/>
<path d="M270.2,604.7 L261.9,601.6 L261.9,607.8 Z" fill="#000"/>
<line x1="279" y1="604.7" x2="689" y2="604.7" stroke="#000" stroke-width="1.2" />
<path d="M275.8,604.7 L284.1,601.6 L284.1,607.8 Z" fill="#000"/>
<path d="M692.6,604.7 L684.3,601.6 L684.3,607.8 Z" fill="#000"/>
<text x="182.5" y="620.8" font-size="12.5" text-anchor="middle" fill="#1c1c1c" >Actual measurement</text>
<text x="484" y="620.8" font-size="12.6" text-anchor="middle" fill="#1c1c1c" >Linear extrapolation</text>
<text x="101.7" y="674.5" font-size="12.6" text-anchor="start" fill="#1c1c1c" >Maxumum power point (MPP) tracking under 1-Sun illumination</text>
<text x="204.4" y="589.5" font-size="12.5" fill="#222"><tspan font-style="italic">T</tspan><tspan font-style="italic" font-size="9" dy="3">80</tspan><tspan dy="-3"> = 465 h</tspan></text>
<text x="311.9" y="580.5" font-size="12.5" fill="#222"><tspan font-style="italic">T</tspan><tspan font-style="italic" font-size="9" dy="3">80</tspan><tspan dy="-3"> = 839 h</tspan></text>
<text x="622.4" y="579.5" font-size="12.5" fill="#222"><tspan font-style="italic">T</tspan><tspan font-style="italic" font-size="9" dy="3">80</tspan><tspan dy="-3"> = 1951 h</tspan></text>
<line x1="554.5" y1="647.6" x2="582.8" y2="647.6" stroke="#800080" stroke-width="1.1" />
<circle cx="569.3" cy="647.6" r="4.2" fill="#800080"/><circle cx="568.2" cy="646.5" r="1.4" fill="#e2c6e2"/>
<text x="586.7" y="652" font-size="12.5" text-anchor="start" fill="#222" >PTAA/PVSK</text>
<line x1="554.5" y1="662.8" x2="582.8" y2="662.8" stroke="#1EA4FF" stroke-width="1.1" />
<circle cx="569.3" cy="662.8" r="3.3" fill="#fff" stroke="#1EA4FF" stroke-width="1.3"/>
<text x="586.7" y="667.2" font-size="12.5" text-anchor="start" fill="#222" >CAZ-NCS/PVSK</text>
<line x1="554.5" y1="678" x2="582.8" y2="678" stroke="#F0832A" stroke-width="1.1" />
<rect x="566.3" y="675" width="6" height="6" fill="#fff" stroke="#F0832A" stroke-width="1.2"/>
<text x="586.7" y="682.4" font-size="12.5" text-anchor="start" fill="#222" >CAZ-NCS-P/PVSK</text>
</svg></body></html>
